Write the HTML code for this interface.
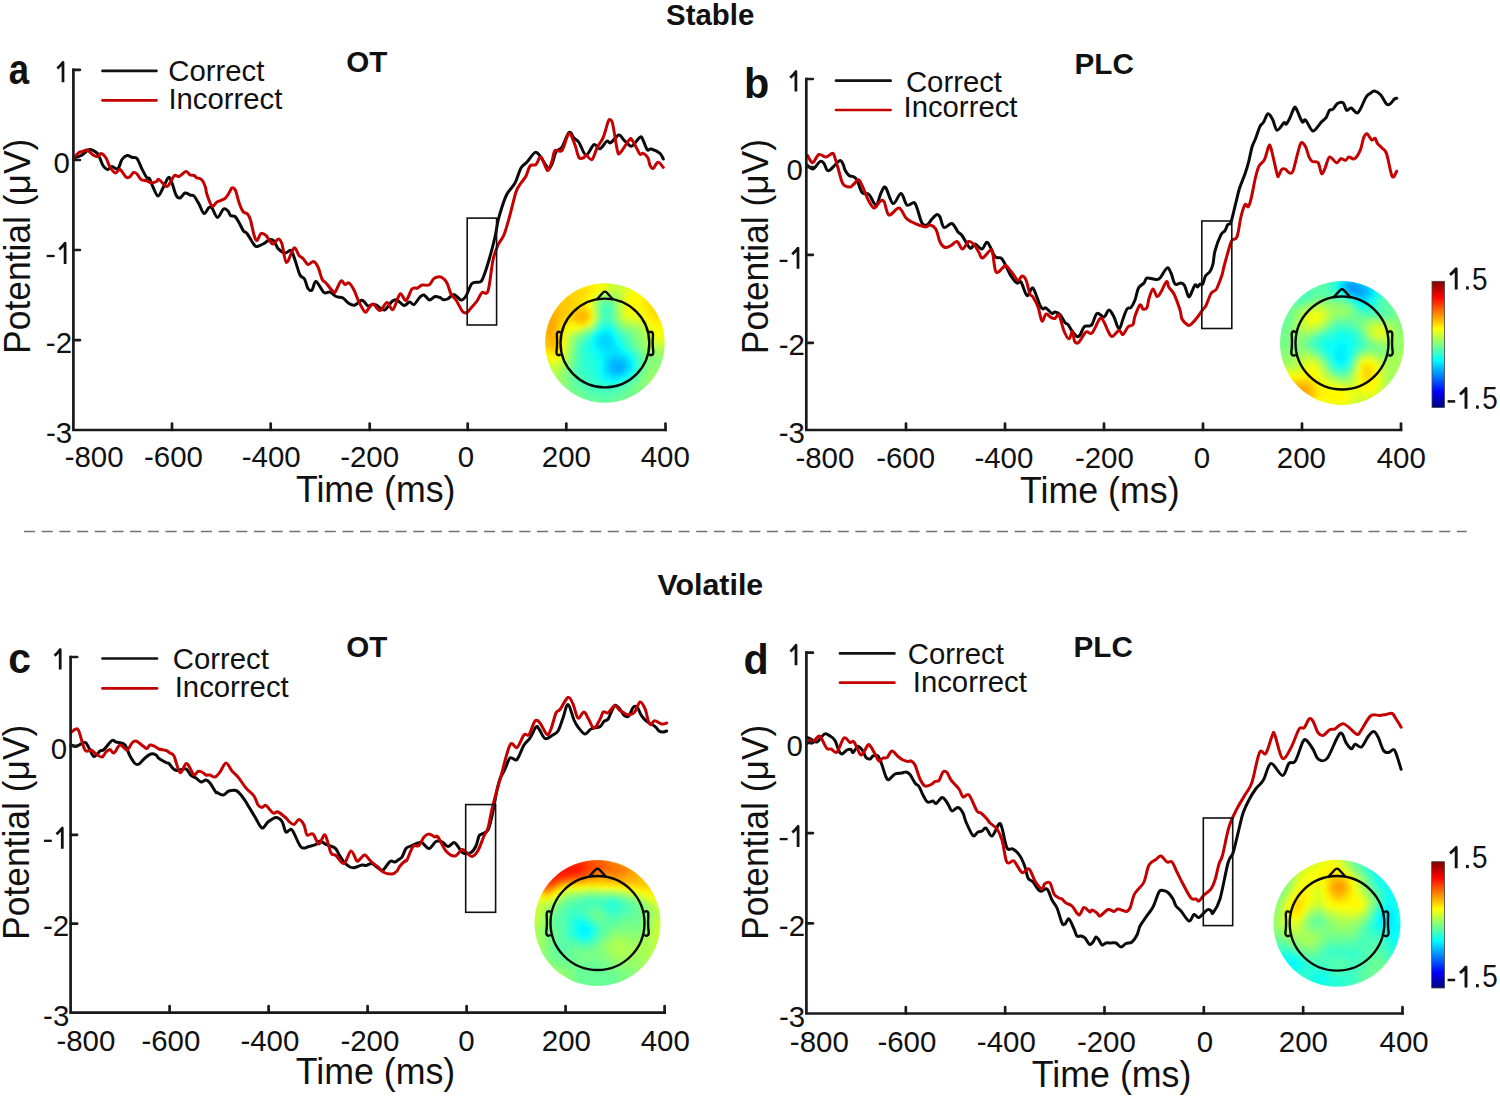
<!DOCTYPE html><html><head><meta charset="utf-8"><style>html,body{margin:0;padding:0;background:#fff;overflow:hidden}svg{display:block}text{font-family:"Liberation Sans", sans-serif}</style></head><body>
<svg width="1500" height="1098" viewBox="0 0 1500 1098">
<rect width="1500" height="1098" fill="#fff"/>
<text x="666.12" y="24.7" font-size="29.9" font-weight="bold" textLength="88.21" lengthAdjust="spacingAndGlyphs" fill="#111">Stable</text>
<text x="657.47" y="595.2" font-size="29.6" font-weight="bold" textLength="105.76" lengthAdjust="spacingAndGlyphs" fill="#111">Volatile</text>
<line x1="24" y1="531.6" x2="1466.7" y2="531.6" stroke="#727272" stroke-width="1.5" stroke-dasharray="11.1 6.59"/>
<defs><filter id="tb" x="-10%" y="-10%" width="120%" height="120%"><feGaussianBlur stdDeviation="2.2"/></filter>
<clipPath id="cpa"><circle cx="604.90" cy="343.00" r="59.80"/></clipPath>
<clipPath id="cpb"><circle cx="1342.00" cy="343.00" r="62.00"/></clipPath>
<clipPath id="cpc"><circle cx="597.50" cy="923.00" r="63.00"/></clipPath>
<clipPath id="cpd"><circle cx="1337.00" cy="923.30" r="63.50"/></clipPath>
<linearGradient id="jetg" x1="0" y1="0" x2="0" y2="1"><stop offset="0.0000" stop-color="#800000"/><stop offset="0.0312" stop-color="#9f0000"/><stop offset="0.0625" stop-color="#bf0000"/><stop offset="0.0938" stop-color="#df0000"/><stop offset="0.1250" stop-color="#ff0000"/><stop offset="0.1562" stop-color="#ff2000"/><stop offset="0.1875" stop-color="#ff4000"/><stop offset="0.2188" stop-color="#ff6000"/><stop offset="0.2500" stop-color="#ff8000"/><stop offset="0.2812" stop-color="#ff9f00"/><stop offset="0.3125" stop-color="#ffbf00"/><stop offset="0.3438" stop-color="#ffdf00"/><stop offset="0.3750" stop-color="#ffff00"/><stop offset="0.4062" stop-color="#dfff20"/><stop offset="0.4375" stop-color="#bfff40"/><stop offset="0.4688" stop-color="#9fff60"/><stop offset="0.5000" stop-color="#80ff80"/><stop offset="0.5312" stop-color="#60ff9f"/><stop offset="0.5625" stop-color="#40ffbf"/><stop offset="0.5938" stop-color="#20ffdf"/><stop offset="0.6250" stop-color="#00ffff"/><stop offset="0.6562" stop-color="#00dfff"/><stop offset="0.6875" stop-color="#00bfff"/><stop offset="0.7188" stop-color="#009fff"/><stop offset="0.7500" stop-color="#0080ff"/><stop offset="0.7812" stop-color="#0060ff"/><stop offset="0.8125" stop-color="#0040ff"/><stop offset="0.8438" stop-color="#0020ff"/><stop offset="0.8750" stop-color="#0000ff"/><stop offset="0.9062" stop-color="#0000df"/><stop offset="0.9375" stop-color="#0000bf"/><stop offset="0.9688" stop-color="#00009f"/><stop offset="1.0000" stop-color="#000080"/></linearGradient>
</defs>
<g clip-path="url(#cpa)"><g filter="url(#tb)">
<path fill="#e7ff18" d="M583 277h5v5h-5zM587 277h5v5h-5zM591 277h5v5h-5zM595 277h5v5h-5zM599 277h5v5h-5zM603 281h5v5h-5zM603 285h5v5h-5zM627 285h5v5h-5zM631 285h5v5h-5zM635 285h5v5h-5zM639 285h5v5h-5zM599 289h5v5h-5zM627 289h5v5h-5zM623 293h5v5h-5zM623 297h5v5h-5zM623 301h5v5h-5zM623 305h5v5h-5zM623 309h5v5h-5zM591 313h5v5h-5zM623 313h5v5h-5zM627 313h5v5h-5zM635 313h5v5h-5zM591 317h5v5h-5zM639 317h5v5h-5zM643 321h5v5h-5zM579 325h5v5h-5zM647 325h5v5h-5zM567 329h5v5h-5zM563 333h5v5h-5zM651 333h5v5h-5zM663 333h5v5h-5zM563 337h5v5h-5zM655 337h5v5h-5zM659 337h5v5h-5zM563 341h5v5h-5zM539 353h5v5h-5zM559 353h5v5h-5zM543 357h5v5h-5zM555 357h5v5h-5zM551 361h5v5h-5z"/>
<path fill="#d7ff28" d="M603 277h5v5h-5zM607 277h5v5h-5zM607 281h5v5h-5zM627 281h5v5h-5zM631 281h5v5h-5zM607 285h5v5h-5zM623 285h5v5h-5zM603 289h5v5h-5zM619 289h5v5h-5zM623 289h5v5h-5zM595 293h5v5h-5zM591 297h5v5h-5zM591 309h5v5h-5zM623 317h5v5h-5zM627 317h5v5h-5zM631 317h5v5h-5zM635 317h5v5h-5zM639 321h5v5h-5zM667 321h5v5h-5zM583 325h5v5h-5zM667 325h5v5h-5zM571 329h5v5h-5zM647 329h5v5h-5zM667 329h5v5h-5zM667 333h5v5h-5zM651 337h5v5h-5zM663 337h5v5h-5zM655 341h5v5h-5zM659 341h5v5h-5zM563 345h5v5h-5zM563 349h5v5h-5zM539 357h5v5h-5zM559 357h5v5h-5zM543 361h5v5h-5zM547 361h5v5h-5zM555 361h5v5h-5z"/>
<path fill="#c7ff38" d="M611 277h5v5h-5zM611 281h5v5h-5zM615 281h5v5h-5zM619 281h5v5h-5zM623 281h5v5h-5zM611 285h5v5h-5zM615 285h5v5h-5zM619 285h5v5h-5zM607 289h5v5h-5zM611 289h5v5h-5zM615 289h5v5h-5zM619 293h5v5h-5zM619 297h5v5h-5zM591 301h5v5h-5zM619 301h5v5h-5zM591 305h5v5h-5zM619 305h5v5h-5zM619 309h5v5h-5zM619 313h5v5h-5zM631 321h5v5h-5zM635 321h5v5h-5zM643 325h5v5h-5zM575 329h5v5h-5zM643 329h5v5h-5zM567 333h5v5h-5zM647 333h5v5h-5zM647 337h5v5h-5zM667 337h5v5h-5zM651 341h5v5h-5zM663 341h5v5h-5zM667 341h5v5h-5zM563 353h5v5h-5zM539 361h5v5h-5zM559 361h5v5h-5zM543 365h5v5h-5zM547 365h5v5h-5zM551 365h5v5h-5zM555 365h5v5h-5z"/>
<path fill="#b7ff48" d="M615 277h5v5h-5zM619 277h5v5h-5zM623 277h5v5h-5zM599 293h5v5h-5zM615 293h5v5h-5zM595 297h5v5h-5zM619 317h5v5h-5zM591 321h5v5h-5zM623 321h5v5h-5zM627 321h5v5h-5zM587 325h5v5h-5zM639 325h5v5h-5zM579 329h5v5h-5zM571 333h5v5h-5zM643 333h5v5h-5zM567 337h5v5h-5zM567 341h5v5h-5zM647 341h5v5h-5zM651 345h5v5h-5zM655 345h5v5h-5zM659 345h5v5h-5zM663 345h5v5h-5zM667 345h5v5h-5zM563 357h5v5h-5zM559 365h5v5h-5zM543 369h5v5h-5zM547 369h5v5h-5zM551 369h5v5h-5zM555 369h5v5h-5zM547 373h5v5h-5zM551 373h5v5h-5z"/>
<path fill="#f7ff08" d="M575 281h5v5h-5zM595 281h5v5h-5zM599 281h5v5h-5zM599 285h5v5h-5zM595 289h5v5h-5zM631 289h5v5h-5zM635 289h5v5h-5zM639 289h5v5h-5zM643 289h5v5h-5zM591 293h5v5h-5zM627 293h5v5h-5zM587 297h5v5h-5zM627 297h5v5h-5zM587 301h5v5h-5zM627 301h5v5h-5zM587 305h5v5h-5zM627 305h5v5h-5zM631 305h5v5h-5zM635 305h5v5h-5zM627 309h5v5h-5zM631 309h5v5h-5zM635 309h5v5h-5zM639 309h5v5h-5zM631 313h5v5h-5zM639 313h5v5h-5zM663 313h5v5h-5zM643 317h5v5h-5zM663 317h5v5h-5zM587 321h5v5h-5zM647 321h5v5h-5zM663 321h5v5h-5zM567 325h5v5h-5zM571 325h5v5h-5zM575 325h5v5h-5zM651 325h5v5h-5zM663 325h5v5h-5zM563 329h5v5h-5zM651 329h5v5h-5zM655 329h5v5h-5zM659 329h5v5h-5zM663 329h5v5h-5zM655 333h5v5h-5zM659 333h5v5h-5zM539 349h5v5h-5zM559 349h5v5h-5zM543 353h5v5h-5zM547 357h5v5h-5zM551 357h5v5h-5z"/>
<path fill="#fff700" d="M579 281h5v5h-5zM583 281h5v5h-5zM587 281h5v5h-5zM591 281h5v5h-5zM567 285h5v5h-5zM571 285h5v5h-5zM591 285h5v5h-5zM595 285h5v5h-5zM591 289h5v5h-5zM587 293h5v5h-5zM631 293h5v5h-5zM635 293h5v5h-5zM639 293h5v5h-5zM643 293h5v5h-5zM647 293h5v5h-5zM631 297h5v5h-5zM635 297h5v5h-5zM639 297h5v5h-5zM643 297h5v5h-5zM583 301h5v5h-5zM631 301h5v5h-5zM635 301h5v5h-5zM639 301h5v5h-5zM639 305h5v5h-5zM659 305h5v5h-5zM643 309h5v5h-5zM643 313h5v5h-5zM647 317h5v5h-5zM659 317h5v5h-5zM567 321h5v5h-5zM651 321h5v5h-5zM655 321h5v5h-5zM659 321h5v5h-5zM563 325h5v5h-5zM655 325h5v5h-5zM659 325h5v5h-5zM559 341h5v5h-5zM539 345h5v5h-5zM559 345h5v5h-5zM543 349h5v5h-5zM547 353h5v5h-5zM551 353h5v5h-5zM555 353h5v5h-5z"/>
<path fill="#ffe700" d="M575 285h5v5h-5zM579 285h5v5h-5zM583 285h5v5h-5zM587 285h5v5h-5zM563 289h5v5h-5zM567 289h5v5h-5zM587 289h5v5h-5zM559 293h5v5h-5zM583 293h5v5h-5zM579 297h5v5h-5zM583 297h5v5h-5zM647 297h5v5h-5zM651 297h5v5h-5zM579 301h5v5h-5zM643 301h5v5h-5zM647 301h5v5h-5zM655 301h5v5h-5zM583 305h5v5h-5zM643 305h5v5h-5zM647 305h5v5h-5zM587 309h5v5h-5zM647 309h5v5h-5zM659 309h5v5h-5zM647 313h5v5h-5zM651 313h5v5h-5zM659 313h5v5h-5zM587 317h5v5h-5zM651 317h5v5h-5zM655 317h5v5h-5zM563 321h5v5h-5zM571 321h5v5h-5zM575 321h5v5h-5zM583 321h5v5h-5zM559 325h5v5h-5zM559 329h5v5h-5zM559 333h5v5h-5zM539 337h5v5h-5zM559 337h5v5h-5zM539 341h5v5h-5zM547 349h5v5h-5zM555 349h5v5h-5z"/>
<path fill="#ffd700" d="M571 289h5v5h-5zM575 289h5v5h-5zM579 289h5v5h-5zM583 289h5v5h-5zM563 293h5v5h-5zM567 293h5v5h-5zM571 293h5v5h-5zM575 293h5v5h-5zM579 293h5v5h-5zM555 297h5v5h-5zM559 297h5v5h-5zM571 297h5v5h-5zM575 297h5v5h-5zM551 301h5v5h-5zM571 301h5v5h-5zM575 301h5v5h-5zM651 301h5v5h-5zM547 305h5v5h-5zM567 305h5v5h-5zM571 305h5v5h-5zM575 305h5v5h-5zM579 305h5v5h-5zM651 305h5v5h-5zM655 305h5v5h-5zM567 309h5v5h-5zM651 309h5v5h-5zM655 309h5v5h-5zM563 313h5v5h-5zM567 313h5v5h-5zM587 313h5v5h-5zM655 313h5v5h-5zM559 317h5v5h-5zM563 317h5v5h-5zM567 317h5v5h-5zM571 317h5v5h-5zM539 321h5v5h-5zM559 321h5v5h-5zM579 321h5v5h-5zM539 325h5v5h-5zM539 329h5v5h-5zM539 333h5v5h-5zM555 341h5v5h-5zM543 345h5v5h-5zM555 345h5v5h-5zM551 349h5v5h-5z"/>
<path fill="#a7ff58" d="M603 293h5v5h-5zM607 293h5v5h-5zM611 293h5v5h-5zM615 297h5v5h-5zM615 301h5v5h-5zM615 305h5v5h-5zM595 313h5v5h-5zM631 325h5v5h-5zM635 325h5v5h-5zM639 329h5v5h-5zM643 337h5v5h-5zM643 341h5v5h-5zM567 345h5v5h-5zM647 345h5v5h-5zM567 349h5v5h-5zM655 349h5v5h-5zM659 349h5v5h-5zM663 349h5v5h-5zM667 349h5v5h-5zM563 361h5v5h-5zM559 369h5v5h-5zM555 373h5v5h-5zM547 377h5v5h-5zM551 377h5v5h-5zM555 377h5v5h-5zM551 381h5v5h-5z"/>
<path fill="#ffc700" d="M563 297h5v5h-5zM567 297h5v5h-5zM555 301h5v5h-5zM559 301h5v5h-5zM563 301h5v5h-5zM567 301h5v5h-5zM551 305h5v5h-5zM555 305h5v5h-5zM559 305h5v5h-5zM563 305h5v5h-5zM547 309h5v5h-5zM559 309h5v5h-5zM563 309h5v5h-5zM571 309h5v5h-5zM575 309h5v5h-5zM579 309h5v5h-5zM583 309h5v5h-5zM543 313h5v5h-5zM559 313h5v5h-5zM571 313h5v5h-5zM575 317h5v5h-5zM583 317h5v5h-5zM555 321h5v5h-5zM555 325h5v5h-5zM555 329h5v5h-5zM555 333h5v5h-5zM543 337h5v5h-5zM555 337h5v5h-5zM543 341h5v5h-5zM547 345h5v5h-5zM551 345h5v5h-5z"/>
<path fill="#97ff68" d="M599 297h5v5h-5zM611 297h5v5h-5zM595 301h5v5h-5zM595 305h5v5h-5zM595 309h5v5h-5zM615 309h5v5h-5zM615 313h5v5h-5zM595 317h5v5h-5zM619 321h5v5h-5zM627 325h5v5h-5zM583 329h5v5h-5zM635 329h5v5h-5zM575 333h5v5h-5zM639 333h5v5h-5zM571 337h5v5h-5zM639 337h5v5h-5zM643 345h5v5h-5zM647 349h5v5h-5zM651 349h5v5h-5zM567 353h5v5h-5zM655 353h5v5h-5zM659 353h5v5h-5zM663 353h5v5h-5zM667 353h5v5h-5zM567 357h5v5h-5zM663 357h5v5h-5zM667 357h5v5h-5zM667 361h5v5h-5zM563 365h5v5h-5zM655 365h5v5h-5zM659 365h5v5h-5zM663 365h5v5h-5zM651 369h5v5h-5zM655 369h5v5h-5zM659 369h5v5h-5zM663 369h5v5h-5zM559 373h5v5h-5zM647 373h5v5h-5zM651 373h5v5h-5zM655 373h5v5h-5zM659 373h5v5h-5zM559 377h5v5h-5zM647 377h5v5h-5zM651 377h5v5h-5zM655 377h5v5h-5zM659 377h5v5h-5zM555 381h5v5h-5zM559 381h5v5h-5zM647 381h5v5h-5zM651 381h5v5h-5zM655 381h5v5h-5zM555 385h5v5h-5zM559 385h5v5h-5zM559 389h5v5h-5z"/>
<path fill="#78ff87" d="M603 297h5v5h-5zM607 297h5v5h-5zM611 301h5v5h-5zM595 321h5v5h-5zM615 321h5v5h-5zM619 325h5v5h-5zM587 329h5v5h-5zM627 329h5v5h-5zM579 333h5v5h-5zM631 333h5v5h-5zM575 337h5v5h-5zM635 341h5v5h-5zM635 345h5v5h-5zM571 349h5v5h-5zM639 349h5v5h-5zM571 353h5v5h-5zM643 353h5v5h-5zM571 357h5v5h-5zM643 357h5v5h-5zM643 361h5v5h-5zM567 365h5v5h-5zM643 365h5v5h-5zM567 369h5v5h-5zM643 369h5v5h-5zM567 373h5v5h-5zM639 373h5v5h-5zM567 377h5v5h-5zM639 377h5v5h-5zM567 381h5v5h-5zM635 381h5v5h-5zM567 385h5v5h-5zM631 385h5v5h-5zM635 385h5v5h-5zM567 389h5v5h-5zM571 389h5v5h-5zM631 389h5v5h-5zM635 389h5v5h-5zM639 389h5v5h-5zM571 393h5v5h-5zM575 393h5v5h-5zM627 393h5v5h-5zM631 393h5v5h-5zM635 393h5v5h-5zM639 393h5v5h-5zM643 393h5v5h-5zM575 397h5v5h-5zM579 397h5v5h-5zM623 397h5v5h-5zM627 397h5v5h-5zM631 397h5v5h-5zM635 397h5v5h-5zM639 397h5v5h-5zM579 401h5v5h-5zM583 401h5v5h-5zM587 401h5v5h-5zM591 401h5v5h-5zM611 401h5v5h-5zM615 401h5v5h-5zM619 401h5v5h-5zM623 401h5v5h-5zM627 401h5v5h-5zM631 401h5v5h-5zM587 405h5v5h-5zM591 405h5v5h-5zM595 405h5v5h-5zM599 405h5v5h-5zM603 405h5v5h-5zM607 405h5v5h-5zM611 405h5v5h-5zM615 405h5v5h-5zM619 405h5v5h-5z"/>
<path fill="#68ff97" d="M599 301h5v5h-5zM611 305h5v5h-5zM611 309h5v5h-5zM599 313h5v5h-5zM611 313h5v5h-5zM611 317h5v5h-5zM623 329h5v5h-5zM583 333h5v5h-5zM627 333h5v5h-5zM631 337h5v5h-5zM575 341h5v5h-5zM631 341h5v5h-5zM639 353h5v5h-5zM571 361h5v5h-5zM571 365h5v5h-5zM639 369h5v5h-5zM571 377h5v5h-5zM635 377h5v5h-5zM571 381h5v5h-5zM631 381h5v5h-5zM571 385h5v5h-5zM575 385h5v5h-5zM627 385h5v5h-5zM575 389h5v5h-5zM579 389h5v5h-5zM623 389h5v5h-5zM627 389h5v5h-5zM579 393h5v5h-5zM583 393h5v5h-5zM619 393h5v5h-5zM623 393h5v5h-5zM583 397h5v5h-5zM587 397h5v5h-5zM591 397h5v5h-5zM595 397h5v5h-5zM607 397h5v5h-5zM611 397h5v5h-5zM615 397h5v5h-5zM619 397h5v5h-5zM595 401h5v5h-5zM599 401h5v5h-5zM603 401h5v5h-5zM607 401h5v5h-5z"/>
<path fill="#58ffa7" d="M603 301h5v5h-5zM607 301h5v5h-5zM599 305h5v5h-5zM599 309h5v5h-5zM599 317h5v5h-5zM615 325h5v5h-5zM619 329h5v5h-5zM623 333h5v5h-5zM579 337h5v5h-5zM627 337h5v5h-5zM575 345h5v5h-5zM631 345h5v5h-5zM575 349h5v5h-5zM635 349h5v5h-5zM575 353h5v5h-5zM575 357h5v5h-5zM639 357h5v5h-5zM639 361h5v5h-5zM639 365h5v5h-5zM571 369h5v5h-5zM571 373h5v5h-5zM635 373h5v5h-5zM575 377h5v5h-5zM575 381h5v5h-5zM627 381h5v5h-5zM579 385h5v5h-5zM583 385h5v5h-5zM623 385h5v5h-5zM583 389h5v5h-5zM587 389h5v5h-5zM615 389h5v5h-5zM619 389h5v5h-5zM587 393h5v5h-5zM591 393h5v5h-5zM595 393h5v5h-5zM599 393h5v5h-5zM607 393h5v5h-5zM611 393h5v5h-5zM615 393h5v5h-5zM599 397h5v5h-5zM603 397h5v5h-5z"/>
<path fill="#48ffb7" d="M603 305h5v5h-5zM607 305h5v5h-5zM607 309h5v5h-5zM603 313h5v5h-5zM607 313h5v5h-5zM607 317h5v5h-5zM599 321h5v5h-5zM611 321h5v5h-5zM595 325h5v5h-5zM591 329h5v5h-5zM587 333h5v5h-5zM583 337h5v5h-5zM623 337h5v5h-5zM579 341h5v5h-5zM627 341h5v5h-5zM627 345h5v5h-5zM631 349h5v5h-5zM635 353h5v5h-5zM575 361h5v5h-5zM575 365h5v5h-5zM575 369h5v5h-5zM635 369h5v5h-5zM575 373h5v5h-5zM579 373h5v5h-5zM579 377h5v5h-5zM583 377h5v5h-5zM631 377h5v5h-5zM579 381h5v5h-5zM583 381h5v5h-5zM587 381h5v5h-5zM623 381h5v5h-5zM587 385h5v5h-5zM591 385h5v5h-5zM615 385h5v5h-5zM619 385h5v5h-5zM591 389h5v5h-5zM595 389h5v5h-5zM599 389h5v5h-5zM603 389h5v5h-5zM607 389h5v5h-5zM611 389h5v5h-5zM603 393h5v5h-5z"/>
<path fill="#ffb700" d="M551 309h5v5h-5zM555 309h5v5h-5zM547 313h5v5h-5zM551 313h5v5h-5zM555 313h5v5h-5zM575 313h5v5h-5zM579 313h5v5h-5zM583 313h5v5h-5zM543 317h5v5h-5zM555 317h5v5h-5zM579 317h5v5h-5zM543 321h5v5h-5zM543 325h5v5h-5zM543 329h5v5h-5zM551 329h5v5h-5zM543 333h5v5h-5zM551 333h5v5h-5zM547 337h5v5h-5zM551 337h5v5h-5zM547 341h5v5h-5zM551 341h5v5h-5z"/>
<path fill="#38ffc7" d="M603 309h5v5h-5zM603 317h5v5h-5zM607 321h5v5h-5zM611 325h5v5h-5zM615 329h5v5h-5zM619 333h5v5h-5zM583 341h5v5h-5zM623 341h5v5h-5zM579 345h5v5h-5zM579 349h5v5h-5zM579 353h5v5h-5zM579 357h5v5h-5zM635 357h5v5h-5zM579 361h5v5h-5zM635 361h5v5h-5zM579 365h5v5h-5zM583 365h5v5h-5zM635 365h5v5h-5zM579 369h5v5h-5zM583 369h5v5h-5zM583 373h5v5h-5zM587 373h5v5h-5zM631 373h5v5h-5zM587 377h5v5h-5zM591 377h5v5h-5zM627 377h5v5h-5zM591 381h5v5h-5zM595 381h5v5h-5zM619 381h5v5h-5zM595 385h5v5h-5zM599 385h5v5h-5zM603 385h5v5h-5zM607 385h5v5h-5zM611 385h5v5h-5z"/>
<path fill="#ffa700" d="M547 317h5v5h-5zM551 317h5v5h-5zM547 321h5v5h-5zM551 321h5v5h-5zM547 325h5v5h-5zM551 325h5v5h-5zM547 329h5v5h-5zM547 333h5v5h-5z"/>
<path fill="#87ff78" d="M615 317h5v5h-5zM591 325h5v5h-5zM623 325h5v5h-5zM631 329h5v5h-5zM635 333h5v5h-5zM635 337h5v5h-5zM571 341h5v5h-5zM639 341h5v5h-5zM571 345h5v5h-5zM639 345h5v5h-5zM643 349h5v5h-5zM647 353h5v5h-5zM651 353h5v5h-5zM647 357h5v5h-5zM651 357h5v5h-5zM655 357h5v5h-5zM659 357h5v5h-5zM567 361h5v5h-5zM647 361h5v5h-5zM651 361h5v5h-5zM655 361h5v5h-5zM659 361h5v5h-5zM663 361h5v5h-5zM647 365h5v5h-5zM651 365h5v5h-5zM563 369h5v5h-5zM647 369h5v5h-5zM563 373h5v5h-5zM643 373h5v5h-5zM563 377h5v5h-5zM643 377h5v5h-5zM563 381h5v5h-5zM639 381h5v5h-5zM643 381h5v5h-5zM563 385h5v5h-5zM639 385h5v5h-5zM643 385h5v5h-5zM647 385h5v5h-5zM651 385h5v5h-5zM563 389h5v5h-5zM643 389h5v5h-5zM647 389h5v5h-5zM563 393h5v5h-5zM567 393h5v5h-5zM567 397h5v5h-5zM571 397h5v5h-5zM575 401h5v5h-5zM583 405h5v5h-5zM623 405h5v5h-5z"/>
<path fill="#28ffd7" d="M603 321h5v5h-5zM599 325h5v5h-5zM615 333h5v5h-5zM587 337h5v5h-5zM619 337h5v5h-5zM583 345h5v5h-5zM623 345h5v5h-5zM583 349h5v5h-5zM627 349h5v5h-5zM583 353h5v5h-5zM587 353h5v5h-5zM631 353h5v5h-5zM583 357h5v5h-5zM587 357h5v5h-5zM583 361h5v5h-5zM587 361h5v5h-5zM591 361h5v5h-5zM587 365h5v5h-5zM591 365h5v5h-5zM587 369h5v5h-5zM591 369h5v5h-5zM591 373h5v5h-5zM595 373h5v5h-5zM595 377h5v5h-5zM599 381h5v5h-5zM603 381h5v5h-5zM615 381h5v5h-5z"/>
<path fill="#18ffe7" d="M603 325h5v5h-5zM607 325h5v5h-5zM595 329h5v5h-5zM611 329h5v5h-5zM591 333h5v5h-5zM587 341h5v5h-5zM619 341h5v5h-5zM587 345h5v5h-5zM619 345h5v5h-5zM587 349h5v5h-5zM591 349h5v5h-5zM623 349h5v5h-5zM591 353h5v5h-5zM591 357h5v5h-5zM595 357h5v5h-5zM631 357h5v5h-5zM595 361h5v5h-5zM595 365h5v5h-5zM595 369h5v5h-5zM631 369h5v5h-5zM627 373h5v5h-5zM599 377h5v5h-5zM623 377h5v5h-5zM607 381h5v5h-5zM611 381h5v5h-5z"/>
<path fill="#08fff7" d="M599 329h5v5h-5zM611 333h5v5h-5zM591 337h5v5h-5zM615 337h5v5h-5zM591 341h5v5h-5zM615 341h5v5h-5zM591 345h5v5h-5zM595 349h5v5h-5zM595 353h5v5h-5zM627 353h5v5h-5zM599 357h5v5h-5zM599 361h5v5h-5zM631 361h5v5h-5zM599 365h5v5h-5zM631 365h5v5h-5zM599 369h5v5h-5zM599 373h5v5h-5zM603 377h5v5h-5zM607 377h5v5h-5zM619 377h5v5h-5z"/>
<path fill="#00f7ff" d="M603 329h5v5h-5zM607 329h5v5h-5zM595 333h5v5h-5zM611 337h5v5h-5zM595 345h5v5h-5zM615 345h5v5h-5zM599 349h5v5h-5zM619 349h5v5h-5zM599 353h5v5h-5zM623 353h5v5h-5zM627 357h5v5h-5zM627 369h5v5h-5zM603 373h5v5h-5zM623 373h5v5h-5zM611 377h5v5h-5zM615 377h5v5h-5z"/>
<path fill="#00e7ff" d="M599 333h5v5h-5zM607 333h5v5h-5zM595 337h5v5h-5zM595 341h5v5h-5zM611 341h5v5h-5zM599 345h5v5h-5zM611 345h5v5h-5zM603 349h5v5h-5zM607 349h5v5h-5zM611 349h5v5h-5zM615 349h5v5h-5zM603 353h5v5h-5zM607 353h5v5h-5zM619 353h5v5h-5zM603 357h5v5h-5zM603 361h5v5h-5zM627 361h5v5h-5zM603 365h5v5h-5zM603 369h5v5h-5zM607 373h5v5h-5zM619 373h5v5h-5z"/>
<path fill="#00d7ff" d="M603 333h5v5h-5zM599 337h5v5h-5zM603 337h5v5h-5zM607 337h5v5h-5zM599 341h5v5h-5zM603 341h5v5h-5zM607 341h5v5h-5zM603 345h5v5h-5zM607 345h5v5h-5zM611 353h5v5h-5zM615 353h5v5h-5zM607 357h5v5h-5zM623 357h5v5h-5zM627 365h5v5h-5zM607 369h5v5h-5zM623 369h5v5h-5zM611 373h5v5h-5zM615 373h5v5h-5z"/>
<path fill="#00c7ff" d="M611 357h5v5h-5zM615 357h5v5h-5zM619 357h5v5h-5zM607 361h5v5h-5zM623 361h5v5h-5zM607 365h5v5h-5zM623 365h5v5h-5z"/>
<path fill="#00b7ff" d="M611 361h5v5h-5zM615 361h5v5h-5zM619 361h5v5h-5zM611 365h5v5h-5zM611 369h5v5h-5zM615 369h5v5h-5zM619 369h5v5h-5z"/>
<path fill="#00a7ff" d="M615 365h5v5h-5zM619 365h5v5h-5z"/>
</g></g>
<circle cx="604.90" cy="343.00" r="44.40" fill="none" stroke="#0a0a0a" stroke-width="2.4"/>
<path d="M596.61 299.68 L602.39 293.20 Q604.90 290.11 607.41 293.20 L613.19 299.68" fill="none" stroke="#0a0a0a" stroke-width="2.4" stroke-linejoin="round"/>
<path d="M560.70 332.97 C559.48 331.04 556.65 331.23 556.84 335.19 C557.23 341.07 557.23 346.86 556.46 351.58 C556.26 355.44 559.08 355.92 560.70 354.19" fill="none" stroke="#0a0a0a" stroke-width="2.4" stroke-linejoin="round"/>
<path d="M649.10 332.97 C650.32 331.04 653.15 331.23 652.96 335.19 C652.57 341.07 652.57 346.86 653.34 351.58 C653.54 355.44 650.72 355.92 649.10 354.19" fill="none" stroke="#0a0a0a" stroke-width="2.4" stroke-linejoin="round"/>
<g clip-path="url(#cpb)"><g filter="url(#tb)">
<path fill="#78ff87" d="M1318 275h5v5h-5zM1390 295h5v5h-5zM1310 299h5v5h-5zM1314 299h5v5h-5zM1326 299h5v5h-5zM1330 299h5v5h-5zM1334 299h5v5h-5zM1338 299h5v5h-5zM1390 299h5v5h-5zM1394 299h5v5h-5zM1282 303h5v5h-5zM1298 303h5v5h-5zM1302 303h5v5h-5zM1346 303h5v5h-5zM1394 303h5v5h-5zM1398 303h5v5h-5zM1290 307h5v5h-5zM1294 307h5v5h-5zM1350 307h5v5h-5zM1394 307h5v5h-5zM1398 307h5v5h-5zM1290 311h5v5h-5zM1350 311h5v5h-5zM1394 311h5v5h-5zM1398 311h5v5h-5zM1290 315h5v5h-5zM1338 315h5v5h-5zM1342 315h5v5h-5zM1346 315h5v5h-5zM1350 315h5v5h-5zM1390 315h5v5h-5zM1394 315h5v5h-5zM1290 319h5v5h-5zM1330 319h5v5h-5zM1358 319h5v5h-5zM1362 319h5v5h-5zM1286 323h5v5h-5zM1326 323h5v5h-5zM1358 323h5v5h-5zM1274 327h5v5h-5zM1286 327h5v5h-5zM1322 327h5v5h-5zM1274 331h5v5h-5zM1282 331h5v5h-5zM1286 331h5v5h-5zM1314 331h5v5h-5zM1362 331h5v5h-5zM1274 335h5v5h-5zM1278 335h5v5h-5zM1282 335h5v5h-5zM1286 335h5v5h-5zM1306 335h5v5h-5zM1274 339h5v5h-5zM1278 339h5v5h-5zM1282 339h5v5h-5zM1286 339h5v5h-5zM1290 339h5v5h-5zM1302 339h5v5h-5zM1274 343h5v5h-5zM1278 343h5v5h-5zM1282 343h5v5h-5zM1286 343h5v5h-5zM1302 343h5v5h-5zM1374 343h5v5h-5zM1278 347h5v5h-5zM1282 347h5v5h-5zM1306 347h5v5h-5zM1366 347h5v5h-5zM1370 347h5v5h-5zM1374 347h5v5h-5zM1378 347h5v5h-5zM1382 347h5v5h-5zM1358 351h5v5h-5zM1318 355h5v5h-5zM1326 367h5v5h-5zM1350 367h5v5h-5zM1330 371h5v5h-5zM1338 375h5v5h-5zM1342 375h5v5h-5z"/>
<path fill="#68ff97" d="M1322 275h5v5h-5zM1326 275h5v5h-5zM1310 279h5v5h-5zM1314 279h5v5h-5zM1318 279h5v5h-5zM1322 279h5v5h-5zM1314 283h5v5h-5zM1290 295h5v5h-5zM1314 295h5v5h-5zM1318 295h5v5h-5zM1322 295h5v5h-5zM1326 295h5v5h-5zM1386 295h5v5h-5zM1286 299h5v5h-5zM1290 299h5v5h-5zM1306 299h5v5h-5zM1342 299h5v5h-5zM1386 299h5v5h-5zM1286 303h5v5h-5zM1290 303h5v5h-5zM1294 303h5v5h-5zM1386 303h5v5h-5zM1390 303h5v5h-5zM1282 307h5v5h-5zM1286 307h5v5h-5zM1390 307h5v5h-5zM1278 311h5v5h-5zM1282 311h5v5h-5zM1286 311h5v5h-5zM1354 311h5v5h-5zM1390 311h5v5h-5zM1278 315h5v5h-5zM1282 315h5v5h-5zM1286 315h5v5h-5zM1354 315h5v5h-5zM1358 315h5v5h-5zM1362 315h5v5h-5zM1366 315h5v5h-5zM1370 315h5v5h-5zM1374 315h5v5h-5zM1378 315h5v5h-5zM1382 315h5v5h-5zM1386 315h5v5h-5zM1274 319h5v5h-5zM1278 319h5v5h-5zM1282 319h5v5h-5zM1286 319h5v5h-5zM1334 319h5v5h-5zM1338 319h5v5h-5zM1342 319h5v5h-5zM1346 319h5v5h-5zM1350 319h5v5h-5zM1354 319h5v5h-5zM1274 323h5v5h-5zM1278 323h5v5h-5zM1282 323h5v5h-5zM1330 323h5v5h-5zM1354 323h5v5h-5zM1278 327h5v5h-5zM1282 327h5v5h-5zM1358 327h5v5h-5zM1278 331h5v5h-5zM1310 335h5v5h-5zM1362 335h5v5h-5zM1306 339h5v5h-5zM1366 339h5v5h-5zM1306 343h5v5h-5zM1366 343h5v5h-5zM1370 343h5v5h-5zM1310 347h5v5h-5zM1362 347h5v5h-5zM1314 351h5v5h-5zM1354 355h5v5h-5zM1322 359h5v5h-5zM1350 363h5v5h-5zM1346 371h5v5h-5z"/>
<path fill="#58ffa7" d="M1330 275h5v5h-5zM1326 279h5v5h-5zM1302 283h5v5h-5zM1306 283h5v5h-5zM1310 283h5v5h-5zM1318 283h5v5h-5zM1322 283h5v5h-5zM1310 287h5v5h-5zM1314 287h5v5h-5zM1318 287h5v5h-5zM1322 287h5v5h-5zM1310 291h5v5h-5zM1314 291h5v5h-5zM1318 291h5v5h-5zM1322 291h5v5h-5zM1326 291h5v5h-5zM1386 291h5v5h-5zM1294 295h5v5h-5zM1306 295h5v5h-5zM1310 295h5v5h-5zM1330 295h5v5h-5zM1334 295h5v5h-5zM1382 295h5v5h-5zM1294 299h5v5h-5zM1298 299h5v5h-5zM1302 299h5v5h-5zM1382 299h5v5h-5zM1350 303h5v5h-5zM1382 303h5v5h-5zM1354 307h5v5h-5zM1382 307h5v5h-5zM1386 307h5v5h-5zM1358 311h5v5h-5zM1378 311h5v5h-5zM1382 311h5v5h-5zM1386 311h5v5h-5zM1350 323h5v5h-5zM1326 327h5v5h-5zM1354 327h5v5h-5zM1318 331h5v5h-5zM1358 331h5v5h-5zM1362 339h5v5h-5zM1318 351h5v5h-5zM1326 363h5v5h-5zM1330 367h5v5h-5zM1334 371h5v5h-5zM1338 371h5v5h-5zM1342 371h5v5h-5z"/>
<path fill="#38ffc7" d="M1334 275h5v5h-5zM1330 279h5v5h-5zM1330 283h5v5h-5zM1330 287h5v5h-5zM1334 291h5v5h-5zM1378 295h5v5h-5zM1354 303h5v5h-5zM1374 303h5v5h-5zM1358 307h5v5h-5zM1370 307h5v5h-5zM1334 327h5v5h-5zM1346 327h5v5h-5zM1350 327h5v5h-5zM1326 331h5v5h-5zM1354 331h5v5h-5zM1318 335h5v5h-5zM1314 339h5v5h-5zM1358 339h5v5h-5zM1314 343h5v5h-5zM1358 343h5v5h-5zM1318 347h5v5h-5zM1354 347h5v5h-5zM1322 351h5v5h-5zM1350 355h5v5h-5zM1330 363h5v5h-5zM1334 367h5v5h-5z"/>
<path fill="#18ffe7" d="M1338 275h5v5h-5zM1362 275h5v5h-5zM1370 279h5v5h-5zM1334 283h5v5h-5zM1374 283h5v5h-5zM1334 287h5v5h-5zM1338 291h5v5h-5zM1374 295h5v5h-5zM1370 299h5v5h-5zM1358 303h5v5h-5zM1362 303h5v5h-5zM1366 303h5v5h-5zM1334 331h5v5h-5zM1338 331h5v5h-5zM1342 331h5v5h-5zM1346 331h5v5h-5zM1330 335h5v5h-5zM1334 335h5v5h-5zM1346 335h5v5h-5zM1350 335h5v5h-5zM1322 339h5v5h-5zM1326 339h5v5h-5zM1350 339h5v5h-5zM1322 343h5v5h-5zM1322 347h5v5h-5zM1350 347h5v5h-5zM1326 351h5v5h-5zM1330 359h5v5h-5zM1346 359h5v5h-5zM1334 363h5v5h-5z"/>
<path fill="#08fff7" d="M1342 275h5v5h-5zM1358 275h5v5h-5zM1366 279h5v5h-5zM1374 287h5v5h-5zM1374 291h5v5h-5zM1346 295h5v5h-5zM1354 299h5v5h-5zM1338 335h5v5h-5zM1342 335h5v5h-5zM1330 339h5v5h-5zM1334 339h5v5h-5zM1338 339h5v5h-5zM1342 339h5v5h-5zM1346 339h5v5h-5zM1326 343h5v5h-5zM1330 343h5v5h-5zM1334 343h5v5h-5zM1346 343h5v5h-5zM1350 343h5v5h-5zM1326 347h5v5h-5zM1330 347h5v5h-5zM1346 347h5v5h-5zM1330 351h5v5h-5zM1346 351h5v5h-5zM1330 355h5v5h-5zM1346 355h5v5h-5zM1334 359h5v5h-5zM1338 363h5v5h-5zM1342 363h5v5h-5z"/>
<path fill="#00f7ff" d="M1346 275h5v5h-5zM1354 275h5v5h-5zM1338 279h5v5h-5zM1362 279h5v5h-5zM1370 283h5v5h-5zM1338 287h5v5h-5zM1342 291h5v5h-5zM1350 295h5v5h-5zM1370 295h5v5h-5zM1358 299h5v5h-5zM1366 299h5v5h-5zM1338 343h5v5h-5zM1342 343h5v5h-5zM1334 347h5v5h-5zM1338 347h5v5h-5zM1342 347h5v5h-5zM1334 351h5v5h-5zM1342 351h5v5h-5zM1334 355h5v5h-5zM1342 355h5v5h-5zM1338 359h5v5h-5zM1342 359h5v5h-5z"/>
<path fill="#00e7ff" d="M1350 275h5v5h-5zM1338 283h5v5h-5zM1366 283h5v5h-5zM1370 287h5v5h-5zM1370 291h5v5h-5zM1366 295h5v5h-5zM1362 299h5v5h-5zM1338 351h5v5h-5zM1338 355h5v5h-5z"/>
<path fill="#28ffd7" d="M1334 279h5v5h-5zM1378 283h5v5h-5zM1378 287h5v5h-5zM1378 291h5v5h-5zM1342 295h5v5h-5zM1350 299h5v5h-5zM1374 299h5v5h-5zM1370 303h5v5h-5zM1362 307h5v5h-5zM1366 307h5v5h-5zM1338 327h5v5h-5zM1342 327h5v5h-5zM1330 331h5v5h-5zM1350 331h5v5h-5zM1322 335h5v5h-5zM1326 335h5v5h-5zM1354 335h5v5h-5zM1318 339h5v5h-5zM1354 339h5v5h-5zM1318 343h5v5h-5zM1354 343h5v5h-5zM1350 351h5v5h-5zM1326 355h5v5h-5zM1346 363h5v5h-5zM1338 367h5v5h-5zM1342 367h5v5h-5z"/>
<path fill="#00d7ff" d="M1342 279h5v5h-5zM1358 279h5v5h-5zM1342 287h5v5h-5zM1346 291h5v5h-5zM1354 295h5v5h-5z"/>
<path fill="#00c7ff" d="M1346 279h5v5h-5zM1354 279h5v5h-5zM1342 283h5v5h-5zM1362 283h5v5h-5zM1366 287h5v5h-5zM1366 291h5v5h-5zM1358 295h5v5h-5zM1362 295h5v5h-5z"/>
<path fill="#00b7ff" d="M1350 279h5v5h-5zM1358 283h5v5h-5zM1362 287h5v5h-5zM1350 291h5v5h-5zM1362 291h5v5h-5z"/>
<path fill="#48ffb7" d="M1326 283h5v5h-5zM1298 287h5v5h-5zM1302 287h5v5h-5zM1306 287h5v5h-5zM1326 287h5v5h-5zM1382 287h5v5h-5zM1294 291h5v5h-5zM1298 291h5v5h-5zM1302 291h5v5h-5zM1306 291h5v5h-5zM1330 291h5v5h-5zM1382 291h5v5h-5zM1298 295h5v5h-5zM1302 295h5v5h-5zM1338 295h5v5h-5zM1346 299h5v5h-5zM1378 299h5v5h-5zM1378 303h5v5h-5zM1374 307h5v5h-5zM1378 307h5v5h-5zM1362 311h5v5h-5zM1366 311h5v5h-5zM1370 311h5v5h-5zM1374 311h5v5h-5zM1334 323h5v5h-5zM1338 323h5v5h-5zM1342 323h5v5h-5zM1346 323h5v5h-5zM1330 327h5v5h-5zM1322 331h5v5h-5zM1314 335h5v5h-5zM1358 335h5v5h-5zM1310 339h5v5h-5zM1310 343h5v5h-5zM1362 343h5v5h-5zM1314 347h5v5h-5zM1358 347h5v5h-5zM1354 351h5v5h-5zM1322 355h5v5h-5zM1326 359h5v5h-5zM1350 359h5v5h-5zM1346 367h5v5h-5z"/>
<path fill="#00a7ff" d="M1346 283h5v5h-5zM1354 283h5v5h-5zM1346 287h5v5h-5zM1358 287h5v5h-5zM1354 291h5v5h-5zM1358 291h5v5h-5z"/>
<path fill="#0097ff" d="M1350 283h5v5h-5zM1350 287h5v5h-5zM1354 287h5v5h-5z"/>
<path fill="#87ff78" d="M1318 299h5v5h-5zM1322 299h5v5h-5zM1306 303h5v5h-5zM1334 303h5v5h-5zM1338 303h5v5h-5zM1342 303h5v5h-5zM1298 307h5v5h-5zM1346 307h5v5h-5zM1294 311h5v5h-5zM1346 311h5v5h-5zM1402 311h5v5h-5zM1334 315h5v5h-5zM1398 315h5v5h-5zM1402 315h5v5h-5zM1366 319h5v5h-5zM1382 319h5v5h-5zM1386 319h5v5h-5zM1390 319h5v5h-5zM1394 319h5v5h-5zM1398 319h5v5h-5zM1402 319h5v5h-5zM1406 319h5v5h-5zM1290 323h5v5h-5zM1362 323h5v5h-5zM1394 323h5v5h-5zM1398 323h5v5h-5zM1402 323h5v5h-5zM1406 323h5v5h-5zM1290 327h5v5h-5zM1318 327h5v5h-5zM1362 327h5v5h-5zM1398 327h5v5h-5zM1402 327h5v5h-5zM1406 327h5v5h-5zM1290 331h5v5h-5zM1310 331h5v5h-5zM1402 331h5v5h-5zM1406 331h5v5h-5zM1290 335h5v5h-5zM1294 335h5v5h-5zM1298 335h5v5h-5zM1302 335h5v5h-5zM1366 335h5v5h-5zM1406 335h5v5h-5zM1294 339h5v5h-5zM1298 339h5v5h-5zM1370 339h5v5h-5zM1290 343h5v5h-5zM1294 343h5v5h-5zM1298 343h5v5h-5zM1378 343h5v5h-5zM1382 343h5v5h-5zM1386 343h5v5h-5zM1274 347h5v5h-5zM1286 347h5v5h-5zM1290 347h5v5h-5zM1294 347h5v5h-5zM1298 347h5v5h-5zM1302 347h5v5h-5zM1386 347h5v5h-5zM1274 351h5v5h-5zM1278 351h5v5h-5zM1282 351h5v5h-5zM1286 351h5v5h-5zM1310 351h5v5h-5zM1362 351h5v5h-5zM1374 351h5v5h-5zM1378 351h5v5h-5zM1382 351h5v5h-5zM1386 351h5v5h-5zM1274 355h5v5h-5zM1354 359h5v5h-5zM1322 363h5v5h-5zM1334 375h5v5h-5zM1346 375h5v5h-5z"/>
<path fill="#97ff68" d="M1310 303h5v5h-5zM1322 303h5v5h-5zM1326 303h5v5h-5zM1330 303h5v5h-5zM1302 307h5v5h-5zM1330 307h5v5h-5zM1334 307h5v5h-5zM1338 307h5v5h-5zM1342 307h5v5h-5zM1298 311h5v5h-5zM1330 311h5v5h-5zM1334 311h5v5h-5zM1338 311h5v5h-5zM1342 311h5v5h-5zM1294 315h5v5h-5zM1330 315h5v5h-5zM1294 319h5v5h-5zM1326 319h5v5h-5zM1370 319h5v5h-5zM1374 319h5v5h-5zM1378 319h5v5h-5zM1294 323h5v5h-5zM1322 323h5v5h-5zM1390 323h5v5h-5zM1294 327h5v5h-5zM1394 327h5v5h-5zM1294 331h5v5h-5zM1298 331h5v5h-5zM1302 331h5v5h-5zM1306 331h5v5h-5zM1394 331h5v5h-5zM1398 331h5v5h-5zM1394 335h5v5h-5zM1398 335h5v5h-5zM1402 335h5v5h-5zM1374 339h5v5h-5zM1390 339h5v5h-5zM1394 339h5v5h-5zM1398 339h5v5h-5zM1402 339h5v5h-5zM1406 339h5v5h-5zM1390 343h5v5h-5zM1394 343h5v5h-5zM1398 343h5v5h-5zM1402 343h5v5h-5zM1406 343h5v5h-5zM1390 347h5v5h-5zM1394 347h5v5h-5zM1398 347h5v5h-5zM1402 347h5v5h-5zM1406 347h5v5h-5zM1290 351h5v5h-5zM1294 351h5v5h-5zM1298 351h5v5h-5zM1302 351h5v5h-5zM1306 351h5v5h-5zM1366 351h5v5h-5zM1370 351h5v5h-5zM1390 351h5v5h-5zM1394 351h5v5h-5zM1406 351h5v5h-5zM1278 355h5v5h-5zM1282 355h5v5h-5zM1286 355h5v5h-5zM1290 355h5v5h-5zM1314 355h5v5h-5zM1378 355h5v5h-5zM1382 355h5v5h-5zM1386 355h5v5h-5zM1390 355h5v5h-5zM1274 359h5v5h-5zM1278 359h5v5h-5zM1282 359h5v5h-5zM1286 359h5v5h-5zM1318 359h5v5h-5zM1326 371h5v5h-5zM1350 371h5v5h-5zM1330 375h5v5h-5zM1390 379h5v5h-5zM1394 379h5v5h-5zM1398 379h5v5h-5zM1390 383h5v5h-5zM1394 383h5v5h-5zM1390 387h5v5h-5zM1386 391h5v5h-5z"/>
<path fill="#a7ff58" d="M1314 303h5v5h-5zM1318 303h5v5h-5zM1326 307h5v5h-5zM1298 315h5v5h-5zM1326 315h5v5h-5zM1366 323h5v5h-5zM1386 323h5v5h-5zM1298 327h5v5h-5zM1310 327h5v5h-5zM1314 327h5v5h-5zM1366 327h5v5h-5zM1390 327h5v5h-5zM1366 331h5v5h-5zM1390 331h5v5h-5zM1370 335h5v5h-5zM1390 335h5v5h-5zM1378 339h5v5h-5zM1382 339h5v5h-5zM1386 339h5v5h-5zM1398 351h5v5h-5zM1402 351h5v5h-5zM1294 355h5v5h-5zM1298 355h5v5h-5zM1310 355h5v5h-5zM1358 355h5v5h-5zM1374 355h5v5h-5zM1394 355h5v5h-5zM1398 355h5v5h-5zM1402 355h5v5h-5zM1406 355h5v5h-5zM1290 359h5v5h-5zM1294 359h5v5h-5zM1382 359h5v5h-5zM1386 359h5v5h-5zM1390 359h5v5h-5zM1394 359h5v5h-5zM1398 359h5v5h-5zM1402 359h5v5h-5zM1406 359h5v5h-5zM1274 363h5v5h-5zM1278 363h5v5h-5zM1282 363h5v5h-5zM1286 363h5v5h-5zM1290 363h5v5h-5zM1354 363h5v5h-5zM1386 363h5v5h-5zM1390 363h5v5h-5zM1394 363h5v5h-5zM1398 363h5v5h-5zM1402 363h5v5h-5zM1406 363h5v5h-5zM1322 367h5v5h-5zM1386 367h5v5h-5zM1390 367h5v5h-5zM1394 367h5v5h-5zM1398 367h5v5h-5zM1402 367h5v5h-5zM1386 371h5v5h-5zM1390 371h5v5h-5zM1394 371h5v5h-5zM1398 371h5v5h-5zM1402 371h5v5h-5zM1350 375h5v5h-5zM1386 375h5v5h-5zM1390 375h5v5h-5zM1394 375h5v5h-5zM1398 375h5v5h-5zM1338 379h5v5h-5zM1342 379h5v5h-5zM1346 379h5v5h-5zM1386 379h5v5h-5zM1386 383h5v5h-5zM1386 387h5v5h-5zM1382 391h5v5h-5zM1382 395h5v5h-5zM1378 399h5v5h-5zM1370 403h5v5h-5zM1358 407h5v5h-5zM1362 407h5v5h-5z"/>
<path fill="#b7ff48" d="M1306 307h5v5h-5zM1322 307h5v5h-5zM1302 311h5v5h-5zM1326 311h5v5h-5zM1298 319h5v5h-5zM1322 319h5v5h-5zM1298 323h5v5h-5zM1318 323h5v5h-5zM1370 323h5v5h-5zM1382 323h5v5h-5zM1302 327h5v5h-5zM1306 327h5v5h-5zM1386 327h5v5h-5zM1386 335h5v5h-5zM1302 355h5v5h-5zM1306 355h5v5h-5zM1298 359h5v5h-5zM1314 359h5v5h-5zM1378 359h5v5h-5zM1294 363h5v5h-5zM1318 363h5v5h-5zM1382 363h5v5h-5zM1278 367h5v5h-5zM1354 367h5v5h-5zM1382 367h5v5h-5zM1322 371h5v5h-5zM1382 371h5v5h-5zM1326 375h5v5h-5zM1382 375h5v5h-5zM1334 379h5v5h-5zM1350 379h5v5h-5zM1382 379h5v5h-5zM1382 383h5v5h-5zM1382 387h5v5h-5zM1378 395h5v5h-5zM1370 399h5v5h-5zM1374 399h5v5h-5zM1354 403h5v5h-5zM1358 403h5v5h-5zM1362 403h5v5h-5zM1366 403h5v5h-5zM1350 407h5v5h-5zM1354 407h5v5h-5z"/>
<path fill="#c7ff38" d="M1310 307h5v5h-5zM1314 307h5v5h-5zM1318 307h5v5h-5zM1322 311h5v5h-5zM1302 315h5v5h-5zM1322 315h5v5h-5zM1302 319h5v5h-5zM1302 323h5v5h-5zM1314 323h5v5h-5zM1374 323h5v5h-5zM1378 323h5v5h-5zM1370 327h5v5h-5zM1370 331h5v5h-5zM1386 331h5v5h-5zM1374 335h5v5h-5zM1378 335h5v5h-5zM1382 335h5v5h-5zM1362 355h5v5h-5zM1366 355h5v5h-5zM1370 355h5v5h-5zM1302 359h5v5h-5zM1358 359h5v5h-5zM1298 363h5v5h-5zM1378 363h5v5h-5zM1282 367h5v5h-5zM1286 367h5v5h-5zM1290 367h5v5h-5zM1294 367h5v5h-5zM1318 367h5v5h-5zM1354 371h5v5h-5zM1322 375h5v5h-5zM1330 379h5v5h-5zM1342 383h5v5h-5zM1346 383h5v5h-5zM1350 383h5v5h-5zM1378 387h5v5h-5zM1378 391h5v5h-5zM1374 395h5v5h-5zM1354 399h5v5h-5zM1358 399h5v5h-5zM1362 399h5v5h-5zM1366 399h5v5h-5zM1350 403h5v5h-5zM1318 407h5v5h-5zM1322 407h5v5h-5zM1326 407h5v5h-5zM1330 407h5v5h-5zM1342 407h5v5h-5zM1346 407h5v5h-5z"/>
<path fill="#d7ff28" d="M1306 311h5v5h-5zM1318 319h5v5h-5zM1306 323h5v5h-5zM1310 323h5v5h-5zM1374 327h5v5h-5zM1382 327h5v5h-5zM1374 331h5v5h-5zM1382 331h5v5h-5zM1306 359h5v5h-5zM1310 359h5v5h-5zM1374 359h5v5h-5zM1302 363h5v5h-5zM1314 363h5v5h-5zM1298 367h5v5h-5zM1378 367h5v5h-5zM1278 371h5v5h-5zM1282 371h5v5h-5zM1318 371h5v5h-5zM1378 371h5v5h-5zM1354 375h5v5h-5zM1378 375h5v5h-5zM1326 379h5v5h-5zM1354 379h5v5h-5zM1378 379h5v5h-5zM1334 383h5v5h-5zM1338 383h5v5h-5zM1378 383h5v5h-5zM1350 387h5v5h-5zM1374 391h5v5h-5zM1354 395h5v5h-5zM1358 395h5v5h-5zM1362 395h5v5h-5zM1366 395h5v5h-5zM1370 395h5v5h-5zM1350 399h5v5h-5zM1346 403h5v5h-5zM1334 407h5v5h-5zM1338 407h5v5h-5z"/>
<path fill="#e7ff18" d="M1310 311h5v5h-5zM1314 311h5v5h-5zM1318 311h5v5h-5zM1306 315h5v5h-5zM1318 315h5v5h-5zM1306 319h5v5h-5zM1310 319h5v5h-5zM1314 319h5v5h-5zM1378 327h5v5h-5zM1378 331h5v5h-5zM1370 359h5v5h-5zM1306 363h5v5h-5zM1310 363h5v5h-5zM1358 363h5v5h-5zM1374 363h5v5h-5zM1302 367h5v5h-5zM1314 367h5v5h-5zM1286 371h5v5h-5zM1290 371h5v5h-5zM1294 371h5v5h-5zM1298 371h5v5h-5zM1318 375h5v5h-5zM1322 379h5v5h-5zM1326 383h5v5h-5zM1330 383h5v5h-5zM1354 383h5v5h-5zM1374 383h5v5h-5zM1342 387h5v5h-5zM1346 387h5v5h-5zM1354 387h5v5h-5zM1374 387h5v5h-5zM1346 391h5v5h-5zM1350 391h5v5h-5zM1354 391h5v5h-5zM1358 391h5v5h-5zM1362 391h5v5h-5zM1366 391h5v5h-5zM1370 391h5v5h-5zM1350 395h5v5h-5zM1346 399h5v5h-5zM1314 403h5v5h-5zM1318 403h5v5h-5zM1322 403h5v5h-5zM1326 403h5v5h-5zM1330 403h5v5h-5zM1334 403h5v5h-5zM1338 403h5v5h-5zM1342 403h5v5h-5z"/>
<path fill="#f7ff08" d="M1310 315h5v5h-5zM1314 315h5v5h-5zM1362 359h5v5h-5zM1366 359h5v5h-5zM1306 367h5v5h-5zM1310 367h5v5h-5zM1358 367h5v5h-5zM1374 367h5v5h-5zM1302 371h5v5h-5zM1306 371h5v5h-5zM1314 371h5v5h-5zM1358 371h5v5h-5zM1374 371h5v5h-5zM1282 375h5v5h-5zM1314 375h5v5h-5zM1358 375h5v5h-5zM1374 375h5v5h-5zM1318 379h5v5h-5zM1358 379h5v5h-5zM1374 379h5v5h-5zM1322 383h5v5h-5zM1358 383h5v5h-5zM1326 387h5v5h-5zM1330 387h5v5h-5zM1334 387h5v5h-5zM1338 387h5v5h-5zM1358 387h5v5h-5zM1362 387h5v5h-5zM1370 387h5v5h-5zM1342 391h5v5h-5zM1342 395h5v5h-5zM1346 395h5v5h-5zM1318 399h5v5h-5zM1322 399h5v5h-5zM1326 399h5v5h-5zM1330 399h5v5h-5zM1334 399h5v5h-5zM1338 399h5v5h-5zM1342 399h5v5h-5zM1310 403h5v5h-5z"/>
<path fill="#ffe700" d="M1362 363h5v5h-5zM1366 363h5v5h-5zM1370 367h5v5h-5zM1370 371h5v5h-5zM1306 375h5v5h-5zM1362 375h5v5h-5zM1370 375h5v5h-5zM1286 379h5v5h-5zM1310 379h5v5h-5zM1362 379h5v5h-5zM1366 379h5v5h-5zM1314 383h5v5h-5zM1314 387h5v5h-5zM1318 391h5v5h-5zM1314 395h5v5h-5zM1302 399h5v5h-5zM1306 399h5v5h-5zM1310 399h5v5h-5z"/>
<path fill="#fff700" d="M1370 363h5v5h-5zM1310 371h5v5h-5zM1286 375h5v5h-5zM1290 375h5v5h-5zM1294 375h5v5h-5zM1298 375h5v5h-5zM1302 375h5v5h-5zM1310 375h5v5h-5zM1282 379h5v5h-5zM1314 379h5v5h-5zM1370 379h5v5h-5zM1318 383h5v5h-5zM1362 383h5v5h-5zM1366 383h5v5h-5zM1370 383h5v5h-5zM1318 387h5v5h-5zM1322 387h5v5h-5zM1366 387h5v5h-5zM1322 391h5v5h-5zM1326 391h5v5h-5zM1330 391h5v5h-5zM1334 391h5v5h-5zM1338 391h5v5h-5zM1318 395h5v5h-5zM1322 395h5v5h-5zM1326 395h5v5h-5zM1330 395h5v5h-5zM1334 395h5v5h-5zM1338 395h5v5h-5zM1314 399h5v5h-5z"/>
<path fill="#ffd700" d="M1362 367h5v5h-5zM1366 367h5v5h-5zM1362 371h5v5h-5zM1366 371h5v5h-5zM1366 375h5v5h-5zM1290 379h5v5h-5zM1294 379h5v5h-5zM1298 379h5v5h-5zM1302 379h5v5h-5zM1306 379h5v5h-5zM1286 383h5v5h-5zM1310 383h5v5h-5zM1314 391h5v5h-5zM1310 395h5v5h-5z"/>
<path fill="#ffc700" d="M1290 383h5v5h-5zM1306 383h5v5h-5zM1290 387h5v5h-5zM1310 387h5v5h-5zM1310 391h5v5h-5zM1298 395h5v5h-5zM1302 395h5v5h-5zM1306 395h5v5h-5z"/>
<path fill="#ffb700" d="M1294 383h5v5h-5zM1298 383h5v5h-5zM1302 383h5v5h-5zM1294 387h5v5h-5zM1306 387h5v5h-5zM1294 391h5v5h-5zM1306 391h5v5h-5z"/>
<path fill="#ffa700" d="M1298 387h5v5h-5zM1302 387h5v5h-5zM1298 391h5v5h-5zM1302 391h5v5h-5z"/>
</g></g>
<circle cx="1342.00" cy="343.00" r="46.50" fill="none" stroke="#0a0a0a" stroke-width="2.4"/>
<path d="M1333.40 297.60 L1339.40 290.90 Q1342.00 287.70 1344.60 290.90 L1350.60 297.60" fill="none" stroke="#0a0a0a" stroke-width="2.4" stroke-linejoin="round"/>
<path d="M1295.70 332.60 C1294.44 330.60 1291.50 330.80 1291.70 334.90 C1292.10 341.00 1292.10 347.00 1291.30 351.90 C1291.10 355.90 1294.02 356.40 1295.70 354.60" fill="none" stroke="#0a0a0a" stroke-width="2.4" stroke-linejoin="round"/>
<path d="M1388.30 332.60 C1389.56 330.60 1392.50 330.80 1392.30 334.90 C1391.90 341.00 1391.90 347.00 1392.70 351.90 C1392.90 355.90 1389.98 356.40 1388.30 354.60" fill="none" stroke="#0a0a0a" stroke-width="2.4" stroke-linejoin="round"/>
<g clip-path="url(#cpc)"><g filter="url(#tb)">
<path fill="#ff8700" d="M576 854h5v5h-5zM580 854h5v5h-5zM592 854h5v5h-5zM596 854h5v5h-5zM608 858h5v5h-5zM612 858h5v5h-5zM616 862h5v5h-5zM620 862h5v5h-5zM624 866h5v5h-5zM620 870h5v5h-5zM624 870h5v5h-5zM592 874h5v5h-5zM612 874h5v5h-5zM576 878h5v5h-5z"/>
<path fill="#ff7800" d="M584 854h5v5h-5zM588 854h5v5h-5zM564 858h5v5h-5zM604 858h5v5h-5zM608 862h5v5h-5zM612 862h5v5h-5zM612 866h5v5h-5zM616 866h5v5h-5zM620 866h5v5h-5zM596 870h5v5h-5zM600 870h5v5h-5zM604 870h5v5h-5zM608 870h5v5h-5zM612 870h5v5h-5zM616 870h5v5h-5zM584 874h5v5h-5zM588 874h5v5h-5zM568 878h5v5h-5zM572 878h5v5h-5zM556 882h5v5h-5zM540 886h5v5h-5zM548 886h5v5h-5z"/>
<path fill="#ff9700" d="M600 854h5v5h-5zM604 854h5v5h-5zM616 858h5v5h-5zM624 862h5v5h-5zM628 862h5v5h-5zM628 866h5v5h-5zM628 870h5v5h-5zM596 874h5v5h-5zM600 874h5v5h-5zM604 874h5v5h-5zM608 874h5v5h-5zM616 874h5v5h-5zM620 874h5v5h-5zM624 874h5v5h-5zM580 878h5v5h-5zM584 878h5v5h-5zM560 882h5v5h-5zM552 886h5v5h-5z"/>
<path fill="#ffa700" d="M608 854h5v5h-5zM620 858h5v5h-5zM624 858h5v5h-5zM632 862h5v5h-5zM632 866h5v5h-5zM636 866h5v5h-5zM632 870h5v5h-5zM636 870h5v5h-5zM628 874h5v5h-5zM632 874h5v5h-5zM588 878h5v5h-5zM592 878h5v5h-5zM604 878h5v5h-5zM608 878h5v5h-5zM612 878h5v5h-5zM616 878h5v5h-5zM620 878h5v5h-5zM536 886h5v5h-5zM540 890h5v5h-5zM544 890h5v5h-5zM548 890h5v5h-5z"/>
<path fill="#ffb700" d="M612 854h5v5h-5zM616 854h5v5h-5zM628 858h5v5h-5zM640 866h5v5h-5zM640 870h5v5h-5zM636 874h5v5h-5zM640 874h5v5h-5zM596 878h5v5h-5zM600 878h5v5h-5zM624 878h5v5h-5zM628 878h5v5h-5zM632 878h5v5h-5zM636 878h5v5h-5zM564 882h5v5h-5zM568 882h5v5h-5zM572 882h5v5h-5zM556 886h5v5h-5z"/>
<path fill="#ff6800" d="M568 858h5v5h-5zM596 858h5v5h-5zM600 858h5v5h-5zM604 862h5v5h-5zM600 866h5v5h-5zM604 866h5v5h-5zM608 866h5v5h-5zM592 870h5v5h-5zM564 878h5v5h-5zM544 886h5v5h-5z"/>
<path fill="#ff5800" d="M572 858h5v5h-5zM588 858h5v5h-5zM592 858h5v5h-5zM596 862h5v5h-5zM600 862h5v5h-5zM552 866h5v5h-5zM592 866h5v5h-5zM596 866h5v5h-5zM588 870h5v5h-5zM580 874h5v5h-5zM540 878h5v5h-5zM560 878h5v5h-5zM540 882h5v5h-5zM552 882h5v5h-5z"/>
<path fill="#ff4800" d="M576 858h5v5h-5zM580 858h5v5h-5zM584 858h5v5h-5zM560 862h5v5h-5zM588 862h5v5h-5zM592 862h5v5h-5zM588 866h5v5h-5zM548 870h5v5h-5zM584 870h5v5h-5zM544 874h5v5h-5zM572 874h5v5h-5zM576 874h5v5h-5zM556 878h5v5h-5zM544 882h5v5h-5zM548 882h5v5h-5z"/>
<path fill="#ff3800" d="M564 862h5v5h-5zM584 862h5v5h-5zM556 866h5v5h-5zM584 866h5v5h-5zM580 870h5v5h-5zM564 874h5v5h-5zM568 874h5v5h-5zM544 878h5v5h-5zM552 878h5v5h-5z"/>
<path fill="#ff2800" d="M568 862h5v5h-5zM572 862h5v5h-5zM576 862h5v5h-5zM580 862h5v5h-5zM560 866h5v5h-5zM580 866h5v5h-5zM552 870h5v5h-5zM576 870h5v5h-5zM548 874h5v5h-5zM552 874h5v5h-5zM556 874h5v5h-5zM560 874h5v5h-5zM548 878h5v5h-5z"/>
<path fill="#ff1800" d="M564 866h5v5h-5zM568 866h5v5h-5zM572 866h5v5h-5zM576 866h5v5h-5zM556 870h5v5h-5zM560 870h5v5h-5zM564 870h5v5h-5zM568 870h5v5h-5zM572 870h5v5h-5z"/>
<path fill="#ffc700" d="M644 870h5v5h-5zM644 874h5v5h-5zM640 878h5v5h-5zM644 878h5v5h-5zM576 882h5v5h-5zM580 882h5v5h-5zM616 882h5v5h-5zM620 882h5v5h-5zM624 882h5v5h-5zM628 882h5v5h-5zM632 882h5v5h-5zM636 882h5v5h-5zM640 882h5v5h-5zM644 882h5v5h-5zM536 890h5v5h-5z"/>
<path fill="#ffd700" d="M648 874h5v5h-5zM648 878h5v5h-5zM584 882h5v5h-5zM588 882h5v5h-5zM592 882h5v5h-5zM596 882h5v5h-5zM600 882h5v5h-5zM604 882h5v5h-5zM608 882h5v5h-5zM612 882h5v5h-5zM648 882h5v5h-5zM640 886h5v5h-5zM644 886h5v5h-5zM648 886h5v5h-5zM552 890h5v5h-5zM544 894h5v5h-5z"/>
<path fill="#ffe700" d="M652 882h5v5h-5zM560 886h5v5h-5zM632 886h5v5h-5zM636 886h5v5h-5zM652 886h5v5h-5zM648 890h5v5h-5zM652 890h5v5h-5zM540 894h5v5h-5zM548 894h5v5h-5z"/>
<path fill="#fff700" d="M564 886h5v5h-5zM620 886h5v5h-5zM624 886h5v5h-5zM628 886h5v5h-5zM656 886h5v5h-5zM532 890h5v5h-5zM556 890h5v5h-5zM640 890h5v5h-5zM644 890h5v5h-5zM656 890h5v5h-5zM536 894h5v5h-5zM652 894h5v5h-5z"/>
<path fill="#f7ff08" d="M568 886h5v5h-5zM572 886h5v5h-5zM576 886h5v5h-5zM580 886h5v5h-5zM600 886h5v5h-5zM604 886h5v5h-5zM608 886h5v5h-5zM612 886h5v5h-5zM616 886h5v5h-5zM636 890h5v5h-5zM552 894h5v5h-5zM648 894h5v5h-5zM656 894h5v5h-5zM660 894h5v5h-5z"/>
<path fill="#e7ff18" d="M584 886h5v5h-5zM588 886h5v5h-5zM592 886h5v5h-5zM596 886h5v5h-5zM560 890h5v5h-5zM632 890h5v5h-5zM532 894h5v5h-5zM644 894h5v5h-5zM536 898h5v5h-5zM540 898h5v5h-5zM544 898h5v5h-5zM652 898h5v5h-5zM656 898h5v5h-5zM660 898h5v5h-5z"/>
<path fill="#c7ff38" d="M564 890h5v5h-5zM568 890h5v5h-5zM620 890h5v5h-5zM624 890h5v5h-5zM636 894h5v5h-5zM552 898h5v5h-5zM644 898h5v5h-5zM528 902h5v5h-5zM532 902h5v5h-5zM536 902h5v5h-5zM540 902h5v5h-5zM544 902h5v5h-5zM652 902h5v5h-5zM528 906h5v5h-5zM532 906h5v5h-5zM536 906h5v5h-5zM656 906h5v5h-5zM660 906h5v5h-5zM664 906h5v5h-5zM528 910h5v5h-5zM532 910h5v5h-5zM536 910h5v5h-5zM660 910h5v5h-5zM664 910h5v5h-5zM528 914h5v5h-5zM532 914h5v5h-5zM536 914h5v5h-5zM660 914h5v5h-5zM664 914h5v5h-5zM528 918h5v5h-5zM532 918h5v5h-5zM656 918h5v5h-5zM660 918h5v5h-5zM664 918h5v5h-5zM528 922h5v5h-5zM656 922h5v5h-5zM656 926h5v5h-5zM652 930h5v5h-5zM656 930h5v5h-5zM656 934h5v5h-5zM660 934h5v5h-5zM664 934h5v5h-5zM656 938h5v5h-5zM660 938h5v5h-5zM664 938h5v5h-5zM656 942h5v5h-5zM660 942h5v5h-5zM660 946h5v5h-5zM660 950h5v5h-5z"/>
<path fill="#b7ff48" d="M572 890h5v5h-5zM576 890h5v5h-5zM580 890h5v5h-5zM612 890h5v5h-5zM616 890h5v5h-5zM560 894h5v5h-5zM632 894h5v5h-5zM640 898h5v5h-5zM548 902h5v5h-5zM648 902h5v5h-5zM540 906h5v5h-5zM652 906h5v5h-5zM540 910h5v5h-5zM652 910h5v5h-5zM656 910h5v5h-5zM540 914h5v5h-5zM656 914h5v5h-5zM536 918h5v5h-5zM652 918h5v5h-5zM532 922h5v5h-5zM536 922h5v5h-5zM652 922h5v5h-5zM528 926h5v5h-5zM532 926h5v5h-5zM652 926h5v5h-5zM528 930h5v5h-5zM532 930h5v5h-5zM648 930h5v5h-5zM528 934h5v5h-5zM648 934h5v5h-5zM652 934h5v5h-5zM528 938h5v5h-5zM648 938h5v5h-5zM652 938h5v5h-5zM528 942h5v5h-5zM616 942h5v5h-5zM648 942h5v5h-5zM652 942h5v5h-5zM616 946h5v5h-5zM620 946h5v5h-5zM648 946h5v5h-5zM652 946h5v5h-5zM656 946h5v5h-5zM620 950h5v5h-5zM648 950h5v5h-5zM652 950h5v5h-5zM656 950h5v5h-5zM648 954h5v5h-5zM652 954h5v5h-5zM656 954h5v5h-5zM648 958h5v5h-5zM652 958h5v5h-5zM656 958h5v5h-5zM648 962h5v5h-5zM652 962h5v5h-5zM648 966h5v5h-5z"/>
<path fill="#a7ff58" d="M584 890h5v5h-5zM588 890h5v5h-5zM592 890h5v5h-5zM596 890h5v5h-5zM600 890h5v5h-5zM604 890h5v5h-5zM608 890h5v5h-5zM628 894h5v5h-5zM556 898h5v5h-5zM644 902h5v5h-5zM544 906h5v5h-5zM648 906h5v5h-5zM544 910h5v5h-5zM652 914h5v5h-5zM540 918h5v5h-5zM648 918h5v5h-5zM540 922h5v5h-5zM648 922h5v5h-5zM536 926h5v5h-5zM648 926h5v5h-5zM536 930h5v5h-5zM532 934h5v5h-5zM536 934h5v5h-5zM644 934h5v5h-5zM532 938h5v5h-5zM536 938h5v5h-5zM612 938h5v5h-5zM616 938h5v5h-5zM620 938h5v5h-5zM624 938h5v5h-5zM644 938h5v5h-5zM532 942h5v5h-5zM536 942h5v5h-5zM608 942h5v5h-5zM612 942h5v5h-5zM620 942h5v5h-5zM624 942h5v5h-5zM628 942h5v5h-5zM632 942h5v5h-5zM636 942h5v5h-5zM640 942h5v5h-5zM644 942h5v5h-5zM532 946h5v5h-5zM536 946h5v5h-5zM608 946h5v5h-5zM612 946h5v5h-5zM624 946h5v5h-5zM628 946h5v5h-5zM632 946h5v5h-5zM636 946h5v5h-5zM640 946h5v5h-5zM644 946h5v5h-5zM532 950h5v5h-5zM536 950h5v5h-5zM612 950h5v5h-5zM616 950h5v5h-5zM624 950h5v5h-5zM628 950h5v5h-5zM632 950h5v5h-5zM636 950h5v5h-5zM640 950h5v5h-5zM644 950h5v5h-5zM536 954h5v5h-5zM612 954h5v5h-5zM616 954h5v5h-5zM620 954h5v5h-5zM624 954h5v5h-5zM628 954h5v5h-5zM632 954h5v5h-5zM636 954h5v5h-5zM640 954h5v5h-5zM644 954h5v5h-5zM536 958h5v5h-5zM640 958h5v5h-5zM644 958h5v5h-5zM540 962h5v5h-5zM640 962h5v5h-5zM644 962h5v5h-5zM544 966h5v5h-5zM640 966h5v5h-5zM644 966h5v5h-5zM548 970h5v5h-5zM552 970h5v5h-5zM640 970h5v5h-5zM644 970h5v5h-5zM552 974h5v5h-5zM556 974h5v5h-5zM640 974h5v5h-5zM556 978h5v5h-5zM560 978h5v5h-5zM636 978h5v5h-5zM560 982h5v5h-5z"/>
<path fill="#d7ff28" d="M628 890h5v5h-5zM556 894h5v5h-5zM640 894h5v5h-5zM532 898h5v5h-5zM548 898h5v5h-5zM648 898h5v5h-5zM656 902h5v5h-5zM660 902h5v5h-5zM660 922h5v5h-5zM664 922h5v5h-5zM660 926h5v5h-5zM664 926h5v5h-5zM660 930h5v5h-5zM664 930h5v5h-5z"/>
<path fill="#97ff68" d="M564 894h5v5h-5zM568 894h5v5h-5zM624 894h5v5h-5zM636 898h5v5h-5zM552 902h5v5h-5zM548 906h5v5h-5zM644 906h5v5h-5zM648 910h5v5h-5zM544 914h5v5h-5zM648 914h5v5h-5zM544 918h5v5h-5zM544 922h5v5h-5zM644 922h5v5h-5zM540 926h5v5h-5zM644 926h5v5h-5zM540 930h5v5h-5zM640 930h5v5h-5zM644 930h5v5h-5zM540 934h5v5h-5zM612 934h5v5h-5zM616 934h5v5h-5zM620 934h5v5h-5zM624 934h5v5h-5zM628 934h5v5h-5zM636 934h5v5h-5zM640 934h5v5h-5zM540 938h5v5h-5zM608 938h5v5h-5zM628 938h5v5h-5zM632 938h5v5h-5zM636 938h5v5h-5zM640 938h5v5h-5zM540 942h5v5h-5zM604 942h5v5h-5zM540 946h5v5h-5zM604 946h5v5h-5zM540 950h5v5h-5zM604 950h5v5h-5zM608 950h5v5h-5zM540 954h5v5h-5zM608 954h5v5h-5zM540 958h5v5h-5zM612 958h5v5h-5zM616 958h5v5h-5zM620 958h5v5h-5zM624 958h5v5h-5zM628 958h5v5h-5zM632 958h5v5h-5zM636 958h5v5h-5zM544 962h5v5h-5zM616 962h5v5h-5zM620 962h5v5h-5zM624 962h5v5h-5zM628 962h5v5h-5zM632 962h5v5h-5zM636 962h5v5h-5zM548 966h5v5h-5zM552 966h5v5h-5zM632 966h5v5h-5zM636 966h5v5h-5zM556 970h5v5h-5zM560 970h5v5h-5zM636 970h5v5h-5zM560 974h5v5h-5zM632 974h5v5h-5zM636 974h5v5h-5zM564 978h5v5h-5zM632 978h5v5h-5zM564 982h5v5h-5zM628 982h5v5h-5zM568 986h5v5h-5zM624 986h5v5h-5zM612 990h5v5h-5z"/>
<path fill="#87ff78" d="M572 894h5v5h-5zM576 894h5v5h-5zM620 894h5v5h-5zM560 898h5v5h-5zM632 898h5v5h-5zM556 902h5v5h-5zM640 902h5v5h-5zM552 906h5v5h-5zM548 910h5v5h-5zM644 910h5v5h-5zM548 914h5v5h-5zM644 914h5v5h-5zM644 918h5v5h-5zM640 922h5v5h-5zM544 926h5v5h-5zM640 926h5v5h-5zM544 930h5v5h-5zM612 930h5v5h-5zM616 930h5v5h-5zM620 930h5v5h-5zM624 930h5v5h-5zM628 930h5v5h-5zM632 930h5v5h-5zM636 930h5v5h-5zM544 934h5v5h-5zM608 934h5v5h-5zM632 934h5v5h-5zM544 938h5v5h-5zM604 938h5v5h-5zM544 942h5v5h-5zM600 942h5v5h-5zM544 946h5v5h-5zM600 946h5v5h-5zM544 950h5v5h-5zM600 950h5v5h-5zM544 954h5v5h-5zM600 954h5v5h-5zM604 954h5v5h-5zM544 958h5v5h-5zM548 958h5v5h-5zM604 958h5v5h-5zM608 958h5v5h-5zM548 962h5v5h-5zM552 962h5v5h-5zM608 962h5v5h-5zM612 962h5v5h-5zM556 966h5v5h-5zM560 966h5v5h-5zM616 966h5v5h-5zM620 966h5v5h-5zM624 966h5v5h-5zM628 966h5v5h-5zM564 970h5v5h-5zM624 970h5v5h-5zM628 970h5v5h-5zM632 970h5v5h-5zM564 974h5v5h-5zM568 974h5v5h-5zM628 974h5v5h-5zM568 978h5v5h-5zM624 978h5v5h-5zM628 978h5v5h-5zM568 982h5v5h-5zM620 982h5v5h-5zM624 982h5v5h-5zM572 986h5v5h-5zM576 986h5v5h-5zM612 986h5v5h-5zM616 986h5v5h-5zM620 986h5v5h-5zM580 990h5v5h-5zM584 990h5v5h-5zM588 990h5v5h-5zM592 990h5v5h-5zM596 990h5v5h-5zM600 990h5v5h-5zM604 990h5v5h-5zM608 990h5v5h-5z"/>
<path fill="#78ff87" d="M580 894h5v5h-5zM596 894h5v5h-5zM600 894h5v5h-5zM612 894h5v5h-5zM616 894h5v5h-5zM564 898h5v5h-5zM628 898h5v5h-5zM560 902h5v5h-5zM636 902h5v5h-5zM556 906h5v5h-5zM640 906h5v5h-5zM552 910h5v5h-5zM640 910h5v5h-5zM596 914h5v5h-5zM640 914h5v5h-5zM548 918h5v5h-5zM636 918h5v5h-5zM640 918h5v5h-5zM548 922h5v5h-5zM620 922h5v5h-5zM624 922h5v5h-5zM628 922h5v5h-5zM632 922h5v5h-5zM636 922h5v5h-5zM548 926h5v5h-5zM612 926h5v5h-5zM616 926h5v5h-5zM620 926h5v5h-5zM624 926h5v5h-5zM628 926h5v5h-5zM632 926h5v5h-5zM636 926h5v5h-5zM548 930h5v5h-5zM608 930h5v5h-5zM548 934h5v5h-5zM604 934h5v5h-5zM548 938h5v5h-5zM600 938h5v5h-5zM548 942h5v5h-5zM596 942h5v5h-5zM548 946h5v5h-5zM592 946h5v5h-5zM596 946h5v5h-5zM548 950h5v5h-5zM580 950h5v5h-5zM584 950h5v5h-5zM588 950h5v5h-5zM592 950h5v5h-5zM596 950h5v5h-5zM548 954h5v5h-5zM576 954h5v5h-5zM580 954h5v5h-5zM584 954h5v5h-5zM588 954h5v5h-5zM592 954h5v5h-5zM596 954h5v5h-5zM552 958h5v5h-5zM556 958h5v5h-5zM576 958h5v5h-5zM580 958h5v5h-5zM584 958h5v5h-5zM588 958h5v5h-5zM592 958h5v5h-5zM596 958h5v5h-5zM600 958h5v5h-5zM556 962h5v5h-5zM560 962h5v5h-5zM564 962h5v5h-5zM568 962h5v5h-5zM572 962h5v5h-5zM576 962h5v5h-5zM600 962h5v5h-5zM604 962h5v5h-5zM564 966h5v5h-5zM568 966h5v5h-5zM572 966h5v5h-5zM604 966h5v5h-5zM608 966h5v5h-5zM612 966h5v5h-5zM568 970h5v5h-5zM572 970h5v5h-5zM608 970h5v5h-5zM612 970h5v5h-5zM616 970h5v5h-5zM620 970h5v5h-5zM572 974h5v5h-5zM616 974h5v5h-5zM620 974h5v5h-5zM624 974h5v5h-5zM572 978h5v5h-5zM616 978h5v5h-5zM620 978h5v5h-5zM572 982h5v5h-5zM576 982h5v5h-5zM612 982h5v5h-5zM616 982h5v5h-5zM580 986h5v5h-5zM584 986h5v5h-5zM588 986h5v5h-5zM592 986h5v5h-5zM596 986h5v5h-5zM600 986h5v5h-5zM604 986h5v5h-5zM608 986h5v5h-5z"/>
<path fill="#68ff97" d="M584 894h5v5h-5zM588 894h5v5h-5zM592 894h5v5h-5zM604 894h5v5h-5zM608 894h5v5h-5zM568 898h5v5h-5zM572 898h5v5h-5zM624 898h5v5h-5zM564 902h5v5h-5zM632 902h5v5h-5zM560 906h5v5h-5zM632 906h5v5h-5zM636 906h5v5h-5zM556 910h5v5h-5zM588 910h5v5h-5zM592 910h5v5h-5zM596 910h5v5h-5zM600 910h5v5h-5zM632 910h5v5h-5zM636 910h5v5h-5zM552 914h5v5h-5zM592 914h5v5h-5zM600 914h5v5h-5zM624 914h5v5h-5zM628 914h5v5h-5zM632 914h5v5h-5zM636 914h5v5h-5zM552 918h5v5h-5zM596 918h5v5h-5zM600 918h5v5h-5zM620 918h5v5h-5zM624 918h5v5h-5zM628 918h5v5h-5zM632 918h5v5h-5zM552 922h5v5h-5zM608 922h5v5h-5zM612 922h5v5h-5zM616 922h5v5h-5zM552 926h5v5h-5zM556 926h5v5h-5zM604 926h5v5h-5zM608 926h5v5h-5zM552 930h5v5h-5zM556 930h5v5h-5zM604 930h5v5h-5zM552 934h5v5h-5zM556 934h5v5h-5zM600 934h5v5h-5zM552 938h5v5h-5zM556 938h5v5h-5zM596 938h5v5h-5zM552 942h5v5h-5zM592 942h5v5h-5zM552 946h5v5h-5zM568 946h5v5h-5zM572 946h5v5h-5zM576 946h5v5h-5zM580 946h5v5h-5zM584 946h5v5h-5zM588 946h5v5h-5zM552 950h5v5h-5zM556 950h5v5h-5zM564 950h5v5h-5zM568 950h5v5h-5zM572 950h5v5h-5zM576 950h5v5h-5zM552 954h5v5h-5zM556 954h5v5h-5zM560 954h5v5h-5zM564 954h5v5h-5zM568 954h5v5h-5zM572 954h5v5h-5zM560 958h5v5h-5zM564 958h5v5h-5zM568 958h5v5h-5zM572 958h5v5h-5zM580 962h5v5h-5zM584 962h5v5h-5zM588 962h5v5h-5zM592 962h5v5h-5zM596 962h5v5h-5zM576 966h5v5h-5zM580 966h5v5h-5zM584 966h5v5h-5zM588 966h5v5h-5zM592 966h5v5h-5zM596 966h5v5h-5zM600 966h5v5h-5zM576 970h5v5h-5zM580 970h5v5h-5zM584 970h5v5h-5zM588 970h5v5h-5zM592 970h5v5h-5zM596 970h5v5h-5zM600 970h5v5h-5zM604 970h5v5h-5zM576 974h5v5h-5zM580 974h5v5h-5zM584 974h5v5h-5zM588 974h5v5h-5zM592 974h5v5h-5zM596 974h5v5h-5zM600 974h5v5h-5zM604 974h5v5h-5zM608 974h5v5h-5zM612 974h5v5h-5zM576 978h5v5h-5zM580 978h5v5h-5zM584 978h5v5h-5zM588 978h5v5h-5zM592 978h5v5h-5zM596 978h5v5h-5zM600 978h5v5h-5zM604 978h5v5h-5zM608 978h5v5h-5zM612 978h5v5h-5zM580 982h5v5h-5zM584 982h5v5h-5zM588 982h5v5h-5zM592 982h5v5h-5zM596 982h5v5h-5zM600 982h5v5h-5zM604 982h5v5h-5zM608 982h5v5h-5z"/>
<path fill="#58ffa7" d="M576 898h5v5h-5zM580 898h5v5h-5zM620 898h5v5h-5zM568 902h5v5h-5zM572 902h5v5h-5zM624 902h5v5h-5zM628 902h5v5h-5zM564 906h5v5h-5zM588 906h5v5h-5zM592 906h5v5h-5zM596 906h5v5h-5zM628 906h5v5h-5zM560 910h5v5h-5zM624 910h5v5h-5zM628 910h5v5h-5zM556 914h5v5h-5zM560 914h5v5h-5zM588 914h5v5h-5zM604 914h5v5h-5zM616 914h5v5h-5zM620 914h5v5h-5zM556 918h5v5h-5zM560 918h5v5h-5zM592 918h5v5h-5zM604 918h5v5h-5zM608 918h5v5h-5zM612 918h5v5h-5zM616 918h5v5h-5zM556 922h5v5h-5zM560 922h5v5h-5zM596 922h5v5h-5zM600 922h5v5h-5zM604 922h5v5h-5zM560 926h5v5h-5zM600 926h5v5h-5zM560 930h5v5h-5zM600 930h5v5h-5zM560 934h5v5h-5zM596 934h5v5h-5zM560 938h5v5h-5zM564 938h5v5h-5zM556 942h5v5h-5zM560 942h5v5h-5zM564 942h5v5h-5zM568 942h5v5h-5zM572 942h5v5h-5zM576 942h5v5h-5zM588 942h5v5h-5zM556 946h5v5h-5zM560 946h5v5h-5zM564 946h5v5h-5zM560 950h5v5h-5z"/>
<path fill="#48ffb7" d="M584 898h5v5h-5zM588 898h5v5h-5zM592 898h5v5h-5zM596 898h5v5h-5zM600 898h5v5h-5zM604 898h5v5h-5zM616 898h5v5h-5zM576 902h5v5h-5zM580 902h5v5h-5zM584 902h5v5h-5zM588 902h5v5h-5zM592 902h5v5h-5zM596 902h5v5h-5zM620 902h5v5h-5zM568 906h5v5h-5zM572 906h5v5h-5zM576 906h5v5h-5zM580 906h5v5h-5zM584 906h5v5h-5zM600 906h5v5h-5zM624 906h5v5h-5zM564 910h5v5h-5zM568 910h5v5h-5zM580 910h5v5h-5zM584 910h5v5h-5zM604 910h5v5h-5zM616 910h5v5h-5zM620 910h5v5h-5zM564 914h5v5h-5zM584 914h5v5h-5zM608 914h5v5h-5zM612 914h5v5h-5zM564 918h5v5h-5zM588 918h5v5h-5zM564 922h5v5h-5zM564 926h5v5h-5zM596 926h5v5h-5zM564 930h5v5h-5zM596 930h5v5h-5zM564 934h5v5h-5zM568 934h5v5h-5zM568 938h5v5h-5zM572 938h5v5h-5zM592 938h5v5h-5zM580 942h5v5h-5zM584 942h5v5h-5z"/>
<path fill="#38ffc7" d="M608 898h5v5h-5zM612 898h5v5h-5zM600 902h5v5h-5zM604 902h5v5h-5zM616 902h5v5h-5zM604 906h5v5h-5zM616 906h5v5h-5zM620 906h5v5h-5zM572 910h5v5h-5zM576 910h5v5h-5zM608 910h5v5h-5zM612 910h5v5h-5zM568 914h5v5h-5zM572 914h5v5h-5zM576 914h5v5h-5zM580 914h5v5h-5zM568 918h5v5h-5zM568 922h5v5h-5zM592 922h5v5h-5zM568 926h5v5h-5zM568 930h5v5h-5zM592 934h5v5h-5zM576 938h5v5h-5zM588 938h5v5h-5z"/>
<path fill="#28ffd7" d="M608 902h5v5h-5zM612 902h5v5h-5zM608 906h5v5h-5zM612 906h5v5h-5zM572 918h5v5h-5zM584 918h5v5h-5zM588 922h5v5h-5zM592 926h5v5h-5zM592 930h5v5h-5zM572 934h5v5h-5zM580 938h5v5h-5zM584 938h5v5h-5z"/>
<path fill="#18ffe7" d="M576 918h5v5h-5zM580 918h5v5h-5zM572 922h5v5h-5zM572 926h5v5h-5zM572 930h5v5h-5zM576 934h5v5h-5zM588 934h5v5h-5z"/>
<path fill="#08fff7" d="M576 922h5v5h-5zM580 922h5v5h-5zM584 922h5v5h-5zM576 926h5v5h-5zM588 926h5v5h-5zM576 930h5v5h-5zM588 930h5v5h-5zM580 934h5v5h-5zM584 934h5v5h-5z"/>
<path fill="#00f7ff" d="M580 926h5v5h-5zM584 926h5v5h-5zM580 930h5v5h-5zM584 930h5v5h-5z"/>
</g></g>
<circle cx="597.50" cy="923.00" r="47.00" fill="none" stroke="#0a0a0a" stroke-width="2.4"/>
<path d="M588.76 877.12 L594.86 870.31 Q597.50 867.06 600.14 870.31 L606.24 877.12" fill="none" stroke="#0a0a0a" stroke-width="2.4" stroke-linejoin="round"/>
<path d="M550.70 912.43 C549.42 910.40 546.43 910.60 546.64 914.77 C547.04 920.97 547.04 927.06 546.23 932.04 C546.03 936.11 548.99 936.62 550.70 934.79" fill="none" stroke="#0a0a0a" stroke-width="2.4" stroke-linejoin="round"/>
<path d="M644.30 912.43 C645.58 910.40 648.57 910.60 648.36 914.77 C647.96 920.97 647.96 927.06 648.77 932.04 C648.97 936.11 646.01 936.62 644.30 934.79" fill="none" stroke="#0a0a0a" stroke-width="2.4" stroke-linejoin="round"/>
<g clip-path="url(#cpd)"><g filter="url(#tb)">
<path fill="#b7ff48" d="M1315 853h5v5h-5zM1339 853h5v5h-5zM1307 857h5v5h-5zM1311 857h5v5h-5zM1303 861h5v5h-5zM1343 861h5v5h-5zM1299 865h5v5h-5zM1295 869h5v5h-5zM1291 877h5v5h-5zM1291 881h5v5h-5zM1359 885h5v5h-5zM1287 889h5v5h-5zM1363 893h5v5h-5zM1283 897h5v5h-5zM1279 905h5v5h-5zM1315 905h5v5h-5zM1279 909h5v5h-5zM1307 909h5v5h-5zM1323 909h5v5h-5zM1363 909h5v5h-5zM1279 913h5v5h-5zM1331 913h5v5h-5zM1359 913h5v5h-5zM1279 917h5v5h-5zM1339 917h5v5h-5zM1343 917h5v5h-5zM1347 917h5v5h-5zM1351 917h5v5h-5zM1279 921h5v5h-5zM1299 921h5v5h-5zM1283 925h5v5h-5zM1299 925h5v5h-5zM1287 929h5v5h-5zM1291 929h5v5h-5zM1295 929h5v5h-5zM1299 929h5v5h-5z"/>
<path fill="#c7ff38" d="M1319 853h5v5h-5zM1323 853h5v5h-5zM1335 853h5v5h-5zM1315 857h5v5h-5zM1339 857h5v5h-5zM1307 861h5v5h-5zM1311 861h5v5h-5zM1303 865h5v5h-5zM1343 865h5v5h-5zM1299 869h5v5h-5zM1347 869h5v5h-5zM1295 873h5v5h-5zM1351 873h5v5h-5zM1355 877h5v5h-5zM1291 885h5v5h-5zM1359 889h5v5h-5zM1287 893h5v5h-5zM1363 897h5v5h-5zM1283 901h5v5h-5zM1315 901h5v5h-5zM1311 905h5v5h-5zM1319 905h5v5h-5zM1363 905h5v5h-5zM1327 909h5v5h-5zM1303 913h5v5h-5zM1335 913h5v5h-5zM1339 913h5v5h-5zM1343 913h5v5h-5zM1347 913h5v5h-5zM1355 913h5v5h-5zM1283 921h5v5h-5zM1287 925h5v5h-5zM1291 925h5v5h-5zM1295 925h5v5h-5z"/>
<path fill="#d7ff28" d="M1327 853h5v5h-5zM1331 853h5v5h-5zM1319 857h5v5h-5zM1335 857h5v5h-5zM1315 861h5v5h-5zM1339 861h5v5h-5zM1307 865h5v5h-5zM1339 865h5v5h-5zM1299 873h5v5h-5zM1295 877h5v5h-5zM1295 881h5v5h-5zM1355 881h5v5h-5zM1355 885h5v5h-5zM1291 889h5v5h-5zM1315 889h5v5h-5zM1315 893h5v5h-5zM1359 893h5v5h-5zM1315 897h5v5h-5zM1319 897h5v5h-5zM1311 901h5v5h-5zM1319 901h5v5h-5zM1363 901h5v5h-5zM1283 905h5v5h-5zM1307 905h5v5h-5zM1323 905h5v5h-5zM1283 909h5v5h-5zM1303 909h5v5h-5zM1331 909h5v5h-5zM1335 909h5v5h-5zM1359 909h5v5h-5zM1283 913h5v5h-5zM1351 913h5v5h-5zM1283 917h5v5h-5zM1299 917h5v5h-5zM1287 921h5v5h-5zM1291 921h5v5h-5zM1295 921h5v5h-5z"/>
<path fill="#a7ff58" d="M1343 853h5v5h-5zM1343 857h5v5h-5zM1299 861h5v5h-5zM1295 865h5v5h-5zM1347 865h5v5h-5zM1291 869h5v5h-5zM1351 869h5v5h-5zM1291 873h5v5h-5zM1355 873h5v5h-5zM1359 881h5v5h-5zM1287 885h5v5h-5zM1363 889h5v5h-5zM1283 893h5v5h-5zM1367 897h5v5h-5zM1279 901h5v5h-5zM1367 901h5v5h-5zM1367 905h5v5h-5zM1311 909h5v5h-5zM1319 909h5v5h-5zM1275 913h5v5h-5zM1327 913h5v5h-5zM1275 917h5v5h-5zM1303 917h5v5h-5zM1331 917h5v5h-5zM1335 917h5v5h-5zM1355 917h5v5h-5zM1275 921h5v5h-5zM1339 921h5v5h-5zM1343 921h5v5h-5zM1347 921h5v5h-5zM1279 925h5v5h-5zM1283 929h5v5h-5zM1303 929h5v5h-5zM1291 933h5v5h-5zM1295 933h5v5h-5zM1299 933h5v5h-5zM1303 933h5v5h-5zM1307 933h5v5h-5zM1299 937h5v5h-5zM1303 937h5v5h-5zM1307 937h5v5h-5zM1311 937h5v5h-5zM1303 941h5v5h-5zM1307 941h5v5h-5z"/>
<path fill="#87ff78" d="M1347 853h5v5h-5zM1347 857h5v5h-5zM1351 865h5v5h-5zM1355 869h5v5h-5zM1283 873h5v5h-5zM1359 873h5v5h-5zM1283 877h5v5h-5zM1283 881h5v5h-5zM1363 881h5v5h-5zM1283 885h5v5h-5zM1367 889h5v5h-5zM1279 893h5v5h-5zM1275 897h5v5h-5zM1371 897h5v5h-5zM1271 901h5v5h-5zM1371 901h5v5h-5zM1267 905h5v5h-5zM1271 905h5v5h-5zM1267 909h5v5h-5zM1271 909h5v5h-5zM1367 909h5v5h-5zM1267 913h5v5h-5zM1311 913h5v5h-5zM1319 913h5v5h-5zM1267 917h5v5h-5zM1307 917h5v5h-5zM1323 917h5v5h-5zM1267 921h5v5h-5zM1307 921h5v5h-5zM1327 921h5v5h-5zM1267 925h5v5h-5zM1271 925h5v5h-5zM1307 925h5v5h-5zM1327 925h5v5h-5zM1331 925h5v5h-5zM1351 925h5v5h-5zM1271 929h5v5h-5zM1275 929h5v5h-5zM1311 929h5v5h-5zM1315 929h5v5h-5zM1319 929h5v5h-5zM1327 929h5v5h-5zM1331 929h5v5h-5zM1335 929h5v5h-5zM1339 929h5v5h-5zM1343 929h5v5h-5zM1347 929h5v5h-5zM1351 929h5v5h-5zM1279 933h5v5h-5zM1319 933h5v5h-5zM1343 933h5v5h-5zM1287 937h5v5h-5zM1319 937h5v5h-5zM1295 941h5v5h-5zM1315 941h5v5h-5zM1299 945h5v5h-5zM1303 945h5v5h-5zM1307 945h5v5h-5zM1311 945h5v5h-5z"/>
<path fill="#78ff87" d="M1351 853h5v5h-5zM1351 861h5v5h-5zM1355 865h5v5h-5zM1279 877h5v5h-5zM1363 877h5v5h-5zM1279 881h5v5h-5zM1279 885h5v5h-5zM1367 885h5v5h-5zM1275 889h5v5h-5zM1279 889h5v5h-5zM1271 893h5v5h-5zM1275 893h5v5h-5zM1371 893h5v5h-5zM1271 897h5v5h-5zM1267 901h5v5h-5zM1371 905h5v5h-5zM1315 913h5v5h-5zM1367 913h5v5h-5zM1363 917h5v5h-5zM1323 921h5v5h-5zM1359 921h5v5h-5zM1311 925h5v5h-5zM1315 925h5v5h-5zM1319 925h5v5h-5zM1323 925h5v5h-5zM1355 925h5v5h-5zM1267 929h5v5h-5zM1323 929h5v5h-5zM1355 929h5v5h-5zM1271 933h5v5h-5zM1275 933h5v5h-5zM1323 933h5v5h-5zM1327 933h5v5h-5zM1331 933h5v5h-5zM1335 933h5v5h-5zM1339 933h5v5h-5zM1347 933h5v5h-5zM1351 933h5v5h-5zM1283 937h5v5h-5zM1323 937h5v5h-5zM1287 941h5v5h-5zM1291 941h5v5h-5zM1319 941h5v5h-5zM1295 945h5v5h-5zM1315 945h5v5h-5zM1303 949h5v5h-5zM1307 949h5v5h-5zM1311 949h5v5h-5zM1375 969h5v5h-5zM1379 969h5v5h-5zM1383 969h5v5h-5zM1387 969h5v5h-5zM1375 973h5v5h-5zM1379 973h5v5h-5zM1383 973h5v5h-5zM1371 977h5v5h-5zM1375 977h5v5h-5zM1379 977h5v5h-5zM1367 981h5v5h-5zM1371 981h5v5h-5zM1367 985h5v5h-5z"/>
<path fill="#58ffa7" d="M1355 853h5v5h-5zM1355 857h5v5h-5zM1355 861h5v5h-5zM1359 865h5v5h-5zM1367 877h5v5h-5zM1371 885h5v5h-5zM1375 893h5v5h-5zM1375 897h5v5h-5zM1375 901h5v5h-5zM1371 909h5v5h-5zM1367 917h5v5h-5zM1363 925h5v5h-5zM1359 929h5v5h-5zM1359 933h5v5h-5zM1355 937h5v5h-5zM1267 941h5v5h-5zM1271 941h5v5h-5zM1275 941h5v5h-5zM1279 941h5v5h-5zM1327 941h5v5h-5zM1331 941h5v5h-5zM1335 941h5v5h-5zM1339 941h5v5h-5zM1343 941h5v5h-5zM1347 941h5v5h-5zM1351 941h5v5h-5zM1371 941h5v5h-5zM1375 941h5v5h-5zM1287 945h5v5h-5zM1323 945h5v5h-5zM1367 945h5v5h-5zM1371 945h5v5h-5zM1375 945h5v5h-5zM1295 949h5v5h-5zM1319 949h5v5h-5zM1367 949h5v5h-5zM1371 949h5v5h-5zM1375 949h5v5h-5zM1379 949h5v5h-5zM1303 953h5v5h-5zM1311 953h5v5h-5zM1315 953h5v5h-5zM1367 953h5v5h-5zM1371 953h5v5h-5zM1375 953h5v5h-5zM1379 953h5v5h-5zM1363 957h5v5h-5zM1367 957h5v5h-5zM1379 957h5v5h-5zM1383 957h5v5h-5zM1395 957h5v5h-5zM1331 961h5v5h-5zM1335 961h5v5h-5zM1339 961h5v5h-5zM1363 961h5v5h-5zM1367 961h5v5h-5zM1387 961h5v5h-5zM1391 961h5v5h-5zM1335 965h5v5h-5zM1339 965h5v5h-5zM1363 965h5v5h-5zM1359 969h5v5h-5zM1363 969h5v5h-5zM1359 973h5v5h-5zM1363 973h5v5h-5zM1359 977h5v5h-5zM1299 981h5v5h-5zM1355 981h5v5h-5zM1359 981h5v5h-5zM1303 985h5v5h-5zM1355 985h5v5h-5zM1343 989h5v5h-5zM1347 989h5v5h-5zM1351 989h5v5h-5z"/>
<path fill="#e7ff18" d="M1323 857h5v5h-5zM1327 857h5v5h-5zM1331 857h5v5h-5zM1319 861h5v5h-5zM1335 861h5v5h-5zM1311 865h5v5h-5zM1315 865h5v5h-5zM1303 869h5v5h-5zM1307 869h5v5h-5zM1343 869h5v5h-5zM1303 873h5v5h-5zM1347 873h5v5h-5zM1299 877h5v5h-5zM1351 877h5v5h-5zM1295 885h5v5h-5zM1311 885h5v5h-5zM1315 885h5v5h-5zM1319 885h5v5h-5zM1311 889h5v5h-5zM1319 889h5v5h-5zM1355 889h5v5h-5zM1291 893h5v5h-5zM1311 893h5v5h-5zM1319 893h5v5h-5zM1355 893h5v5h-5zM1287 897h5v5h-5zM1311 897h5v5h-5zM1359 897h5v5h-5zM1307 901h5v5h-5zM1323 901h5v5h-5zM1327 905h5v5h-5zM1359 905h5v5h-5zM1339 909h5v5h-5zM1343 909h5v5h-5zM1347 909h5v5h-5zM1351 909h5v5h-5zM1355 909h5v5h-5zM1299 913h5v5h-5zM1287 917h5v5h-5zM1295 917h5v5h-5z"/>
<path fill="#68ff97" d="M1351 857h5v5h-5zM1359 869h5v5h-5zM1363 873h5v5h-5zM1367 881h5v5h-5zM1275 885h5v5h-5zM1371 889h5v5h-5zM1311 917h5v5h-5zM1315 917h5v5h-5zM1319 917h5v5h-5zM1311 921h5v5h-5zM1315 921h5v5h-5zM1319 921h5v5h-5zM1363 921h5v5h-5zM1359 925h5v5h-5zM1267 933h5v5h-5zM1355 933h5v5h-5zM1267 937h5v5h-5zM1271 937h5v5h-5zM1275 937h5v5h-5zM1279 937h5v5h-5zM1327 937h5v5h-5zM1331 937h5v5h-5zM1335 937h5v5h-5zM1339 937h5v5h-5zM1343 937h5v5h-5zM1347 937h5v5h-5zM1351 937h5v5h-5zM1283 941h5v5h-5zM1323 941h5v5h-5zM1291 945h5v5h-5zM1319 945h5v5h-5zM1299 949h5v5h-5zM1315 949h5v5h-5zM1307 953h5v5h-5zM1371 957h5v5h-5zM1375 957h5v5h-5zM1371 961h5v5h-5zM1375 961h5v5h-5zM1379 961h5v5h-5zM1383 961h5v5h-5zM1367 965h5v5h-5zM1371 965h5v5h-5zM1375 965h5v5h-5zM1379 965h5v5h-5zM1383 965h5v5h-5zM1387 965h5v5h-5zM1391 965h5v5h-5zM1367 969h5v5h-5zM1371 969h5v5h-5zM1367 973h5v5h-5zM1371 973h5v5h-5zM1363 977h5v5h-5zM1367 977h5v5h-5zM1363 981h5v5h-5zM1359 985h5v5h-5zM1363 985h5v5h-5zM1355 989h5v5h-5z"/>
<path fill="#48ffb7" d="M1359 857h5v5h-5zM1359 861h5v5h-5zM1363 869h5v5h-5zM1367 873h5v5h-5zM1371 881h5v5h-5zM1375 889h5v5h-5zM1403 901h5v5h-5zM1375 905h5v5h-5zM1403 905h5v5h-5zM1403 909h5v5h-5zM1371 913h5v5h-5zM1403 913h5v5h-5zM1367 921h5v5h-5zM1363 929h5v5h-5zM1363 933h5v5h-5zM1367 933h5v5h-5zM1359 937h5v5h-5zM1363 937h5v5h-5zM1367 937h5v5h-5zM1371 937h5v5h-5zM1375 937h5v5h-5zM1379 937h5v5h-5zM1355 941h5v5h-5zM1359 941h5v5h-5zM1363 941h5v5h-5zM1367 941h5v5h-5zM1379 941h5v5h-5zM1271 945h5v5h-5zM1275 945h5v5h-5zM1279 945h5v5h-5zM1283 945h5v5h-5zM1327 945h5v5h-5zM1331 945h5v5h-5zM1335 945h5v5h-5zM1339 945h5v5h-5zM1343 945h5v5h-5zM1347 945h5v5h-5zM1351 945h5v5h-5zM1355 945h5v5h-5zM1359 945h5v5h-5zM1363 945h5v5h-5zM1379 945h5v5h-5zM1271 949h5v5h-5zM1291 949h5v5h-5zM1323 949h5v5h-5zM1355 949h5v5h-5zM1359 949h5v5h-5zM1363 949h5v5h-5zM1383 949h5v5h-5zM1271 953h5v5h-5zM1299 953h5v5h-5zM1319 953h5v5h-5zM1323 953h5v5h-5zM1331 953h5v5h-5zM1335 953h5v5h-5zM1339 953h5v5h-5zM1359 953h5v5h-5zM1363 953h5v5h-5zM1383 953h5v5h-5zM1387 953h5v5h-5zM1395 953h5v5h-5zM1399 953h5v5h-5zM1303 957h5v5h-5zM1307 957h5v5h-5zM1311 957h5v5h-5zM1315 957h5v5h-5zM1319 957h5v5h-5zM1323 957h5v5h-5zM1327 957h5v5h-5zM1331 957h5v5h-5zM1335 957h5v5h-5zM1339 957h5v5h-5zM1343 957h5v5h-5zM1347 957h5v5h-5zM1355 957h5v5h-5zM1359 957h5v5h-5zM1387 957h5v5h-5zM1391 957h5v5h-5zM1311 961h5v5h-5zM1315 961h5v5h-5zM1319 961h5v5h-5zM1323 961h5v5h-5zM1327 961h5v5h-5zM1343 961h5v5h-5zM1347 961h5v5h-5zM1351 961h5v5h-5zM1355 961h5v5h-5zM1359 961h5v5h-5zM1327 965h5v5h-5zM1331 965h5v5h-5zM1343 965h5v5h-5zM1347 965h5v5h-5zM1351 965h5v5h-5zM1355 965h5v5h-5zM1359 965h5v5h-5zM1331 969h5v5h-5zM1335 969h5v5h-5zM1339 969h5v5h-5zM1343 969h5v5h-5zM1351 969h5v5h-5zM1355 969h5v5h-5zM1355 973h5v5h-5zM1291 977h5v5h-5zM1295 977h5v5h-5zM1299 977h5v5h-5zM1355 977h5v5h-5zM1303 981h5v5h-5zM1351 981h5v5h-5zM1307 985h5v5h-5zM1347 985h5v5h-5zM1351 985h5v5h-5zM1315 989h5v5h-5zM1327 989h5v5h-5zM1331 989h5v5h-5zM1335 989h5v5h-5zM1339 989h5v5h-5z"/>
<path fill="#38ffc7" d="M1363 857h5v5h-5zM1363 861h5v5h-5zM1363 865h5v5h-5zM1367 869h5v5h-5zM1371 877h5v5h-5zM1375 885h5v5h-5zM1379 889h5v5h-5zM1379 893h5v5h-5zM1379 897h5v5h-5zM1379 901h5v5h-5zM1375 909h5v5h-5zM1371 917h5v5h-5zM1403 917h5v5h-5zM1403 921h5v5h-5zM1367 925h5v5h-5zM1367 929h5v5h-5zM1371 929h5v5h-5zM1371 933h5v5h-5zM1375 933h5v5h-5zM1379 933h5v5h-5zM1383 937h5v5h-5zM1383 941h5v5h-5zM1403 941h5v5h-5zM1383 945h5v5h-5zM1275 949h5v5h-5zM1279 949h5v5h-5zM1283 949h5v5h-5zM1287 949h5v5h-5zM1327 949h5v5h-5zM1331 949h5v5h-5zM1335 949h5v5h-5zM1339 949h5v5h-5zM1343 949h5v5h-5zM1347 949h5v5h-5zM1351 949h5v5h-5zM1387 949h5v5h-5zM1395 949h5v5h-5zM1399 949h5v5h-5zM1275 953h5v5h-5zM1295 953h5v5h-5zM1327 953h5v5h-5zM1343 953h5v5h-5zM1347 953h5v5h-5zM1351 953h5v5h-5zM1355 953h5v5h-5zM1391 953h5v5h-5zM1275 957h5v5h-5zM1351 957h5v5h-5zM1307 961h5v5h-5zM1311 965h5v5h-5zM1315 965h5v5h-5zM1319 965h5v5h-5zM1323 965h5v5h-5zM1327 969h5v5h-5zM1347 969h5v5h-5zM1287 973h5v5h-5zM1291 973h5v5h-5zM1295 973h5v5h-5zM1299 973h5v5h-5zM1331 973h5v5h-5zM1335 973h5v5h-5zM1339 973h5v5h-5zM1343 973h5v5h-5zM1347 973h5v5h-5zM1351 973h5v5h-5zM1303 977h5v5h-5zM1343 977h5v5h-5zM1347 977h5v5h-5zM1351 977h5v5h-5zM1307 981h5v5h-5zM1343 981h5v5h-5zM1347 981h5v5h-5zM1311 985h5v5h-5zM1331 985h5v5h-5zM1335 985h5v5h-5zM1339 985h5v5h-5zM1343 985h5v5h-5zM1319 989h5v5h-5zM1323 989h5v5h-5z"/>
<path fill="#f7ff08" d="M1323 861h5v5h-5zM1327 861h5v5h-5zM1331 861h5v5h-5zM1319 865h5v5h-5zM1323 865h5v5h-5zM1331 865h5v5h-5zM1335 865h5v5h-5zM1311 869h5v5h-5zM1315 869h5v5h-5zM1319 869h5v5h-5zM1339 869h5v5h-5zM1307 873h5v5h-5zM1311 873h5v5h-5zM1315 873h5v5h-5zM1303 877h5v5h-5zM1307 877h5v5h-5zM1311 877h5v5h-5zM1315 877h5v5h-5zM1319 877h5v5h-5zM1299 881h5v5h-5zM1303 881h5v5h-5zM1307 881h5v5h-5zM1311 881h5v5h-5zM1315 881h5v5h-5zM1319 881h5v5h-5zM1351 881h5v5h-5zM1299 885h5v5h-5zM1307 885h5v5h-5zM1351 885h5v5h-5zM1295 889h5v5h-5zM1307 889h5v5h-5zM1351 889h5v5h-5zM1307 893h5v5h-5zM1323 893h5v5h-5zM1307 897h5v5h-5zM1323 897h5v5h-5zM1355 897h5v5h-5zM1287 901h5v5h-5zM1327 901h5v5h-5zM1359 901h5v5h-5zM1287 905h5v5h-5zM1303 905h5v5h-5zM1331 905h5v5h-5zM1335 905h5v5h-5zM1339 905h5v5h-5zM1343 905h5v5h-5zM1347 905h5v5h-5zM1351 905h5v5h-5zM1355 905h5v5h-5zM1287 913h5v5h-5zM1291 917h5v5h-5z"/>
<path fill="#97ff68" d="M1347 861h5v5h-5zM1291 865h5v5h-5zM1287 869h5v5h-5zM1287 873h5v5h-5zM1287 877h5v5h-5zM1359 877h5v5h-5zM1287 881h5v5h-5zM1363 885h5v5h-5zM1283 889h5v5h-5zM1367 893h5v5h-5zM1279 897h5v5h-5zM1275 901h5v5h-5zM1275 905h5v5h-5zM1275 909h5v5h-5zM1315 909h5v5h-5zM1271 913h5v5h-5zM1307 913h5v5h-5zM1323 913h5v5h-5zM1363 913h5v5h-5zM1271 917h5v5h-5zM1327 917h5v5h-5zM1359 917h5v5h-5zM1271 921h5v5h-5zM1303 921h5v5h-5zM1331 921h5v5h-5zM1335 921h5v5h-5zM1351 921h5v5h-5zM1355 921h5v5h-5zM1275 925h5v5h-5zM1303 925h5v5h-5zM1335 925h5v5h-5zM1339 925h5v5h-5zM1343 925h5v5h-5zM1347 925h5v5h-5zM1279 929h5v5h-5zM1307 929h5v5h-5zM1283 933h5v5h-5zM1287 933h5v5h-5zM1311 933h5v5h-5zM1315 933h5v5h-5zM1291 937h5v5h-5zM1295 937h5v5h-5zM1315 937h5v5h-5zM1299 941h5v5h-5zM1311 941h5v5h-5z"/>
<path fill="#28ffd7" d="M1367 861h5v5h-5zM1371 861h5v5h-5zM1367 865h5v5h-5zM1379 865h5v5h-5zM1371 873h5v5h-5zM1375 881h5v5h-5zM1379 885h5v5h-5zM1399 893h5v5h-5zM1399 897h5v5h-5zM1399 901h5v5h-5zM1379 905h5v5h-5zM1399 905h5v5h-5zM1399 909h5v5h-5zM1399 913h5v5h-5zM1371 921h5v5h-5zM1371 925h5v5h-5zM1403 925h5v5h-5zM1375 929h5v5h-5zM1379 929h5v5h-5zM1403 929h5v5h-5zM1383 933h5v5h-5zM1403 933h5v5h-5zM1403 937h5v5h-5zM1387 941h5v5h-5zM1399 941h5v5h-5zM1387 945h5v5h-5zM1395 945h5v5h-5zM1399 945h5v5h-5zM1391 949h5v5h-5zM1279 953h5v5h-5zM1291 953h5v5h-5zM1299 957h5v5h-5zM1303 961h5v5h-5zM1279 965h5v5h-5zM1303 965h5v5h-5zM1307 965h5v5h-5zM1283 969h5v5h-5zM1299 969h5v5h-5zM1303 969h5v5h-5zM1307 969h5v5h-5zM1311 969h5v5h-5zM1315 969h5v5h-5zM1319 969h5v5h-5zM1323 969h5v5h-5zM1303 973h5v5h-5zM1307 973h5v5h-5zM1327 973h5v5h-5zM1307 977h5v5h-5zM1331 977h5v5h-5zM1335 977h5v5h-5zM1339 977h5v5h-5zM1311 981h5v5h-5zM1327 981h5v5h-5zM1331 981h5v5h-5zM1335 981h5v5h-5zM1339 981h5v5h-5zM1315 985h5v5h-5zM1319 985h5v5h-5zM1323 985h5v5h-5zM1327 985h5v5h-5z"/>
<path fill="#fff700" d="M1327 865h5v5h-5zM1323 869h5v5h-5zM1327 869h5v5h-5zM1331 869h5v5h-5zM1335 869h5v5h-5zM1319 873h5v5h-5zM1323 873h5v5h-5zM1343 873h5v5h-5zM1323 877h5v5h-5zM1347 877h5v5h-5zM1323 881h5v5h-5zM1303 885h5v5h-5zM1323 885h5v5h-5zM1299 889h5v5h-5zM1303 889h5v5h-5zM1323 889h5v5h-5zM1295 893h5v5h-5zM1299 893h5v5h-5zM1303 893h5v5h-5zM1351 893h5v5h-5zM1291 897h5v5h-5zM1303 897h5v5h-5zM1327 897h5v5h-5zM1347 897h5v5h-5zM1351 897h5v5h-5zM1303 901h5v5h-5zM1331 901h5v5h-5zM1335 901h5v5h-5zM1339 901h5v5h-5zM1343 901h5v5h-5zM1347 901h5v5h-5zM1351 901h5v5h-5zM1355 901h5v5h-5zM1287 909h5v5h-5zM1299 909h5v5h-5zM1291 913h5v5h-5zM1295 913h5v5h-5z"/>
<path fill="#18ffe7" d="M1371 865h5v5h-5zM1375 865h5v5h-5zM1371 869h5v5h-5zM1375 869h5v5h-5zM1379 869h5v5h-5zM1383 869h5v5h-5zM1375 873h5v5h-5zM1375 877h5v5h-5zM1379 881h5v5h-5zM1383 889h5v5h-5zM1383 893h5v5h-5zM1395 893h5v5h-5zM1383 897h5v5h-5zM1395 897h5v5h-5zM1383 901h5v5h-5zM1395 901h5v5h-5zM1395 905h5v5h-5zM1375 913h5v5h-5zM1399 917h5v5h-5zM1375 921h5v5h-5zM1399 921h5v5h-5zM1375 925h5v5h-5zM1399 925h5v5h-5zM1383 929h5v5h-5zM1399 929h5v5h-5zM1387 933h5v5h-5zM1399 933h5v5h-5zM1387 937h5v5h-5zM1399 937h5v5h-5zM1391 941h5v5h-5zM1395 941h5v5h-5zM1391 945h5v5h-5zM1283 953h5v5h-5zM1287 953h5v5h-5zM1279 957h5v5h-5zM1295 957h5v5h-5zM1279 961h5v5h-5zM1299 961h5v5h-5zM1283 965h5v5h-5zM1299 965h5v5h-5zM1287 969h5v5h-5zM1291 969h5v5h-5zM1295 969h5v5h-5zM1311 973h5v5h-5zM1315 973h5v5h-5zM1319 973h5v5h-5zM1323 973h5v5h-5zM1311 977h5v5h-5zM1315 977h5v5h-5zM1323 977h5v5h-5zM1327 977h5v5h-5zM1315 981h5v5h-5zM1319 981h5v5h-5zM1323 981h5v5h-5z"/>
<path fill="#ffe700" d="M1327 873h5v5h-5zM1339 873h5v5h-5zM1347 881h5v5h-5zM1327 893h5v5h-5zM1347 893h5v5h-5zM1295 897h5v5h-5zM1299 897h5v5h-5zM1331 897h5v5h-5zM1343 897h5v5h-5zM1291 901h5v5h-5zM1299 901h5v5h-5zM1291 905h5v5h-5zM1299 905h5v5h-5zM1291 909h5v5h-5zM1295 909h5v5h-5z"/>
<path fill="#ffd700" d="M1331 873h5v5h-5zM1335 873h5v5h-5zM1327 877h5v5h-5zM1343 877h5v5h-5zM1327 881h5v5h-5zM1347 885h5v5h-5zM1327 889h5v5h-5zM1347 889h5v5h-5zM1343 893h5v5h-5zM1335 897h5v5h-5zM1339 897h5v5h-5zM1295 901h5v5h-5zM1295 905h5v5h-5z"/>
<path fill="#08fff7" d="M1379 873h5v5h-5zM1383 873h5v5h-5zM1387 873h5v5h-5zM1379 877h5v5h-5zM1383 877h5v5h-5zM1387 877h5v5h-5zM1391 877h5v5h-5zM1383 881h5v5h-5zM1391 881h5v5h-5zM1383 885h5v5h-5zM1387 885h5v5h-5zM1391 885h5v5h-5zM1395 885h5v5h-5zM1387 889h5v5h-5zM1391 889h5v5h-5zM1395 889h5v5h-5zM1387 893h5v5h-5zM1391 893h5v5h-5zM1387 897h5v5h-5zM1391 897h5v5h-5zM1387 901h5v5h-5zM1391 901h5v5h-5zM1383 905h5v5h-5zM1391 905h5v5h-5zM1379 909h5v5h-5zM1395 909h5v5h-5zM1395 913h5v5h-5zM1375 917h5v5h-5zM1395 917h5v5h-5zM1395 921h5v5h-5zM1379 925h5v5h-5zM1383 925h5v5h-5zM1387 929h5v5h-5zM1395 929h5v5h-5zM1391 933h5v5h-5zM1395 933h5v5h-5zM1391 937h5v5h-5zM1395 937h5v5h-5zM1283 957h5v5h-5zM1287 957h5v5h-5zM1291 957h5v5h-5zM1283 961h5v5h-5zM1295 961h5v5h-5zM1287 965h5v5h-5zM1291 965h5v5h-5zM1295 965h5v5h-5zM1319 977h5v5h-5z"/>
<path fill="#ffc700" d="M1331 877h5v5h-5zM1339 877h5v5h-5zM1327 885h5v5h-5zM1343 889h5v5h-5zM1331 893h5v5h-5zM1339 893h5v5h-5z"/>
<path fill="#ffb700" d="M1335 877h5v5h-5zM1331 881h5v5h-5zM1343 881h5v5h-5zM1343 885h5v5h-5zM1331 889h5v5h-5zM1335 893h5v5h-5z"/>
<path fill="#ffa700" d="M1335 881h5v5h-5zM1339 881h5v5h-5zM1331 885h5v5h-5zM1335 889h5v5h-5zM1339 889h5v5h-5z"/>
<path fill="#00f7ff" d="M1387 881h5v5h-5zM1387 905h5v5h-5zM1383 909h5v5h-5zM1387 909h5v5h-5zM1391 909h5v5h-5zM1379 913h5v5h-5zM1391 913h5v5h-5zM1379 917h5v5h-5zM1391 917h5v5h-5zM1379 921h5v5h-5zM1391 921h5v5h-5zM1387 925h5v5h-5zM1391 925h5v5h-5zM1395 925h5v5h-5zM1391 929h5v5h-5zM1287 961h5v5h-5zM1291 961h5v5h-5z"/>
<path fill="#ff9700" d="M1335 885h5v5h-5zM1339 885h5v5h-5z"/>
<path fill="#00e7ff" d="M1383 913h5v5h-5zM1387 913h5v5h-5zM1383 917h5v5h-5zM1387 917h5v5h-5zM1383 921h5v5h-5zM1387 921h5v5h-5z"/>
</g></g>
<circle cx="1337.00" cy="923.30" r="47.30" fill="none" stroke="#0a0a0a" stroke-width="2.4"/>
<path d="M1328.19 877.13 L1334.34 870.26 Q1337.00 866.99 1339.66 870.26 L1345.81 877.13" fill="none" stroke="#0a0a0a" stroke-width="2.4" stroke-linejoin="round"/>
<path d="M1289.90 912.65 C1288.61 910.60 1285.60 910.80 1285.80 915.00 C1286.21 921.25 1286.21 927.40 1285.39 932.42 C1285.19 936.51 1288.18 937.02 1289.90 935.18" fill="none" stroke="#0a0a0a" stroke-width="2.4" stroke-linejoin="round"/>
<path d="M1384.10 912.65 C1385.39 910.60 1388.40 910.80 1388.20 915.00 C1387.79 921.25 1387.79 927.40 1388.61 932.42 C1388.81 936.51 1385.82 937.02 1384.10 935.18" fill="none" stroke="#0a0a0a" stroke-width="2.4" stroke-linejoin="round"/>
<rect x="1432.00" y="281.30" width="12.50" height="126.20" fill="url(#jetg)" stroke="#444" stroke-width="0.8"/>
<rect x="1431.70" y="861.70" width="12.80" height="126.30" fill="url(#jetg)" stroke="#444" stroke-width="0.8"/>
<path d="M74 158C75 157.67 78.33 156.75 80 156C81.67 155.25 82.42 154.58 84 153.5C85.58 152.42 87.33 149.58 89.5 149.5C91.67 149.42 95.25 151.5 97 153C98.75 154.5 99 156.42 100 158.5C101 160.58 101.75 163.67 103 165.5C104.25 167.33 106 169.33 107.5 169.5C109 169.67 110.5 166.58 112 166.5C113.5 166.42 115.33 168.92 116.5 169C117.67 169.08 118.08 168.58 119 167C119.92 165.42 120.67 161.42 122 159.5C123.33 157.58 125.25 155.83 127 155.5C128.75 155.17 130.83 157 132.5 157.5C134.17 158 135.42 156.58 137 158.5C138.58 160.42 140.33 165.75 142 169C143.67 172.25 145.75 176.42 147 178C148.25 179.58 148.5 177 149.5 178.5C150.5 180 151.58 184.08 153 187C154.42 189.92 156.33 195.83 158 196C159.67 196.17 161.25 191.08 163 188C164.75 184.92 167 178.33 168.5 177.5C170 176.67 170.75 180.08 172 183C173.25 185.92 174.67 192.5 176 195C177.33 197.5 178.5 198.33 180 198C181.5 197.67 183.33 193.5 185 193C186.67 192.5 188.5 194.5 190 195C191.5 195.5 192.5 194.5 194 196C195.5 197.5 197.33 201.08 199 204C200.67 206.92 202.33 212.92 204 213.5C205.67 214.08 207.67 208.42 209 207.5C210.33 206.58 210.58 206.33 212 208C213.42 209.67 215.58 217.33 217.5 217.5C219.42 217.67 221.75 210.08 223.5 209C225.25 207.92 226.83 209.92 228 211C229.17 212.08 229.33 214.58 230.5 215.5C231.67 216.42 233.58 215.33 235 216.5C236.42 217.67 237.58 220.08 239 222.5C240.42 224.92 242.17 229.17 243.5 231C244.83 232.83 245.25 231.25 247 233.5C248.75 235.75 252.33 242.33 254 244.5C255.67 246.67 255.33 246.67 257 246.5C258.67 246.33 261.83 244.67 264 243.5C266.17 242.33 268.33 239.92 270 239.5C271.67 239.08 272.67 239.5 274 241C275.33 242.5 276.17 246.5 278 248.5C279.83 250.5 282.83 252.67 285 253C287.17 253.33 289.33 249.33 291 250.5C292.67 251.67 293.5 255.92 295 260C296.5 264.08 298.42 271.83 300 275C301.58 278.17 303.17 276.75 304.5 279C305.83 281.25 306.75 286.67 308 288.5C309.25 290.33 310.67 291.17 312 290C313.33 288.83 314 281.08 316 281.5C318 281.92 321.67 290.75 324 292.5C326.33 294.25 328 291.33 330 292C332 292.67 333.83 295.5 336 296.5C338.17 297.5 340.83 296.83 343 298C345.17 299.17 347 302.33 349 303.5C351 304.67 353 305.5 355 305C357 304.5 359.5 301.08 361 300.5C362.5 299.92 362.83 300.58 364 301.5C365.17 302.42 366.58 305.5 368 306C369.42 306.5 371.08 304.67 372.5 304.5C373.92 304.33 375.25 304.42 376.5 305C377.75 305.58 378.67 307.17 380 308C381.33 308.83 383.17 310.25 384.5 310C385.83 309.75 386.67 308 388 306.5C389.33 305 391 302.08 392.5 301C394 299.92 395.08 299.25 397 300C398.92 300.75 401.92 305.17 404 305.5C406.08 305.83 407.83 302.17 409.5 302C411.17 301.83 412.25 305.33 414 304.5C415.75 303.67 418.33 298.58 420 297C421.67 295.42 422.42 294.5 424 295C425.58 295.5 427.67 299.75 429.5 300C431.33 300.25 433.25 296.92 435 296.5C436.75 296.08 438.67 297 440 297.5C441.33 298 441.75 299.25 443 299.5C444.25 299.75 445.67 299.83 447.5 299C449.33 298.17 451.75 294.33 454 294.5C456.25 294.67 459 299.75 461 300C463 300.25 464.17 298.75 466 296C467.83 293.25 469.67 285.83 472 283.5C474.33 281.17 478.17 282.92 480 282C481.83 281.08 481.5 281.67 483 278C484.5 274.33 487 266.83 489 260C491 253.17 493.5 243.5 495 237C496.5 230.5 496.83 226 498 221C499.17 216 500.5 211.5 502 207C503.5 202.5 504.83 198 507 194C509.17 190 512.67 187.33 515 183C517.33 178.67 519 171.5 521 168C523 164.5 524.67 164.58 527 162C529.33 159.42 532.83 153.5 535 152.5C537.17 151.5 537.83 153.42 540 156C542.17 158.58 546 166.67 548 168C550 169.33 550.67 166.67 552 164C553.33 161.33 554.33 154.83 556 152C557.67 149.17 559.83 150.25 562 147C564.17 143.75 567 134 569 132.5C571 131 572.33 136.33 574 138C575.67 139.67 577 139.67 579 142.5C581 145.33 583.5 154.63 586 155C588.5 155.37 591.67 145.75 594 144.7C596.33 143.65 597.88 149.27 600 148.7C602.12 148.13 604.92 142.3 606.7 141.3C608.48 140.3 608.7 143.75 610.7 142.7C612.7 141.65 616.6 135.57 618.7 135C620.8 134.43 621.87 137.92 623.3 139.3C624.73 140.68 625.85 142.18 627.3 143.3C628.75 144.42 629.88 147 632 146C634.12 145 638.22 138.42 640 137.3C641.78 136.18 641.48 137.23 642.7 139.3C643.92 141.37 645.87 148.08 647.3 149.7C648.73 151.32 649.18 148.4 651.3 149C653.42 149.6 658 151.63 660 153.3C662 154.97 662.75 158.05 663.3 159" fill="none" stroke="#0a0a0a" stroke-width="3.0" stroke-linejoin="round" stroke-linecap="round"/>
<path d="M74 157.5C74.83 156.67 77.5 153.5 79 152.5C80.5 151.5 81.67 151.92 83 151.5C84.33 151.08 85.17 149.33 87 150C88.83 150.67 92.17 154.42 94 155.5C95.83 156.58 96.83 156.83 98 156.5C99.17 156.17 99.67 153.25 101 153.5C102.33 153.75 104.5 155.75 106 158C107.5 160.25 108.42 164.5 110 167C111.58 169.5 113.83 172.58 115.5 173C117.17 173.42 118.25 168.83 120 169.5C121.75 170.17 124.42 175.75 126 177C127.58 178.25 128.25 177.75 129.5 177C130.75 176.25 132.25 173 133.5 172.5C134.75 172 135.75 172.83 137 174C138.25 175.17 139.33 178.33 141 179.5C142.67 180.67 145.25 180.42 147 181C148.75 181.58 149.92 182.92 151.5 183C153.08 183.08 155.25 182.08 156.5 181.5C157.75 180.92 157.33 178.67 159 179.5C160.67 180.33 164.67 185.92 166.5 186.5C168.33 187.08 168.67 184.83 170 183C171.33 181.17 173 176.58 174.5 175.5C176 174.42 177.08 177.17 179 176.5C180.92 175.83 184.17 171.75 186 171.5C187.83 171.25 188.67 174.33 190 175C191.33 175.67 192.83 175 194 175.5C195.17 176 196 177.5 197 178C198 178.5 199 177.92 200 178.5C201 179.08 202.08 180 203 181.5C203.92 183 204.83 185.33 205.5 187.5C206.17 189.67 205.92 191.42 207 194.5C208.08 197.58 210.33 204.75 212 206C213.67 207.25 214.83 203.25 217 202C219.17 200.75 223 200 225 198.5C227 197 227.83 194.75 229 193C230.17 191.25 230.92 188.42 232 188C233.08 187.58 234.33 188.08 235.5 190.5C236.67 192.92 237.75 199 239 202.5C240.25 206 241.58 209.58 243 211.5C244.42 213.42 246.25 212.58 247.5 214C248.75 215.42 249.42 216.5 250.5 220C251.58 223.5 252.92 231.58 254 235C255.08 238.42 255.83 240.75 257 240.5C258.17 240.25 259.5 234.33 261 233.5C262.5 232.67 264.58 234.33 266 235.5C267.42 236.67 268.33 239.08 269.5 240.5C270.67 241.92 271.5 244.25 273 244C274.5 243.75 277 239 278.5 239C280 239 280.67 240.08 282 244C283.33 247.92 284.5 261.83 286.5 262.5C288.5 263.17 291.92 249.17 294 248C296.08 246.83 297.5 253.75 299 255.5C300.5 257.25 301.5 257 303 258.5C304.5 260 306.25 264 308 264.5C309.75 265 311.83 261.08 313.5 261.5C315.17 261.92 316.58 264.08 318 267C319.42 269.92 320.67 276.33 322 279C323.33 281.67 324.17 280.92 326 283C327.83 285.08 331.42 290.08 333 291.5C334.58 292.92 334.17 293.25 335.5 291.5C336.83 289.75 339.42 282.17 341 281C342.58 279.83 343.67 284.17 345 284.5C346.33 284.83 347.5 282.08 349 283C350.5 283.92 352.33 286.83 354 290C355.67 293.17 357.17 298.33 359 302C360.83 305.67 363.33 311 365 312C366.67 313 367.67 309.33 369 308C370.33 306.67 371.17 303.58 373 304C374.83 304.42 377.67 310.75 380 310.5C382.33 310.25 384.83 302.67 387 302.5C389.17 302.33 390.83 310.92 393 309.5C395.17 308.08 397.83 295.5 400 294C402.17 292.5 404 301.33 406 300.5C408 299.67 410.08 291.08 412 289C413.92 286.92 415.83 288.67 417.5 288C419.17 287.33 420.08 285.5 422 285C423.92 284.5 427.08 286 429 285C430.92 284 432.08 280.33 433.5 279C434.92 277.67 436.08 277.25 437.5 277C438.92 276.75 440.42 276.5 442 277.5C443.58 278.5 445.5 280.25 447 283C448.5 285.75 449.5 291.17 451 294C452.5 296.83 454 297 456 300C458 303 461.08 310 463 312C464.92 314 466.17 312.67 467.5 312C468.83 311.33 469.42 309.83 471 308C472.58 306.17 475.17 303.58 477 301C478.83 298.42 480.17 294.17 482 292.5C483.83 290.83 486.17 296.42 488 291C489.83 285.58 491.33 267.67 493 260C494.67 252.33 496.17 249.2 498 245C499.83 240.8 502 239.8 504 234.8C506 229.8 508 222.13 510 215C512 207.87 514.17 197.33 516 192C517.83 186.67 519.33 185.67 521 183C522.67 180.33 524.5 178.83 526 176C527.5 173.17 528.33 167.92 530 166C531.67 164.08 534.17 166 536 164.5C537.83 163 539.08 156 541 157C542.92 158 545.67 169.83 547.5 170.5C549.33 171.17 550.75 164.33 552 161C553.25 157.67 553.33 152.25 555 150.5C556.67 148.75 559.67 153.33 562 150.5C564.33 147.67 566.83 134.42 569 133.5C571.17 132.58 573.33 141 575 145C576.67 149 577.5 155.42 579 157.5C580.5 159.58 582.83 157.92 584 157.5C585.17 157.08 584.67 154.67 586 155C587.33 155.33 590.12 160.78 592 159.5C593.88 158.22 595.42 151 597.3 147.3C599.18 143.6 601.52 141.52 603.3 137.3C605.08 133.08 606.88 124.93 608 122C609.12 119.07 609.22 119.37 610 119.7C610.78 120.03 611.48 118.95 612.7 124C613.92 129.05 616.08 145.17 617.3 150C618.52 154.83 618 154.72 620 153C622 151.28 627.3 141.87 629.3 139.7C631.3 137.53 630.77 138.57 632 140C633.23 141.43 635.37 145.92 636.7 148.3C638.03 150.68 638.9 153.47 640 154.3C641.1 155.13 641.97 152.68 643.3 153.3C644.63 153.92 646.88 156 648 158C649.12 160 649.12 163.58 650 165.3C650.88 167.02 651.97 168.8 653.3 168.3C654.63 167.8 656.33 162.47 658 162.3C659.67 162.13 662.42 166.47 663.3 167.3" fill="none" stroke="#c40000" stroke-width="3.0" stroke-linejoin="round" stroke-linecap="round"/>
<rect x="467.2" y="218.1" width="29.4" height="106.9" fill="none" stroke="#111" stroke-width="1.6"/>
<path d="M73.4 69.8 L73.4 430 L665.5 430" fill="none" stroke="#1a1a1a" stroke-width="2.7" stroke-linejoin="miter" stroke-linecap="square"/>
<line x1="73.4" y1="69.8" x2="79.9" y2="69.8" stroke="#1a1a1a" stroke-width="2.7" stroke-linecap="round"/>
<line x1="73.4" y1="160" x2="79.9" y2="160" stroke="#1a1a1a" stroke-width="2.7" stroke-linecap="round"/>
<line x1="73.4" y1="250" x2="79.9" y2="250" stroke="#1a1a1a" stroke-width="2.7" stroke-linecap="round"/>
<line x1="73.4" y1="340.2" x2="79.9" y2="340.2" stroke="#1a1a1a" stroke-width="2.7" stroke-linecap="round"/>
<line x1="172" y1="430" x2="172" y2="423.5" stroke="#1a1a1a" stroke-width="2.7" stroke-linecap="round"/>
<line x1="270.7" y1="430" x2="270.7" y2="423.5" stroke="#1a1a1a" stroke-width="2.7" stroke-linecap="round"/>
<line x1="369.7" y1="430" x2="369.7" y2="423.5" stroke="#1a1a1a" stroke-width="2.7" stroke-linecap="round"/>
<line x1="467.7" y1="430" x2="467.7" y2="423.5" stroke="#1a1a1a" stroke-width="2.7" stroke-linecap="round"/>
<line x1="566.3" y1="430" x2="566.3" y2="423.5" stroke="#1a1a1a" stroke-width="2.7" stroke-linecap="round"/>
<line x1="665.5" y1="430" x2="665.5" y2="423.5" stroke="#1a1a1a" stroke-width="2.7" stroke-linecap="round"/>
<path d="M57.4 68.5 Q60.6 65.53 63 62.3 L63 82.3" fill="none" stroke="#111" stroke-width="2.75" stroke-linecap="butt" stroke-linejoin="round"/>
<text x="53.55" y="173" font-size="30" textLength="16.38" lengthAdjust="spacingAndGlyphs" fill="#111">0</text>
<path d="M46.7 256 H54.6" stroke="#111" stroke-width="2.3"/>
<path d="M59.3 249.4 Q62.62 246.43 65.1 243.2 L65.1 263.9" fill="none" stroke="#111" stroke-width="2.75" stroke-linecap="butt" stroke-linejoin="round"/>
<text x="45.83" y="352.7" font-size="30" textLength="26.2" lengthAdjust="spacingAndGlyphs" fill="#111">-2</text>
<text x="45.91" y="443" font-size="30" textLength="26.2" lengthAdjust="spacingAndGlyphs" fill="#111">-3</text>
<text x="64.63" y="466.5" font-size="30" textLength="58.96" lengthAdjust="spacingAndGlyphs" fill="#111">-800</text>
<text x="144.03" y="466.5" font-size="30" textLength="58.96" lengthAdjust="spacingAndGlyphs" fill="#111">-600</text>
<text x="241.73" y="466.5" font-size="30" textLength="58.96" lengthAdjust="spacingAndGlyphs" fill="#111">-400</text>
<text x="340.13" y="466.5" font-size="30" textLength="58.96" lengthAdjust="spacingAndGlyphs" fill="#111">-200</text>
<text x="457.79" y="466.5" font-size="30" textLength="16.38" lengthAdjust="spacingAndGlyphs" fill="#111">0</text>
<text x="541.75" y="466.5" font-size="30" textLength="49.15" lengthAdjust="spacingAndGlyphs" fill="#111">200</text>
<text x="640.66" y="466.5" font-size="30" textLength="49.15" lengthAdjust="spacingAndGlyphs" fill="#111">400</text>
<text x="295.9" y="502" font-size="36.8" textLength="159.6" lengthAdjust="spacingAndGlyphs" fill="#111">Time (ms)</text>
<text transform="translate(30.4 351) rotate(-90)" x="-2.92" y="0" font-size="36.8" textLength="215.2" lengthAdjust="spacingAndGlyphs" fill="#111">Potential (&#956;V)</text>
<text x="8.7" y="84.3" font-size="42.5" font-weight="bold" textLength="20.33" lengthAdjust="spacingAndGlyphs" fill="#111">a</text>
<text x="346.21" y="71.9" font-size="30.25" font-weight="bold" textLength="41.17" lengthAdjust="spacingAndGlyphs" fill="#111">OT</text>
<line x1="102.5" y1="70.9" x2="156.4" y2="70.9" stroke="#111" stroke-width="2.7" stroke-linecap="round"/>
<line x1="102.5" y1="100.3" x2="156.4" y2="100.3" stroke="#c40000" stroke-width="2.7" stroke-linecap="round"/>
<text x="168.23" y="81" font-size="29.6" textLength="96.07" lengthAdjust="spacingAndGlyphs" fill="#111">Correct</text>
<text x="168.39" y="108.9" font-size="29.6" textLength="114" lengthAdjust="spacingAndGlyphs" fill="#111">Incorrect</text>
<path d="M807 165C808 165.67 810.83 169.58 813 169C815.17 168.42 818.17 162.42 820 161.5C821.83 160.58 822.83 162.08 824 163.5C825.17 164.92 826 168.92 827 170C828 171.08 828.67 170.83 830 170C831.33 169.17 833.33 166.58 835 165C836.67 163.42 838.67 160.67 840 160.5C841.33 160.33 842.17 162.42 843 164C843.83 165.58 844 168.08 845 170C846 171.92 847.67 174.42 849 175.5C850.33 176.58 851.67 175.75 853 176.5C854.33 177.25 855.5 177.33 857 180C858.5 182.67 860 190.08 862 192.5C864 194.92 866.67 192.42 869 194.5C871.33 196.58 874 205.25 876 205C878 204.75 879.42 195.92 881 193C882.58 190.08 883.5 185.75 885.5 187.5C887.5 189.25 890.42 202.5 893 203.5C895.58 204.5 898.67 193.25 901 193.5C903.33 193.75 904.83 203.5 907 205C909.17 206.5 912.33 202 914 202.5C915.67 203 915.67 204.58 917 208C918.33 211.42 920.33 220.17 922 223C923.67 225.83 925.33 225.67 927 225C928.67 224.33 930.33 220.75 932 219C933.67 217.25 935.67 214.83 937 214.5C938.33 214.17 938.83 214.83 940 217C941.17 219.17 942 226.42 944 227.5C946 228.58 949.67 222.75 952 223.5C954.33 224.25 956.33 230 958 232C959.67 234 960 232.83 962 235.5C964 238.17 967.83 246.58 970 248C972.17 249.42 973 243.83 975 244C977 244.17 979.92 249.25 982 249C984.08 248.75 985.33 241.25 987.5 242.5C989.67 243.75 992.75 253.92 995 256.5C997.25 259.08 999.33 256.75 1001 258C1002.67 259.25 1003.33 261 1005 264C1006.67 267 1009 272.83 1011 276C1013 279.17 1015.33 282 1017 283C1018.67 284 1019.33 279.92 1021 282C1022.67 284.08 1025.17 294.5 1027 295.5C1028.83 296.5 1030.67 288.58 1032 288C1033.33 287.42 1033.67 289.08 1035 292C1036.33 294.92 1038.67 302.67 1040 305.5C1041.33 308.33 1042 308.58 1043 309C1044 309.42 1044.5 307.25 1046 308C1047.5 308.75 1050.5 312.83 1052 313.5C1053.5 314.17 1053.67 311.83 1055 312C1056.33 312.17 1058.33 312.75 1060 314.5C1061.67 316.25 1063.67 320.83 1065 322.5C1066.33 324.17 1066.83 323.08 1068 324.5C1069.17 325.92 1070.5 329 1072 331C1073.5 333 1075.67 335.83 1077 336.5C1078.33 337.17 1078.83 336.58 1080 335C1081.17 333.42 1082.67 328.5 1084 327C1085.33 325.5 1086.67 326.42 1088 326C1089.33 325.58 1090.5 326.58 1092 324.5C1093.5 322.42 1095 314.75 1097 313.5C1099 312.25 1102 317.58 1104 317C1106 316.42 1107.33 310 1109 310C1110.67 310 1112.33 313.83 1114 317C1115.67 320.17 1117.5 328.67 1119 329C1120.5 329.33 1121.67 322.33 1123 319C1124.33 315.67 1125.67 310.92 1127 309C1128.33 307.08 1129.67 309 1131 307.5C1132.33 306 1133.75 303.25 1135 300C1136.25 296.75 1137 290.83 1138.5 288C1140 285.17 1142.58 284.67 1144 283C1145.42 281.33 1145 278.58 1147 278C1149 277.42 1153.83 279.5 1156 279.5C1158.17 279.5 1158.17 279.92 1160 278C1161.83 276.08 1165.17 268.83 1167 268C1168.83 267.17 1169.67 270.33 1171 273C1172.33 275.67 1173.33 282.33 1175 284C1176.67 285.67 1179.42 282.75 1181 283C1182.58 283.25 1183.33 283.42 1184.5 285.5C1185.67 287.58 1187.08 293.78 1188 295.5C1188.92 297.22 1188.83 297.55 1190 295.8C1191.17 294.05 1193.75 286.47 1195 285C1196.25 283.53 1196.67 287.17 1197.5 287C1198.33 286.83 1199.17 284.42 1200 284C1200.83 283.58 1201.58 285.83 1202.5 284.5C1203.42 283.17 1204.25 278.17 1205.5 276C1206.75 273.83 1208.75 273.5 1210 271.5C1211.25 269.5 1212.17 267.42 1213 264C1213.83 260.58 1213.67 255.88 1215 251C1216.33 246.12 1219.33 238.08 1221 234.7C1222.67 231.32 1223.88 232.37 1225 230.7C1226.12 229.03 1226.7 226.15 1227.7 224.7C1228.7 223.25 1229.67 225.57 1231 222C1232.33 218.43 1234.37 208.63 1235.7 203.3C1237.03 197.97 1238.12 193.17 1239 190C1239.88 186.83 1239.95 187.13 1241 184.3C1242.05 181.47 1244.02 176.78 1245.3 173C1246.58 169.22 1247.57 165.97 1248.7 161.6C1249.83 157.23 1250.97 150.6 1252.1 146.8C1253.23 143 1254.18 142.22 1255.5 138.8C1256.82 135.38 1258.67 129.05 1260 126.3C1261.33 123.55 1262.17 124.4 1263.5 122.3C1264.83 120.2 1266.48 114.18 1268 113.7C1269.52 113.22 1271.08 116.65 1272.6 119.4C1274.12 122.15 1275.2 129.63 1277.1 130.2C1279 130.77 1282.47 123.83 1284 122.8C1285.53 121.77 1285.35 124.75 1286.3 124C1287.25 123.25 1288.38 120.97 1289.7 118.3C1291.02 115.63 1293.07 109.52 1294.2 108C1295.33 106.48 1295.17 106.92 1296.5 109.2C1297.83 111.48 1300.68 119.9 1302.2 121.7C1303.72 123.5 1303.9 118.48 1305.6 120C1307.3 121.52 1310.32 129.75 1312.4 130.8C1314.48 131.85 1316.57 127.82 1318.1 126.3C1319.63 124.78 1320.27 123.13 1321.6 121.7C1322.93 120.27 1324.78 119.6 1326.1 117.7C1327.42 115.8 1328.35 111.72 1329.5 110.3C1330.65 108.88 1331.67 110.33 1333 109.2C1334.33 108.07 1335.8 104.55 1337.5 103.5C1339.2 102.45 1341.68 101.77 1343.2 102.9C1344.72 104.03 1345.27 109.45 1346.6 110.3C1347.93 111.15 1349.3 107.62 1351.2 108C1353.1 108.38 1355.53 114.4 1358 112.6C1360.47 110.8 1363.92 100.43 1366 97.2C1368.08 93.97 1369.08 94.23 1370.5 93.2C1371.92 92.17 1372.78 90.7 1374.5 91C1376.22 91.3 1378.8 92.83 1380.8 95C1382.8 97.17 1384.97 102.5 1386.5 104C1388.03 105.5 1388.67 104.83 1390 104C1391.33 103.17 1393.38 99.95 1394.5 99C1395.62 98.05 1396.33 98.42 1396.7 98.3" fill="none" stroke="#0a0a0a" stroke-width="3.0" stroke-linejoin="round" stroke-linecap="round"/>
<path d="M807.5 155.5C808.08 156.5 810 160.42 811 161.5C812 162.58 812.17 163.17 813.5 162C814.83 160.83 816.92 155.33 819 154.5C821.08 153.67 823.83 157.17 826 157C828.17 156.83 830.67 153.83 832 153.5C833.33 153.17 833 152.58 834 155C835 157.42 836.5 163.17 838 168C839.5 172.83 841 180.83 843 184C845 187.17 848.17 187 850 187C851.83 187 852.5 185.17 854 184C855.5 182.83 857.33 179 859 180C860.67 181 862.5 186.75 864 190C865.5 193.25 866.33 196.5 868 199.5C869.67 202.5 872 207.67 874 208C876 208.33 878.33 202.58 880 201.5C881.67 200.42 882.5 199.25 884 201.5C885.5 203.75 886.5 213.92 889 215C891.5 216.08 896.17 207.5 899 208C901.83 208.5 903.83 215.67 906 218C908.17 220.33 909.67 220.75 912 222C914.33 223.25 917.67 224.67 920 225.5C922.33 226.33 924.33 227.08 926 227C927.67 226.92 928.33 224.58 930 225C931.67 225.42 934.33 226.67 936 229.5C937.67 232.33 938.5 239 940 242C941.5 245 943.17 246.92 945 247.5C946.83 248.08 949 246.5 951 245.5C953 244.5 955.08 240.92 957 241.5C958.92 242.08 960.58 249 962.5 249C964.42 249 966.58 242.25 968.5 241.5C970.42 240.75 972.25 242.67 974 244.5C975.75 246.33 977.58 250.25 979 252.5C980.42 254.75 980.67 258.33 982.5 258C984.33 257.67 988.33 251.5 990 250.5C991.67 249.5 991.5 248.42 992.5 252C993.5 255.58 994.25 269.42 996 272C997.75 274.58 1001.33 268.58 1003 267.5C1004.67 266.42 1004.33 264.42 1006 265.5C1007.67 266.58 1011 271.5 1013 274C1015 276.5 1016.5 280.17 1018 280.5C1019.5 280.83 1020.67 276.08 1022 276C1023.33 275.92 1024.67 277 1026 280C1027.33 283 1028.83 291.17 1030 294C1031.17 296.83 1031.67 294.83 1033 297C1034.33 299.17 1036.5 303 1038 307C1039.5 311 1040.67 319.83 1042 321C1043.33 322.17 1044.5 314.58 1046 314C1047.5 313.42 1049.5 316.75 1051 317.5C1052.5 318.25 1053.67 318.92 1055 318.5C1056.33 318.08 1057.5 312.92 1059 315C1060.5 317.08 1062.33 327 1064 331C1065.67 335 1067.58 339 1069 339C1070.42 339 1071.58 330.67 1072.5 331C1073.42 331.33 1073.5 339.08 1074.5 341C1075.5 342.92 1076.58 344 1078.5 342.5C1080.42 341 1083.75 333.58 1086 332C1088.25 330.42 1089.67 335.25 1092 333C1094.33 330.75 1098 320.33 1100 318.5C1102 316.67 1102.67 319.92 1104 322C1105.33 324.08 1106.67 328.58 1108 331C1109.33 333.42 1110.17 336.58 1112 336.5C1113.83 336.42 1117.17 330.83 1119 330.5C1120.83 330.17 1121.5 335.08 1123 334.5C1124.5 333.92 1126.33 328.67 1128 327C1129.67 325.33 1131.83 326.33 1133 324.5C1134.17 322.67 1133.83 319.25 1135 316C1136.17 312.75 1138.67 306.17 1140 305C1141.33 303.83 1141.83 308.58 1143 309C1144.17 309.42 1146 309.25 1147 307.5C1148 305.75 1148 301.58 1149 298.5C1150 295.42 1151.67 289.33 1153 289C1154.33 288.67 1155.67 296 1157 296.5C1158.33 297 1159.42 294.5 1161 292C1162.58 289.5 1165.17 282.25 1166.5 281.5C1167.83 280.75 1167.75 285.42 1169 287.5C1170.25 289.58 1172.17 290.25 1174 294C1175.83 297.75 1178.67 305.83 1180 310C1181.33 314.17 1180.83 316.58 1182 319C1183.17 321.42 1185.67 323.5 1187 324.5C1188.33 325.5 1188.5 325.92 1190 325C1191.5 324.08 1193.92 321.5 1196 319C1198.08 316.5 1200.83 312.25 1202.5 310C1204.17 307.75 1204.58 308.25 1206 305.5C1207.42 302.75 1209.5 296 1211 293.5C1212.5 291 1214 291.42 1215 290.5C1216 289.58 1215.83 290.58 1217 288C1218.17 285.42 1220.83 278.58 1222 275C1223.17 271.42 1223 270.33 1224 266.5C1225 262.67 1226.72 256.3 1228 252C1229.28 247.7 1230.2 243.25 1231.7 240.7C1233.2 238.15 1235.45 240.7 1237 236.7C1238.55 232.7 1239.67 222.03 1241 216.7C1242.33 211.37 1243.78 206.37 1245 204.7C1246.22 203.03 1247.3 207.62 1248.3 206.7C1249.3 205.78 1249.8 204.07 1251 199.2C1252.2 194.33 1254.17 183.02 1255.5 177.5C1256.83 171.98 1257.48 169.13 1259 166.1C1260.52 163.07 1263 162.52 1264.6 159.3C1266.2 156.08 1267.55 148.7 1268.6 146.8C1269.65 144.9 1269.48 143.35 1270.9 147.9C1272.32 152.45 1275.78 169.55 1277.1 174.1C1278.42 178.65 1278.03 175.97 1278.8 175.2C1279.57 174.43 1280.65 170.53 1281.7 169.5C1282.75 168.47 1283.77 168.42 1285.1 169C1286.43 169.58 1288.37 172.72 1289.7 173C1291.03 173.28 1291.78 173.93 1293.1 170.7C1294.42 167.47 1296.27 158.25 1297.6 153.6C1298.93 148.95 1299.77 143.93 1301.1 142.8C1302.43 141.67 1304.28 144.43 1305.6 146.8C1306.92 149.17 1307.87 154.53 1309 157C1310.13 159.47 1310.88 160.65 1312.4 161.6C1313.92 162.55 1316.57 160.72 1318.1 162.7C1319.63 164.68 1320.45 172.55 1321.6 173.5C1322.75 174.45 1323.68 171.15 1325 168.4C1326.32 165.65 1327.6 157.95 1329.5 157C1331.4 156.05 1334.5 162.42 1336.4 162.7C1338.3 162.98 1339.38 159.08 1340.9 158.7C1342.42 158.32 1344.17 160.68 1345.5 160.4C1346.83 160.12 1347.38 157.28 1348.9 157C1350.42 156.72 1352.7 159.83 1354.6 158.7C1356.5 157.57 1358.78 153.72 1360.3 150.2C1361.82 146.68 1362.57 140.35 1363.7 137.6C1364.83 134.85 1365.77 133.32 1367.1 133.7C1368.43 134.08 1370.37 139.15 1371.7 139.9C1373.03 140.65 1374.15 137.63 1375.1 138.2C1376.05 138.77 1376.27 141.68 1377.4 143.3C1378.53 144.92 1380.38 146.18 1381.9 147.9C1383.42 149.62 1384.78 148.85 1386.5 153.6C1388.22 158.35 1390.5 173.47 1392.2 176.4C1393.9 179.33 1395.95 172.07 1396.7 171.2" fill="none" stroke="#c40000" stroke-width="3.0" stroke-linejoin="round" stroke-linecap="round"/>
<rect x="1201.8" y="221" width="30" height="107.5" fill="none" stroke="#111" stroke-width="1.6"/>
<path d="M806.3 79 L806.3 430 L1401 430" fill="none" stroke="#1a1a1a" stroke-width="2.7" stroke-linejoin="miter" stroke-linecap="square"/>
<line x1="806.3" y1="79" x2="812.8" y2="79" stroke="#1a1a1a" stroke-width="2.7" stroke-linecap="round"/>
<line x1="806.3" y1="167" x2="812.8" y2="167" stroke="#1a1a1a" stroke-width="2.7" stroke-linecap="round"/>
<line x1="806.3" y1="254.9" x2="812.8" y2="254.9" stroke="#1a1a1a" stroke-width="2.7" stroke-linecap="round"/>
<line x1="806.3" y1="342.9" x2="812.8" y2="342.9" stroke="#1a1a1a" stroke-width="2.7" stroke-linecap="round"/>
<line x1="906" y1="430" x2="906" y2="423.5" stroke="#1a1a1a" stroke-width="2.7" stroke-linecap="round"/>
<line x1="1005" y1="430" x2="1005" y2="423.5" stroke="#1a1a1a" stroke-width="2.7" stroke-linecap="round"/>
<line x1="1104" y1="430" x2="1104" y2="423.5" stroke="#1a1a1a" stroke-width="2.7" stroke-linecap="round"/>
<line x1="1203" y1="430" x2="1203" y2="423.5" stroke="#1a1a1a" stroke-width="2.7" stroke-linecap="round"/>
<line x1="1302" y1="430" x2="1302" y2="423.5" stroke="#1a1a1a" stroke-width="2.7" stroke-linecap="round"/>
<line x1="1401" y1="430" x2="1401" y2="423.5" stroke="#1a1a1a" stroke-width="2.7" stroke-linecap="round"/>
<path d="M790.3 77.7 Q793.5 74.73 795.9 71.5 L795.9 91.5" fill="none" stroke="#111" stroke-width="2.75" stroke-linecap="butt" stroke-linejoin="round"/>
<text x="786.45" y="180" font-size="30" textLength="16.38" lengthAdjust="spacingAndGlyphs" fill="#111">0</text>
<path d="M779.6 260.9 H787.5" stroke="#111" stroke-width="2.3"/>
<path d="M792.2 254.3 Q795.52 251.33 798 248.1 L798 268.8" fill="none" stroke="#111" stroke-width="2.75" stroke-linecap="butt" stroke-linejoin="round"/>
<text x="778.73" y="355.4" font-size="30" textLength="26.2" lengthAdjust="spacingAndGlyphs" fill="#111">-2</text>
<text x="778.81" y="443" font-size="30" textLength="26.2" lengthAdjust="spacingAndGlyphs" fill="#111">-3</text>
<text x="795.43" y="467.5" font-size="30" textLength="58.96" lengthAdjust="spacingAndGlyphs" fill="#111">-800</text>
<text x="876.13" y="467.5" font-size="30" textLength="58.96" lengthAdjust="spacingAndGlyphs" fill="#111">-600</text>
<text x="974.43" y="467.5" font-size="30" textLength="58.96" lengthAdjust="spacingAndGlyphs" fill="#111">-400</text>
<text x="1074.93" y="467.5" font-size="30" textLength="58.96" lengthAdjust="spacingAndGlyphs" fill="#111">-200</text>
<text x="1193.79" y="467.5" font-size="30" textLength="16.38" lengthAdjust="spacingAndGlyphs" fill="#111">0</text>
<text x="1276.85" y="467.5" font-size="30" textLength="49.15" lengthAdjust="spacingAndGlyphs" fill="#111">200</text>
<text x="1376.66" y="467.5" font-size="30" textLength="49.15" lengthAdjust="spacingAndGlyphs" fill="#111">400</text>
<text x="1020" y="503" font-size="36.8" textLength="159.6" lengthAdjust="spacingAndGlyphs" fill="#111">Time (ms)</text>
<text transform="translate(768.2 351.3) rotate(-90)" x="-2.92" y="0" font-size="36.8" textLength="215.2" lengthAdjust="spacingAndGlyphs" fill="#111">Potential (&#956;V)</text>
<text x="744.01" y="97.5" font-size="42.5" font-weight="bold" textLength="25.29" lengthAdjust="spacingAndGlyphs" fill="#111">b</text>
<text x="1074.5" y="73.6" font-size="30.25" font-weight="bold" textLength="59.29" lengthAdjust="spacingAndGlyphs" fill="#111">PLC</text>
<line x1="836" y1="80.7" x2="890.6" y2="80.7" stroke="#111" stroke-width="2.7" stroke-linecap="round"/>
<line x1="836" y1="110" x2="890.6" y2="110" stroke="#c40000" stroke-width="2.7" stroke-linecap="round"/>
<text x="905.93" y="91.7" font-size="29.6" textLength="96.07" lengthAdjust="spacingAndGlyphs" fill="#111">Correct</text>
<text x="903.49" y="117.1" font-size="29.6" textLength="114" lengthAdjust="spacingAndGlyphs" fill="#111">Incorrect</text>
<path d="M71 745C71.83 745.25 74.33 746.67 76 746.5C77.67 746.33 79.42 744.67 81 744C82.58 743.33 84.17 741.83 85.5 742.5C86.83 743.17 87.58 745.67 89 748C90.42 750.33 92.17 756 94 756.5C95.83 757 98.33 752.17 100 751C101.67 749.83 102 751.25 104 749.5C106 747.75 110 741.75 112 740.5C114 739.25 114 741.42 116 742C118 742.58 122.17 742.83 124 744C125.83 745.17 126 747 127 749C128 751 128.67 753.58 130 756C131.33 758.42 133.5 762.17 135 763.5C136.5 764.83 137.33 764.92 139 764C140.67 763.08 143 759.67 145 758C147 756.33 149.17 754.5 151 754C152.83 753.5 154.67 754.25 156 755C157.33 755.75 157.33 757.25 159 758.5C160.67 759.75 164.33 761.67 166 762.5C167.67 763.33 167.83 762.5 169 763.5C170.17 764.5 171.67 767.33 173 768.5C174.33 769.67 174.83 770.42 177 770.5C179.17 770.58 183.67 768.17 186 769C188.33 769.83 189.33 774 191 775.5C192.67 777 194.33 776.92 196 778C197.67 779.08 199.33 781.67 201 782C202.67 782.33 204.5 779.83 206 780C207.5 780.17 208.38 781 210 783C211.62 785 214.53 790.42 215.7 792C216.87 793.58 215.78 792 217 792.5C218.22 793 221 795.25 223 795C225 794.75 226.83 791.75 229 791C231.17 790.25 234 789.83 236 790.5C238 791.17 239.5 793.33 241 795C242.5 796.67 243.67 798.5 245 800.5C246.33 802.5 247.33 804.25 249 807C250.67 809.75 252.83 813.5 255 817C257.17 820.5 259.83 827.17 262 828C264.17 828.83 265.67 823.75 268 822C270.33 820.25 273.67 817.58 276 817.5C278.33 817.42 280.33 819.08 282 821.5C283.67 823.92 284.33 830.58 286 832C287.67 833.42 289.5 827.5 292 830C294.5 832.5 298.17 844.25 301 847C303.83 849.75 306.33 847 309 846.5C311.67 846 315.17 844.92 317 844C318.83 843.08 318.5 840.92 320 841C321.5 841.08 323.5 843.33 326 844.5C328.5 845.67 332.83 846.33 335 848C337.17 849.67 337.5 852.17 339 854.5C340.5 856.83 342.17 859.92 344 862C345.83 864.08 348.17 866.08 350 867C351.83 867.92 353 867.83 355 867.5C357 867.17 360.17 865.33 362 865C363.83 864.67 364.33 865.75 366 865.5C367.67 865.25 370 863.08 372 863.5C374 863.92 376.17 866.92 378 868C379.83 869.08 381 871.08 383 870C385 868.92 388 862.83 390 861.5C392 860.17 393.67 862.25 395 862C396.33 861.75 396.83 860.83 398 860C399.17 859.17 400.67 858.92 402 857C403.33 855.08 404.5 850.33 406 848.5C407.5 846.67 409 846.92 411 846C413 845.08 416.17 843.58 418 843C419.83 842.42 420.17 841.58 422 842.5C423.83 843.42 426.67 848.67 429 848.5C431.33 848.33 433.83 842.58 436 841.5C438.17 840.42 440 841.17 442 842C444 842.83 446 846.42 448 846.5C450 846.58 452.33 842.5 454 842.5C455.67 842.5 456.5 844.75 458 846.5C459.5 848.25 460.83 852 463 853C465.17 854 468.83 853.67 471 852.5C473.17 851.33 474.67 848.75 476 846C477.33 843.25 478 838 479 836C480 834 480.5 835 482 834C483.5 833 486.33 833 488 830C489.67 827 490.5 822.67 492 816C493.5 809.33 495.67 796.17 497 790C498.33 783.83 498.67 782.5 500 779C501.33 775.5 503.33 772.5 505 769C506.67 765.5 508.17 759.5 510 758C511.83 756.5 514.5 760.33 516 760C517.5 759.67 517.67 758.5 519 756C520.33 753.5 522.17 748 524 745C525.83 742 528 741 530 738C532 735 534.5 728.5 536 727C537.5 725.5 537.5 727.08 539 729C540.5 730.92 542.83 737.42 545 738.5C547.17 739.58 549.83 736.75 552 735.5C554.17 734.25 556.17 733.92 558 731C559.83 728.08 561.33 722.42 563 718C564.67 713.58 566.17 704.17 568 704.5C569.83 704.83 572.33 716.25 574 720C575.67 723.75 576.17 724.67 578 727C579.83 729.33 582.83 733.67 585 734C587.17 734.33 588.5 730.23 591 729C593.5 727.77 597.83 727.88 600 726.6C602.17 725.32 602.67 722.52 604 721.3C605.33 720.08 606.78 720.85 608 719.3C609.22 717.75 610.08 714.33 611.3 712C612.52 709.67 613.85 705.75 615.3 705.3C616.75 704.85 618.55 707.63 620 709.3C621.45 710.97 622.55 714.18 624 715.3C625.45 716.42 627.15 717.33 628.7 716C630.25 714.67 631.87 708.75 633.3 707.3C634.73 705.85 635.97 705.97 637.3 707.3C638.63 708.63 639.73 712.97 641.3 715.3C642.87 717.63 644.37 719.4 646.7 721.3C649.03 723.2 653.3 725.13 655.3 726.7C657.3 728.27 657.47 729.82 658.7 730.7C659.93 731.58 661.37 731.95 662.7 732C664.03 732.05 666.03 731.17 666.7 731" fill="none" stroke="#0a0a0a" stroke-width="3.0" stroke-linejoin="round" stroke-linecap="round"/>
<path d="M71 732.5C71.83 731.92 74.67 729.17 76 729C77.33 728.83 77.5 728 79 731.5C80.5 735 83 746.92 85 750C87 753.08 89.17 749.33 91 750C92.83 750.67 94.17 752.83 96 754C97.83 755.17 100.33 757.33 102 757C103.67 756.67 104.67 753.25 106 752C107.33 750.75 108.67 749.33 110 749.5C111.33 749.67 112.33 753.75 114 753C115.67 752.25 117.83 745.5 120 745C122.17 744.5 125 750.33 127 750C129 749.67 130.5 744.5 132 743C133.5 741.5 134.17 740.5 136 741C137.83 741.5 141.17 744.75 143 746C144.83 747.25 145.83 748.67 147 748.5C148.17 748.33 148.67 745.33 150 745C151.33 744.67 153.5 745.83 155 746.5C156.5 747.17 157.17 748.33 159 749C160.83 749.67 164.17 749.83 166 750.5C167.83 751.17 168.67 752.08 170 753C171.33 753.92 172.33 752.75 174 756C175.67 759.25 178 771.25 180 772.5C182 773.75 184.33 764.25 186 763.5C187.67 762.75 188.67 766.08 190 768C191.33 769.92 192.67 774.42 194 775C195.33 775.58 196.67 772 198 771.5C199.33 771 200.67 771.42 202 772C203.33 772.58 204.67 774.5 206 775C207.33 775.5 208.5 774.67 210 775C211.5 775.33 213.33 777.5 215 777C216.67 776.5 218.17 774.33 220 772C221.83 769.67 224 763.17 226 763C228 762.83 230 768.67 232 771C234 773.33 235.67 774.17 238 777C240.33 779.83 243.33 784.83 246 788C248.67 791.17 252 793.17 254 796C256 798.83 256.67 803.08 258 805C259.33 806.92 260.67 807.42 262 807.5C263.33 807.58 264.17 804.58 266 805.5C267.83 806.42 271 811.92 273 813C275 814.08 275.83 811.17 278 812C280.17 812.83 284.17 816.42 286 818C287.83 819.58 287.67 820.42 289 821.5C290.33 822.58 292.33 824.83 294 824.5C295.67 824.17 297.33 819.42 299 819.5C300.67 819.58 302.67 822.42 304 825C305.33 827.58 305.5 833.5 307 835C308.5 836.5 311 832.5 313 834C315 835.5 317 843.83 319 844C321 844.17 323 833.5 325 835C327 836.5 329.17 849.58 331 853C332.83 856.42 333.83 853.75 336 855.5C338.17 857.25 341.5 864.25 344 863.5C346.5 862.75 348.83 851.42 351 851C353.17 850.58 355.33 859.83 357 861C358.67 862.17 359.67 859 361 858C362.33 857 363.33 854.42 365 855C366.67 855.58 368.83 859.5 371 861.5C373.17 863.5 376 865.25 378 867C380 868.75 380.67 870.83 383 872C385.33 873.17 389.67 874.17 392 874C394.33 873.83 395.67 872.33 397 871C398.33 869.67 398.67 867.67 400 866C401.33 864.33 403.83 862 405 861C406.17 860 405.67 862.42 407 860C408.33 857.58 411 848.92 413 846.5C415 844.08 417.17 847.08 419 845.5C420.83 843.92 422.33 838.92 424 837C425.67 835.08 427.17 834 429 834C430.83 834 433.5 836.5 435 837C436.5 837.5 436.17 834.67 438 837C439.83 839.33 443.17 847.83 446 851C448.83 854.17 452.33 856.25 455 856C457.67 855.75 460 850 462 849.5C464 849 465.33 851.83 467 853C468.67 854.17 470.17 856.92 472 856.5C473.83 856.08 476 853.92 478 850.5C480 847.08 482.33 839.75 484 836C485.67 832.25 486.67 832.5 488 828C489.33 823.5 490.5 815.33 492 809C493.5 802.67 495.5 795.5 497 790C498.5 784.5 498.83 783.5 501 776C503.17 768.5 507.33 749.75 510 745C512.67 740.25 514.67 749.17 517 747.5C519.33 745.83 522 737.17 524 735C526 732.83 527.17 736.83 529 734.5C530.83 732.17 533.17 722.92 535 721C536.83 719.08 538 720.75 540 723C542 725.25 545.17 733.5 547 734.5C548.83 735.5 549.5 732.58 551 729C552.5 725.42 554.5 716.25 556 713C557.5 709.75 558 712.08 560 709.5C562 706.92 565.83 698.42 568 697.5C570.17 696.58 571.33 700.58 573 704C574.67 707.42 576.17 716.67 578 718C579.83 719.33 582.17 711.67 584 712C585.83 712.33 587.33 717.33 589 720C590.67 722.67 592.17 728.12 594 728C595.83 727.88 598.45 721.97 600 719.3C601.55 716.63 601.97 713.1 603.3 712C604.63 710.9 606.1 713.75 608 712.7C609.9 711.65 612.82 706.15 614.7 705.7C616.58 705.25 617.97 708.95 619.3 710C620.63 711.05 621.25 711.22 622.7 712C624.15 712.78 626 714.7 628 714.7C630 714.7 632.7 714.12 634.7 712C636.7 709.88 638.23 702.45 640 702C641.77 701.55 643.97 706.3 645.3 709.3C646.63 712.3 647.1 717.43 648 720C648.9 722.57 649.58 724.58 650.7 724.7C651.82 724.82 652.93 720.82 654.7 720.7C656.47 720.58 659.3 723.62 661.3 724C663.3 724.38 665.8 723.17 666.7 723" fill="none" stroke="#c40000" stroke-width="3.0" stroke-linejoin="round" stroke-linecap="round"/>
<rect x="465.7" y="804.6" width="29.9" height="107.7" fill="none" stroke="#111" stroke-width="1.6"/>
<path d="M70.6 657 L70.6 1012.6 L664.7 1012.6" fill="none" stroke="#1a1a1a" stroke-width="2.7" stroke-linejoin="miter" stroke-linecap="square"/>
<line x1="70.6" y1="657" x2="77.1" y2="657" stroke="#1a1a1a" stroke-width="2.7" stroke-linecap="round"/>
<line x1="70.6" y1="745.9" x2="77.1" y2="745.9" stroke="#1a1a1a" stroke-width="2.7" stroke-linecap="round"/>
<line x1="70.6" y1="834.8" x2="77.1" y2="834.8" stroke="#1a1a1a" stroke-width="2.7" stroke-linecap="round"/>
<line x1="70.6" y1="923.7" x2="77.1" y2="923.7" stroke="#1a1a1a" stroke-width="2.7" stroke-linecap="round"/>
<line x1="169.6" y1="1012.6" x2="169.6" y2="1006.1" stroke="#1a1a1a" stroke-width="2.7" stroke-linecap="round"/>
<line x1="268.6" y1="1012.6" x2="268.6" y2="1006.1" stroke="#1a1a1a" stroke-width="2.7" stroke-linecap="round"/>
<line x1="367.6" y1="1012.6" x2="367.6" y2="1006.1" stroke="#1a1a1a" stroke-width="2.7" stroke-linecap="round"/>
<line x1="466.6" y1="1012.6" x2="466.6" y2="1006.1" stroke="#1a1a1a" stroke-width="2.7" stroke-linecap="round"/>
<line x1="565.6" y1="1012.6" x2="565.6" y2="1006.1" stroke="#1a1a1a" stroke-width="2.7" stroke-linecap="round"/>
<line x1="664.6" y1="1012.6" x2="664.6" y2="1006.1" stroke="#1a1a1a" stroke-width="2.7" stroke-linecap="round"/>
<path d="M54.6 655.7 Q57.8 652.73 60.2 649.5 L60.2 669.5" fill="none" stroke="#111" stroke-width="2.75" stroke-linecap="butt" stroke-linejoin="round"/>
<text x="50.75" y="758.9" font-size="30" textLength="16.38" lengthAdjust="spacingAndGlyphs" fill="#111">0</text>
<path d="M43.9 840.8 H51.8" stroke="#111" stroke-width="2.3"/>
<path d="M56.5 834.2 Q59.82 831.23 62.3 828 L62.3 848.7" fill="none" stroke="#111" stroke-width="2.75" stroke-linecap="butt" stroke-linejoin="round"/>
<text x="43.03" y="936.2" font-size="30" textLength="26.2" lengthAdjust="spacingAndGlyphs" fill="#111">-2</text>
<text x="43.11" y="1025.6" font-size="30" textLength="26.2" lengthAdjust="spacingAndGlyphs" fill="#111">-3</text>
<text x="56.43" y="1050.5" font-size="30" textLength="58.96" lengthAdjust="spacingAndGlyphs" fill="#111">-800</text>
<text x="141.43" y="1050.5" font-size="30" textLength="58.96" lengthAdjust="spacingAndGlyphs" fill="#111">-600</text>
<text x="240.43" y="1050.5" font-size="30" textLength="58.96" lengthAdjust="spacingAndGlyphs" fill="#111">-400</text>
<text x="340.43" y="1050.5" font-size="30" textLength="58.96" lengthAdjust="spacingAndGlyphs" fill="#111">-200</text>
<text x="458.19" y="1050.5" font-size="30" textLength="16.38" lengthAdjust="spacingAndGlyphs" fill="#111">0</text>
<text x="541.75" y="1050.5" font-size="30" textLength="49.15" lengthAdjust="spacingAndGlyphs" fill="#111">200</text>
<text x="640.66" y="1050.5" font-size="30" textLength="49.15" lengthAdjust="spacingAndGlyphs" fill="#111">400</text>
<text x="295.7" y="1084.3" font-size="36.8" textLength="159.6" lengthAdjust="spacingAndGlyphs" fill="#111">Time (ms)</text>
<text transform="translate(28.7 937) rotate(-90)" x="-2.92" y="0" font-size="36.8" textLength="215.2" lengthAdjust="spacingAndGlyphs" fill="#111">Potential (&#956;V)</text>
<text x="8.17" y="672.6" font-size="42.5" font-weight="bold" textLength="22.69" lengthAdjust="spacingAndGlyphs" fill="#111">c</text>
<text x="346.21" y="656.6" font-size="30.25" font-weight="bold" textLength="41.17" lengthAdjust="spacingAndGlyphs" fill="#111">OT</text>
<line x1="102.5" y1="658.5" x2="157" y2="658.5" stroke="#111" stroke-width="2.7" stroke-linecap="round"/>
<line x1="102.5" y1="688.4" x2="157" y2="688.4" stroke="#c40000" stroke-width="2.7" stroke-linecap="round"/>
<text x="172.73" y="668.5" font-size="29.6" textLength="96.07" lengthAdjust="spacingAndGlyphs" fill="#111">Correct</text>
<text x="174.69" y="697.3" font-size="29.6" textLength="114" lengthAdjust="spacingAndGlyphs" fill="#111">Incorrect</text>
<path d="M807 737.5C807.67 737.75 809.33 738.25 811 739C812.67 739.75 814.75 742.83 817 742C819.25 741.17 822.33 735 824.5 734C826.67 733 828.25 734.92 830 736C831.75 737.08 833.5 738 835 740.5C836.5 743 837.83 748.75 839 751C840.17 753.25 840.67 754.17 842 754C843.33 753.83 845.5 750.75 847 750C848.5 749.25 850 749.08 851 749.5C852 749.92 851.83 753 853 752.5C854.17 752 856.33 746.75 858 746.5C859.67 746.25 861.67 749.17 863 751C864.33 752.83 864.83 756.17 866 757.5C867.17 758.83 868.83 759.25 870 759C871.17 758.75 871.67 756.5 873 756C874.33 755.5 876.5 754.5 878 756C879.5 757.5 880.67 761.5 882 765C883.33 768.5 884.83 774.58 886 777C887.17 779.42 887.5 780 889 779.5C890.5 779 892.83 775.08 895 774C897.17 772.92 900.17 773.33 902 773C903.83 772.67 904.67 771.75 906 772C907.33 772.25 908.5 772.67 910 774.5C911.5 776.33 913.5 781 915 783C916.5 785 917.67 784.5 919 786.5C920.33 788.5 921.58 792.42 923 795C924.42 797.58 925.83 801 927.5 802C929.17 803 931.58 800.75 933 801C934.42 801.25 934.5 804.08 936 803.5C937.5 802.92 940.33 797.92 942 797.5C943.67 797.08 944.83 799.58 946 801C947.17 802.42 948 804.33 949 806C950 807.67 950.5 810.75 952 811C953.5 811.25 956.17 807.17 958 807.5C959.83 807.83 961.67 810.58 963 813C964.33 815.42 964.33 818.25 966 822C967.67 825.75 971 833.83 973 835.5C975 837.17 976.5 832.75 978 832C979.5 831.25 980.67 831.67 982 831C983.33 830.33 984.33 827.17 986 828C987.67 828.83 989.83 836.67 992 836C994.17 835.33 997.33 825.33 999 824C1000.67 822.67 1000.67 824 1002 828C1003.33 832 1005.17 844.5 1007 848C1008.83 851.5 1010.83 847.67 1013 849C1015.17 850.33 1018 853 1020 856C1022 859 1023.67 863.33 1025 867C1026.33 870.67 1026.67 875.5 1028 878C1029.33 880.5 1031 879.83 1033 882C1035 884.17 1037.67 889.83 1040 891C1042.33 892.17 1045 887.5 1047 889C1049 890.5 1050.33 896.83 1052 900C1053.67 903.17 1055.33 904.17 1057 908C1058.67 911.83 1060.67 920.33 1062 923C1063.33 925.67 1063.83 924.67 1065 924C1066.17 923.33 1067.5 918.17 1069 919C1070.5 919.83 1072.67 926.17 1074 929C1075.33 931.83 1075.83 934.83 1077 936C1078.17 937.17 1079.67 935.67 1081 936C1082.33 936.33 1083.58 936.58 1085 938C1086.42 939.42 1088.17 943.83 1089.5 944.5C1090.83 945.17 1091.92 943.25 1093 942C1094.08 940.75 1095 937.33 1096 937C1097 936.67 1098 938.67 1099 940C1100 941.33 1100.83 944.5 1102 945C1103.17 945.5 1104.5 943.33 1106 943C1107.5 942.67 1109.33 943 1111 943C1112.67 943 1114.33 942.33 1116 943C1117.67 943.67 1119.33 946.92 1121 947C1122.67 947.08 1124.17 944.33 1126 943.5C1127.83 942.67 1130.17 943.42 1132 942C1133.83 940.58 1135.67 937.67 1137 935C1138.33 932.33 1138.5 929 1140 926C1141.5 923 1143.83 920.17 1146 917C1148.17 913.83 1150.83 911.17 1153 907C1155.17 902.83 1157.33 894.75 1159 892C1160.67 889.25 1161.5 890.42 1163 890.5C1164.5 890.58 1166.33 891.08 1168 892.5C1169.67 893.92 1171.67 896.75 1173 899C1174.33 901.25 1174.67 904 1176 906C1177.33 908 1178.83 908.5 1181 911C1183.17 913.5 1186.83 920.42 1189 921C1191.17 921.58 1192.33 915.08 1194 914.5C1195.67 913.92 1196.83 918.25 1199 917.5C1201.17 916.75 1205 911.17 1207 910C1209 908.83 1210 910 1211 910.5C1212 911 1211.5 914.92 1213 913C1214.5 911.08 1217.5 907.33 1220 899C1222.5 890.67 1225.83 870.67 1228 863C1230.17 855.33 1231.35 857.9 1233 853C1234.65 848.1 1236.23 840.23 1237.9 833.6C1239.57 826.97 1241.1 818.93 1243 813.2C1244.9 807.47 1247.18 803.23 1249.3 799.2C1251.42 795.17 1253.35 792.2 1255.7 789C1258.05 785.8 1260.85 784.25 1263.4 780C1265.95 775.75 1267.82 764.23 1271 763.5C1274.18 762.77 1279.52 775.6 1282.5 775.6C1285.48 775.6 1286.77 765.93 1288.9 763.5C1291.03 761.07 1292.97 764.62 1295.3 761C1297.63 757.38 1301 745.22 1302.9 741.8C1304.8 738.38 1305 739.23 1306.7 740.5C1308.4 741.77 1311.18 746.32 1313.1 749.4C1315.02 752.48 1315.87 757.5 1318.2 759C1320.53 760.5 1323.48 762.65 1327.1 758.4C1330.72 754.15 1336.7 736.05 1339.9 733.5C1343.1 730.95 1344.38 740.55 1346.3 743.1C1348.22 745.65 1349.92 748.6 1351.4 748.8C1352.88 749 1353.5 744.62 1355.2 744.3C1356.9 743.98 1359.47 748.17 1361.6 746.9C1363.73 745.63 1365.98 739.25 1368 736.7C1370.02 734.15 1372 731.5 1373.7 731.6C1375.4 731.7 1376.6 734.22 1378.2 737.3C1379.8 740.38 1381.6 747.55 1383.3 750.1C1385 752.65 1386.7 752.72 1388.4 752.6C1390.1 752.48 1392.23 749.28 1393.5 749.4C1394.77 749.52 1394.73 750 1396 753.3C1397.27 756.6 1400.25 766.55 1401.1 769.2" fill="none" stroke="#0a0a0a" stroke-width="3.0" stroke-linejoin="round" stroke-linecap="round"/>
<path d="M807 743.5C807.5 742.92 809.17 740.08 810 740C810.83 739.92 810.5 743.67 812 743C813.5 742.33 817.33 736.58 819 736C820.67 735.42 820.67 737.42 822 739.5C823.33 741.58 825.5 746.92 827 748.5C828.5 750.08 829.33 748.42 831 749C832.67 749.58 834.83 753.83 837 752C839.17 750.17 841.83 739.58 844 738C846.17 736.42 848.33 741.83 850 742.5C851.67 743.17 852.33 740.08 854 742C855.67 743.92 858.5 752.08 860 754C861.5 755.92 861.67 755 863 753.5C864.33 752 866.67 746.08 868 745C869.33 743.92 869.83 745.5 871 747C872.17 748.5 873.67 751.67 875 754C876.33 756.33 877.67 760.33 879 761C880.33 761.67 881.67 758.58 883 758C884.33 757.42 885.5 758.67 887 757.5C888.5 756.33 890.17 751.17 892 751C893.83 750.83 896.17 755 898 756.5C899.83 758 901.33 759.17 903 760C904.67 760.83 906.67 761.33 908 761.5C909.33 761.67 909.83 760.42 911 761C912.17 761.58 913.5 762 915 765C916.5 768 918.33 775.5 920 779C921.67 782.5 923.17 785.08 925 786C926.83 786.92 929.33 785.25 931 784.5C932.67 783.75 933.67 782.17 935 781.5C936.33 780.83 937.67 782.08 939 780.5C940.33 778.92 941.67 773.33 943 772C944.33 770.67 945.67 771.17 947 772.5C948.33 773.83 949 777.25 951 780C953 782.75 957 786.17 959 789C961 791.83 961.33 796 963 797C964.67 798 966.67 792.67 969 795C971.33 797.33 975 808 977 811C979 814 979.33 811.67 981 813C982.67 814.33 985.5 817.33 987 819C988.5 820.67 988.33 821.33 990 823C991.67 824.67 995 826.17 997 829C999 831.83 1000.5 834.83 1002 840C1003.5 845.17 1004.83 856.17 1006 860C1007.17 863.83 1007.67 862.83 1009 863C1010.33 863.17 1011.83 859.42 1014 861C1016.17 862.58 1019.5 871.17 1022 872.5C1024.5 873.83 1026.83 867.58 1029 869C1031.17 870.42 1032.83 877.67 1035 881C1037.17 884.33 1040.42 888.5 1042 889C1043.58 889.5 1043.17 885 1044.5 884C1045.83 883 1048.42 881.33 1050 883C1051.58 884.67 1052.5 891.5 1054 894C1055.5 896.5 1057.67 897.17 1059 898C1060.33 898.83 1060.83 898.17 1062 899C1063.17 899.83 1064.33 901.83 1066 903C1067.67 904.17 1069.83 904 1072 906C1074.17 908 1077 914.75 1079 915C1081 915.25 1082.17 908 1084 907.5C1085.83 907 1088.67 911.58 1090 912C1091.33 912.42 1090.83 909.83 1092 910C1093.17 910.17 1095.67 912 1097 913C1098.33 914 1098.17 916.58 1100 916C1101.83 915.42 1105.67 910.25 1108 909.5C1110.33 908.75 1112.33 911.58 1114 911.5C1115.67 911.42 1116 909 1118 909C1120 909 1124 911.67 1126 911.5C1128 911.33 1128.67 910.75 1130 908C1131.33 905.25 1132.67 898.08 1134 895C1135.33 891.92 1136.33 891.67 1138 889.5C1139.67 887.33 1142.17 886.08 1144 882C1145.83 877.92 1147 868.75 1149 865C1151 861.25 1154 861 1156 859.5C1158 858 1159.17 855.58 1161 856C1162.83 856.42 1165.17 861 1167 862C1168.83 863 1170.33 860.33 1172 862C1173.67 863.67 1175.17 868.33 1177 872C1178.83 875.67 1180.67 879.67 1183 884C1185.33 888.33 1188.83 895.5 1191 898C1193.17 900.5 1194.67 898.5 1196 899C1197.33 899.5 1197.67 901.67 1199 901C1200.33 900.33 1202 897 1204 895C1206 893 1209.17 891.5 1211 889C1212.83 886.5 1213.67 884.17 1215 880C1216.33 875.83 1217.73 868.17 1219 864C1220.27 859.83 1220.95 861.13 1222.6 855C1224.25 848.87 1226.57 834.8 1228.9 827.2C1231.23 819.6 1233.83 814.92 1236.6 809.4C1239.37 803.88 1242.95 798.57 1245.5 794.1C1248.05 789.63 1249.57 789.52 1251.9 782.6C1254.23 775.68 1257.17 757.48 1259.5 752.6C1261.83 747.72 1263.77 756.17 1265.9 753.3C1268.03 750.43 1270.82 738.48 1272.3 735.4C1273.78 732.32 1273.1 730.97 1274.8 734.8C1276.5 738.63 1279.73 756.38 1282.5 758.4C1285.27 760.42 1288.63 751.8 1291.4 746.9C1294.17 742 1296.97 732.18 1299.1 729C1301.23 725.82 1302.5 729.5 1304.2 727.8C1305.9 726.1 1307.82 719.87 1309.3 718.8C1310.78 717.73 1311.62 719.05 1313.1 721.4C1314.58 723.75 1316.5 730.57 1318.2 732.9C1319.9 735.23 1321.38 735.93 1323.3 735.4C1325.22 734.87 1327.78 730.77 1329.7 729.7C1331.62 728.63 1332.47 729.97 1334.8 729C1337.13 728.03 1340.08 723.05 1343.7 723.9C1347.32 724.75 1353.73 732.82 1356.5 734.1C1359.27 735.38 1357.97 734.62 1360.3 731.6C1362.63 728.58 1367.32 718.68 1370.5 716C1373.68 713.32 1376.82 715.75 1379.4 715.5C1381.98 715.25 1383.87 714.83 1386 714.5C1388.13 714.17 1390.53 712.78 1392.2 713.5C1393.87 714.22 1394.52 716.53 1396 718.8C1397.48 721.07 1400.25 725.72 1401.1 727.1" fill="none" stroke="#c40000" stroke-width="3.0" stroke-linejoin="round" stroke-linecap="round"/>
<rect x="1203.3" y="818" width="29.4" height="107.6" fill="none" stroke="#111" stroke-width="1.6"/>
<path d="M806.4 652.7 L806.4 1013.5 L1402.5 1013.5" fill="none" stroke="#1a1a1a" stroke-width="2.7" stroke-linejoin="miter" stroke-linecap="square"/>
<line x1="806.4" y1="652.7" x2="812.9" y2="652.7" stroke="#1a1a1a" stroke-width="2.7" stroke-linecap="round"/>
<line x1="806.4" y1="742.9" x2="812.9" y2="742.9" stroke="#1a1a1a" stroke-width="2.7" stroke-linecap="round"/>
<line x1="806.4" y1="833.1" x2="812.9" y2="833.1" stroke="#1a1a1a" stroke-width="2.7" stroke-linecap="round"/>
<line x1="806.4" y1="923.3" x2="812.9" y2="923.3" stroke="#1a1a1a" stroke-width="2.7" stroke-linecap="round"/>
<line x1="905.83" y1="1013.5" x2="905.83" y2="1007" stroke="#1a1a1a" stroke-width="2.7" stroke-linecap="round"/>
<line x1="1005.16" y1="1013.5" x2="1005.16" y2="1007" stroke="#1a1a1a" stroke-width="2.7" stroke-linecap="round"/>
<line x1="1104.49" y1="1013.5" x2="1104.49" y2="1007" stroke="#1a1a1a" stroke-width="2.7" stroke-linecap="round"/>
<line x1="1203.82" y1="1013.5" x2="1203.82" y2="1007" stroke="#1a1a1a" stroke-width="2.7" stroke-linecap="round"/>
<line x1="1303.15" y1="1013.5" x2="1303.15" y2="1007" stroke="#1a1a1a" stroke-width="2.7" stroke-linecap="round"/>
<line x1="1402.48" y1="1013.5" x2="1402.48" y2="1007" stroke="#1a1a1a" stroke-width="2.7" stroke-linecap="round"/>
<path d="M790.4 651.4 Q793.6 648.43 796 645.2 L796 665.2" fill="none" stroke="#111" stroke-width="2.75" stroke-linecap="butt" stroke-linejoin="round"/>
<text x="786.55" y="755.9" font-size="30" textLength="16.38" lengthAdjust="spacingAndGlyphs" fill="#111">0</text>
<path d="M779.7 839.1 H787.6" stroke="#111" stroke-width="2.3"/>
<path d="M792.3 832.5 Q795.62 829.53 798.1 826.3 L798.1 847" fill="none" stroke="#111" stroke-width="2.75" stroke-linecap="butt" stroke-linejoin="round"/>
<text x="778.83" y="935.8" font-size="30" textLength="26.2" lengthAdjust="spacingAndGlyphs" fill="#111">-2</text>
<text x="778.91" y="1026.5" font-size="30" textLength="26.2" lengthAdjust="spacingAndGlyphs" fill="#111">-3</text>
<text x="789.83" y="1051.8" font-size="30" textLength="58.96" lengthAdjust="spacingAndGlyphs" fill="#111">-800</text>
<text x="877.43" y="1051.8" font-size="30" textLength="58.96" lengthAdjust="spacingAndGlyphs" fill="#111">-600</text>
<text x="976.83" y="1051.8" font-size="30" textLength="58.96" lengthAdjust="spacingAndGlyphs" fill="#111">-400</text>
<text x="1076.93" y="1051.8" font-size="30" textLength="58.96" lengthAdjust="spacingAndGlyphs" fill="#111">-200</text>
<text x="1196.79" y="1051.8" font-size="30" textLength="16.38" lengthAdjust="spacingAndGlyphs" fill="#111">0</text>
<text x="1278.85" y="1051.8" font-size="30" textLength="49.15" lengthAdjust="spacingAndGlyphs" fill="#111">200</text>
<text x="1379.56" y="1051.8" font-size="30" textLength="49.15" lengthAdjust="spacingAndGlyphs" fill="#111">400</text>
<text x="1031.8" y="1087.3" font-size="36.8" textLength="159.6" lengthAdjust="spacingAndGlyphs" fill="#111">Time (ms)</text>
<text transform="translate(768 937) rotate(-90)" x="-2.92" y="0" font-size="36.8" textLength="215.2" lengthAdjust="spacingAndGlyphs" fill="#111">Potential (&#956;V)</text>
<text x="743.55" y="673.8" font-size="42.5" font-weight="bold" textLength="25.18" lengthAdjust="spacingAndGlyphs" fill="#111">d</text>
<text x="1073.5" y="657.4" font-size="30.25" font-weight="bold" textLength="59.29" lengthAdjust="spacingAndGlyphs" fill="#111">PLC</text>
<line x1="840" y1="653.4" x2="894.4" y2="653.4" stroke="#111" stroke-width="2.7" stroke-linecap="round"/>
<line x1="840" y1="682.7" x2="894.4" y2="682.7" stroke="#c40000" stroke-width="2.7" stroke-linecap="round"/>
<text x="907.73" y="663.9" font-size="29.6" textLength="96.07" lengthAdjust="spacingAndGlyphs" fill="#111">Correct</text>
<text x="912.79" y="692" font-size="29.6" textLength="114" lengthAdjust="spacingAndGlyphs" fill="#111">Incorrect</text>
<path d="M1450 274.8 Q1453.56 271.92 1456.2 268.8 L1456.2 289.6" fill="none" stroke="#111" stroke-width="2.9" stroke-linecap="butt" stroke-linejoin="round"/>
<rect x="1466" y="286.3" width="2.8" height="3.2" fill="#111"/>
<text x="1472.08" y="289.6" font-size="31" textLength="15.52" lengthAdjust="spacingAndGlyphs" fill="#111">5</text>
<path d="M1447.6 401.4 H1455.2" stroke="#111" stroke-width="2.5"/>
<path d="M1460 394.4 Q1463.44 391.52 1466 388.4 L1466 408.8" fill="none" stroke="#111" stroke-width="2.9" stroke-linecap="butt" stroke-linejoin="round"/>
<rect x="1476" y="405.5" width="2.8" height="3.2" fill="#111"/>
<text x="1482.28" y="408.8" font-size="31" textLength="15.52" lengthAdjust="spacingAndGlyphs" fill="#111">5</text>
<path d="M1450 853.4 Q1453.56 850.52 1456.2 847.4 L1456.2 868.2" fill="none" stroke="#111" stroke-width="2.9" stroke-linecap="butt" stroke-linejoin="round"/>
<rect x="1466" y="864.9" width="2.8" height="3.2" fill="#111"/>
<text x="1472.08" y="868.2" font-size="31" textLength="15.52" lengthAdjust="spacingAndGlyphs" fill="#111">5</text>
<path d="M1447.6 980 H1455.2" stroke="#111" stroke-width="2.5"/>
<path d="M1460 973 Q1463.44 970.12 1466 967 L1466 987.4" fill="none" stroke="#111" stroke-width="2.9" stroke-linecap="butt" stroke-linejoin="round"/>
<rect x="1476" y="984.1" width="2.8" height="3.2" fill="#111"/>
<text x="1482.28" y="987.4" font-size="31" textLength="15.52" lengthAdjust="spacingAndGlyphs" fill="#111">5</text>
</svg></body></html>
